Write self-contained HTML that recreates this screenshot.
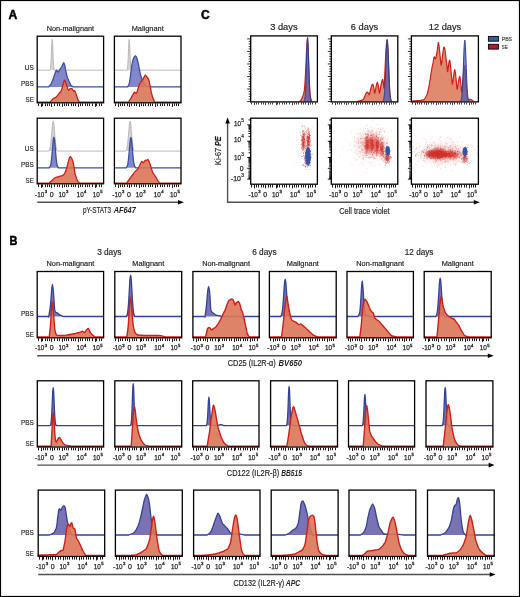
<!DOCTYPE html>
<html><head><meta charset="utf-8"><style>
html,body{margin:0;padding:0;background:#fff;}
body{width:520px;height:597px;overflow:hidden;}
svg{display:block;font-family:"Liberation Sans",sans-serif;will-change:transform;}
</style></head><body>
<svg width="520" height="597" viewBox="0 0 520 597">
<defs><filter id="bl06" x="-50%" y="-50%" width="200%" height="200%"><feGaussianBlur stdDeviation="0.6"/></filter><filter id="bl08" x="-50%" y="-50%" width="200%" height="200%"><feGaussianBlur stdDeviation="0.8"/></filter><filter id="bl10" x="-50%" y="-50%" width="200%" height="200%"><feGaussianBlur stdDeviation="1.0"/></filter><filter id="bl20" x="-50%" y="-50%" width="200%" height="200%"><feGaussianBlur stdDeviation="2.0"/></filter><filter id="bl30" x="-50%" y="-50%" width="200%" height="200%"><feGaussianBlur stdDeviation="3.0"/></filter></defs>
<rect x="0" y="0" width="520" height="597" fill="#fff"/>
<text x="8.6" y="18.5" font-size="12.6" text-anchor="start" font-weight="bold" font-style="normal" fill="#000" textLength="8.8" lengthAdjust="spacingAndGlyphs" stroke="#000" stroke-width="0.5">A</text>
<text x="70.4" y="30.5" font-size="7.5" text-anchor="middle" font-weight="normal" font-style="normal" fill="#231f20" textLength="47.5" lengthAdjust="spacingAndGlyphs" stroke="#231f20" stroke-width="0.18">Non-malignant</text>
<text x="147.7" y="30.5" font-size="7.5" text-anchor="middle" font-weight="normal" font-style="normal" fill="#231f20" textLength="32" lengthAdjust="spacingAndGlyphs" stroke="#231f20" stroke-width="0.18">Malignant</text>
<g>
<path d="M49.95,70.2 C49.95,70.14 49.9,70.05 49.95,69.86 C50,69.67 50.16,69.53 50.27,69.07 C50.38,68.61 50.49,68.09 50.59,67.1 C50.7,66.11 50.81,64.84 50.91,63.11 C51.02,61.38 51.13,59.1 51.24,56.72 C51.34,54.35 51.45,51.31 51.56,48.87 C51.66,46.43 51.77,43.68 51.88,42.1 C51.99,40.52 52.09,39.4 52.2,39.4 C52.31,39.4 52.41,40.52 52.52,42.1 C52.63,43.68 52.74,46.43 52.84,48.87 C52.95,51.31 53.06,54.35 53.16,56.72 C53.27,59.1 53.38,61.38 53.49,63.11 C53.59,64.84 53.7,66.11 53.81,67.1 C53.91,68.09 54.02,68.61 54.13,69.07 C54.24,69.53 54.4,69.67 54.45,69.86 C54.5,70.05 54.45,70.14 54.45,70.2 Z" fill="#d4d4d4" fill-opacity="1" stroke="none"/>
<path d="M37.2,70.2 L49.95,70.2 L49.95,70.2 C49.95,70.14 49.9,70.05 49.95,69.86 C50,69.67 50.16,69.53 50.27,69.07 C50.38,68.61 50.49,68.09 50.59,67.1 C50.7,66.11 50.81,64.84 50.91,63.11 C51.02,61.38 51.13,59.1 51.24,56.72 C51.34,54.35 51.45,51.31 51.56,48.87 C51.66,46.43 51.77,43.68 51.88,42.1 C51.99,40.52 52.09,39.4 52.2,39.4 C52.31,39.4 52.41,40.52 52.52,42.1 C52.63,43.68 52.74,46.43 52.84,48.87 C52.95,51.31 53.06,54.35 53.16,56.72 C53.27,59.1 53.38,61.38 53.49,63.11 C53.59,64.84 53.7,66.11 53.81,67.1 C53.91,68.09 54.02,68.61 54.13,69.07 C54.24,69.53 54.4,69.67 54.45,69.86 C54.5,70.05 54.45,70.14 54.45,70.2 L103.6,70.2" fill="none" stroke="#b3b3b3" stroke-width="0.9" stroke-linejoin="round"/>
<path d="M48.8,86.9 C48.8,86.85 48.43,87.08 48.8,86.6 C49.17,86.12 50.33,85.1 51,84 C51.67,82.9 52.22,81.5 52.8,80 C53.38,78.5 53.93,76.62 54.5,75 C55.07,73.38 55.73,70.93 56.2,70.3 C56.67,69.67 56.97,70.92 57.3,71.2 C57.63,71.48 57.83,72.2 58.2,72 C58.57,71.8 59.05,70.67 59.5,70 C59.95,69.33 60.45,68.67 60.9,68 C61.35,67.33 61.75,66.9 62.2,66 C62.65,65.1 63.17,62.68 63.6,62.6 C64.03,62.52 64.43,64.1 64.8,65.5 C65.17,66.9 65.47,69.33 65.8,71 C66.13,72.67 66.47,74.25 66.8,75.5 C67.13,76.75 67.38,77.42 67.8,78.5 C68.22,79.58 68.77,80.87 69.3,82 C69.83,83.13 70.38,84.53 71,85.3 C71.62,86.07 72.67,86.33 73,86.6 C73.33,86.87 73,86.85 73,86.9 Z" fill="#6f76c0" fill-opacity="0.88" stroke="none"/>
<path d="M37.2,86.9 L48.8,86.9 L48.8,86.9 C48.8,86.85 48.43,87.08 48.8,86.6 C49.17,86.12 50.33,85.1 51,84 C51.67,82.9 52.22,81.5 52.8,80 C53.38,78.5 53.93,76.62 54.5,75 C55.07,73.38 55.73,70.93 56.2,70.3 C56.67,69.67 56.97,70.92 57.3,71.2 C57.63,71.48 57.83,72.2 58.2,72 C58.57,71.8 59.05,70.67 59.5,70 C59.95,69.33 60.45,68.67 60.9,68 C61.35,67.33 61.75,66.9 62.2,66 C62.65,65.1 63.17,62.68 63.6,62.6 C64.03,62.52 64.43,64.1 64.8,65.5 C65.17,66.9 65.47,69.33 65.8,71 C66.13,72.67 66.47,74.25 66.8,75.5 C67.13,76.75 67.38,77.42 67.8,78.5 C68.22,79.58 68.77,80.87 69.3,82 C69.83,83.13 70.38,84.53 71,85.3 C71.62,86.07 72.67,86.33 73,86.6 C73.33,86.87 73,86.85 73,86.9 L103.6,86.9" fill="none" stroke="#3a4fa6" stroke-width="1.3" stroke-linejoin="round"/>
<path d="M50.1,102.2 C50.42,101.83 51.43,100.65 52,100 C52.57,99.35 52.92,98.7 53.5,98.3 C54.08,97.9 54.83,98.07 55.5,97.6 C56.17,97.13 56.88,96.23 57.5,95.5 C58.12,94.77 58.63,93.87 59.2,93.2 C59.77,92.53 60.37,92.53 60.9,91.5 C61.43,90.47 61.93,88.58 62.4,87 C62.87,85.42 63.32,83.15 63.7,82 C64.08,80.85 64.35,79.97 64.7,80.1 C65.05,80.23 65.38,81.73 65.8,82.8 C66.22,83.87 66.78,85.27 67.2,86.5 C67.62,87.73 67.92,89.7 68.3,90.2 C68.68,90.7 69.12,89.8 69.5,89.5 C69.88,89.2 70.23,88.55 70.6,88.4 C70.97,88.25 71.35,88.37 71.7,88.6 C72.05,88.83 72.37,89.37 72.7,89.8 C73.03,90.23 73.37,91.03 73.7,91.2 C74.03,91.37 74.37,90.52 74.7,90.8 C75.03,91.08 75.32,91.87 75.7,92.9 C76.08,93.93 76.53,95.68 77,97 C77.47,98.32 78.02,99.93 78.5,100.8 C78.98,101.67 79.67,101.97 79.9,102.2 Z" fill="#da7556" fill-opacity="0.9" stroke="none"/>
<path d="M37.2,102.2 L50.1,102.2 L50.1,102.2 C50.42,101.83 51.43,100.65 52,100 C52.57,99.35 52.92,98.7 53.5,98.3 C54.08,97.9 54.83,98.07 55.5,97.6 C56.17,97.13 56.88,96.23 57.5,95.5 C58.12,94.77 58.63,93.87 59.2,93.2 C59.77,92.53 60.37,92.53 60.9,91.5 C61.43,90.47 61.93,88.58 62.4,87 C62.87,85.42 63.32,83.15 63.7,82 C64.08,80.85 64.35,79.97 64.7,80.1 C65.05,80.23 65.38,81.73 65.8,82.8 C66.22,83.87 66.78,85.27 67.2,86.5 C67.62,87.73 67.92,89.7 68.3,90.2 C68.68,90.7 69.12,89.8 69.5,89.5 C69.88,89.2 70.23,88.55 70.6,88.4 C70.97,88.25 71.35,88.37 71.7,88.6 C72.05,88.83 72.37,89.37 72.7,89.8 C73.03,90.23 73.37,91.03 73.7,91.2 C74.03,91.37 74.37,90.52 74.7,90.8 C75.03,91.08 75.32,91.87 75.7,92.9 C76.08,93.93 76.53,95.68 77,97 C77.47,98.32 78.02,99.93 78.5,100.8 C78.98,101.67 79.67,101.97 79.9,102.2 L103.6,102.2" fill="none" stroke="#cf1f18" stroke-width="1.3" stroke-linejoin="round"/>
</g>
<rect x="37.2" y="36.2" width="66.4" height="66.6" fill="none" stroke="#000" stroke-width="1.3"/>
<path d="M38.5,103.4 v2.7 M42.5,103.4 v2.7 M45.5,103.4 v2.7 M47.5,103.4 v2.7 M49.5,103.4 v2.7 M54.5,103.4 v2.7 M57.5,103.4 v2.7 M59.5,103.4 v2.7 M64.5,103.4 v2.7 M66.5,103.4 v2.7 M68.5,103.4 v2.7 M71.5,103.4 v2.7 M73.5,103.4 v2.7 M75.5,103.4 v2.7 M80.5,103.4 v2.7 M82.5,103.4 v2.7 M85.5,103.4 v2.7 M87.5,103.4 v2.7 M89.5,103.4 v2.7 M92.5,103.4 v2.7 M96.5,103.4 v2.7 M99.5,103.4 v2.7 M101.5,103.4 v2.7 M41.5,103.4 v3.5 M51.5,103.4 v3.5 M62.5,103.4 v3.5 M78.5,103.4 v3.5 M95.5,103.4 v3.5 " stroke="#000" stroke-width="0.9" fill="none"/>
<g>
<path d="M126.95,70.2 C126.95,70.14 126.9,70.05 126.95,69.86 C127,69.67 127.16,69.53 127.27,69.07 C127.38,68.61 127.49,68.09 127.59,67.1 C127.7,66.11 127.81,64.84 127.91,63.11 C128.02,61.38 128.13,59.1 128.24,56.72 C128.34,54.35 128.45,51.31 128.56,48.87 C128.66,46.43 128.77,43.68 128.88,42.1 C128.99,40.52 129.09,39.4 129.2,39.4 C129.31,39.4 129.41,40.52 129.52,42.1 C129.63,43.68 129.74,46.43 129.84,48.87 C129.95,51.31 130.06,54.35 130.16,56.72 C130.27,59.1 130.38,61.38 130.49,63.11 C130.59,64.84 130.7,66.11 130.81,67.1 C130.91,68.09 131.02,68.61 131.13,69.07 C131.24,69.53 131.4,69.67 131.45,69.86 C131.5,70.05 131.45,70.14 131.45,70.2 Z" fill="#d4d4d4" fill-opacity="1" stroke="none"/>
<path d="M114.4,70.2 L126.95,70.2 L126.95,70.2 C126.95,70.14 126.9,70.05 126.95,69.86 C127,69.67 127.16,69.53 127.27,69.07 C127.38,68.61 127.49,68.09 127.59,67.1 C127.7,66.11 127.81,64.84 127.91,63.11 C128.02,61.38 128.13,59.1 128.24,56.72 C128.34,54.35 128.45,51.31 128.56,48.87 C128.66,46.43 128.77,43.68 128.88,42.1 C128.99,40.52 129.09,39.4 129.2,39.4 C129.31,39.4 129.41,40.52 129.52,42.1 C129.63,43.68 129.74,46.43 129.84,48.87 C129.95,51.31 130.06,54.35 130.16,56.72 C130.27,59.1 130.38,61.38 130.49,63.11 C130.59,64.84 130.7,66.11 130.81,67.1 C130.91,68.09 131.02,68.61 131.13,69.07 C131.24,69.53 131.4,69.67 131.45,69.86 C131.5,70.05 131.45,70.14 131.45,70.2 L181,70.2" fill="none" stroke="#b3b3b3" stroke-width="0.9" stroke-linejoin="round"/>
<path d="M127.6,86.9 C127.6,86.85 127.37,87 127.6,86.6 C127.83,86.2 128.57,85.93 129,84.5 C129.43,83.07 129.82,80.58 130.2,78 C130.58,75.42 130.92,71.68 131.3,69 C131.68,66.32 132.05,63.83 132.5,61.9 C132.95,59.97 133.48,58.4 134,57.4 C134.52,56.4 135.1,55.72 135.6,55.9 C136.1,56.08 136.53,57.12 137,58.5 C137.47,59.88 137.97,62.2 138.4,64.2 C138.83,66.2 139.2,68.57 139.6,70.5 C140,72.43 140.3,74.2 140.8,75.8 C141.3,77.4 141.97,78.7 142.6,80.1 C143.23,81.5 143.87,83.17 144.6,84.2 C145.33,85.23 146.35,85.9 147,86.3 C147.65,86.7 148.25,86.5 148.5,86.6 C148.75,86.7 148.5,86.85 148.5,86.9 Z" fill="#6f76c0" fill-opacity="0.88" stroke="none"/>
<path d="M114.4,86.9 L127.6,86.9 L127.6,86.9 C127.6,86.85 127.37,87 127.6,86.6 C127.83,86.2 128.57,85.93 129,84.5 C129.43,83.07 129.82,80.58 130.2,78 C130.58,75.42 130.92,71.68 131.3,69 C131.68,66.32 132.05,63.83 132.5,61.9 C132.95,59.97 133.48,58.4 134,57.4 C134.52,56.4 135.1,55.72 135.6,55.9 C136.1,56.08 136.53,57.12 137,58.5 C137.47,59.88 137.97,62.2 138.4,64.2 C138.83,66.2 139.2,68.57 139.6,70.5 C140,72.43 140.3,74.2 140.8,75.8 C141.3,77.4 141.97,78.7 142.6,80.1 C143.23,81.5 143.87,83.17 144.6,84.2 C145.33,85.23 146.35,85.9 147,86.3 C147.65,86.7 148.25,86.5 148.5,86.6 C148.75,86.7 148.5,86.85 148.5,86.9 L181,86.9" fill="none" stroke="#3a4fa6" stroke-width="1.3" stroke-linejoin="round"/>
<path d="M128.5,102.2 C128.92,101.5 130.22,99.33 131,98 C131.78,96.67 132.62,95.17 133.2,94.2 C133.78,93.23 134.12,92.4 134.5,92.2 C134.88,92 135.15,92.88 135.5,93 C135.85,93.12 136.15,93.73 136.6,92.9 C137.05,92.07 137.65,89.57 138.2,88 C138.75,86.43 139.35,84.67 139.9,83.5 C140.45,82.33 141,81.68 141.5,81 C142,80.32 142.47,80.07 142.9,79.4 C143.33,78.73 143.7,77.72 144.1,77 C144.5,76.28 144.9,75.18 145.3,75.1 C145.7,75.02 146.1,76.05 146.5,76.5 C146.9,76.95 147.28,77.08 147.7,77.8 C148.12,78.52 148.58,79.35 149,80.8 C149.42,82.25 149.8,84.48 150.2,86.5 C150.6,88.52 150.93,90.95 151.4,92.9 C151.87,94.85 152.42,96.65 153,98.2 C153.58,99.75 154.58,101.53 154.9,102.2 Z" fill="#da7556" fill-opacity="0.9" stroke="none"/>
<path d="M114.4,102.2 L128.5,102.2 L128.5,102.2 C128.92,101.5 130.22,99.33 131,98 C131.78,96.67 132.62,95.17 133.2,94.2 C133.78,93.23 134.12,92.4 134.5,92.2 C134.88,92 135.15,92.88 135.5,93 C135.85,93.12 136.15,93.73 136.6,92.9 C137.05,92.07 137.65,89.57 138.2,88 C138.75,86.43 139.35,84.67 139.9,83.5 C140.45,82.33 141,81.68 141.5,81 C142,80.32 142.47,80.07 142.9,79.4 C143.33,78.73 143.7,77.72 144.1,77 C144.5,76.28 144.9,75.18 145.3,75.1 C145.7,75.02 146.1,76.05 146.5,76.5 C146.9,76.95 147.28,77.08 147.7,77.8 C148.12,78.52 148.58,79.35 149,80.8 C149.42,82.25 149.8,84.48 150.2,86.5 C150.6,88.52 150.93,90.95 151.4,92.9 C151.87,94.85 152.42,96.65 153,98.2 C153.58,99.75 154.58,101.53 154.9,102.2 L181,102.2" fill="none" stroke="#cf1f18" stroke-width="1.3" stroke-linejoin="round"/>
</g>
<rect x="114.4" y="36.2" width="66.6" height="66.6" fill="none" stroke="#000" stroke-width="1.3"/>
<path d="M115.5,103.4 v2.7 M120.5,103.4 v2.7 M122.5,103.4 v2.7 M124.5,103.4 v2.7 M127.5,103.4 v2.7 M131.5,103.4 v2.7 M134.5,103.4 v2.7 M136.5,103.4 v2.7 M141.5,103.4 v2.7 M143.5,103.4 v2.7 M145.5,103.4 v2.7 M148.5,103.4 v2.7 M150.5,103.4 v2.7 M152.5,103.4 v2.7 M157.5,103.4 v2.7 M160.5,103.4 v2.7 M162.5,103.4 v2.7 M164.5,103.4 v2.7 M167.5,103.4 v2.7 M169.5,103.4 v2.7 M174.5,103.4 v2.7 M176.5,103.4 v2.7 M178.5,103.4 v2.7 M118.5,103.4 v3.5 M129.5,103.4 v3.5 M139.5,103.4 v3.5 M155.5,103.4 v3.5 M172.5,103.4 v3.5 " stroke="#000" stroke-width="0.9" fill="none"/>
<g>
<path d="M48.85,151.1 C48.85,151.04 48.75,150.95 48.85,150.76 C48.95,150.58 49.26,150.44 49.47,149.99 C49.68,149.54 49.89,149.03 50.09,148.05 C50.3,147.07 50.51,145.83 50.71,144.13 C50.92,142.43 51.13,140.18 51.34,137.84 C51.54,135.51 51.75,132.51 51.96,130.12 C52.16,127.72 52.37,125.01 52.58,123.46 C52.79,121.91 52.99,120.8 53.2,120.8 C53.41,120.8 53.61,121.91 53.82,123.46 C54.03,125.01 54.24,127.72 54.44,130.12 C54.65,132.51 54.86,135.51 55.06,137.84 C55.27,140.18 55.48,142.43 55.69,144.13 C55.89,145.83 56.1,147.07 56.31,148.05 C56.51,149.03 56.72,149.54 56.93,149.99 C57.14,150.44 57.45,150.58 57.55,150.76 C57.65,150.95 57.55,151.04 57.55,151.1 Z" fill="#d4d4d4" fill-opacity="1" stroke="none"/>
<path d="M37.2,151.1 L48.85,151.1 L48.85,151.1 C48.85,151.04 48.75,150.95 48.85,150.76 C48.95,150.58 49.26,150.44 49.47,149.99 C49.68,149.54 49.89,149.03 50.09,148.05 C50.3,147.07 50.51,145.83 50.71,144.13 C50.92,142.43 51.13,140.18 51.34,137.84 C51.54,135.51 51.75,132.51 51.96,130.12 C52.16,127.72 52.37,125.01 52.58,123.46 C52.79,121.91 52.99,120.8 53.2,120.8 C53.41,120.8 53.61,121.91 53.82,123.46 C54.03,125.01 54.24,127.72 54.44,130.12 C54.65,132.51 54.86,135.51 55.06,137.84 C55.27,140.18 55.48,142.43 55.69,144.13 C55.89,145.83 56.1,147.07 56.31,148.05 C56.51,149.03 56.72,149.54 56.93,149.99 C57.14,150.44 57.45,150.58 57.55,150.76 C57.65,150.95 57.55,151.04 57.55,151.1 L103.6,151.1" fill="none" stroke="#b3b3b3" stroke-width="0.9" stroke-linejoin="round"/>
<path d="M49.55,167.8 C49.55,167.71 49.45,167.48 49.55,167.26 C49.65,167.04 49.96,166.94 50.17,166.49 C50.38,166.03 50.59,165.52 50.79,164.54 C51,163.56 51.21,162.31 51.41,160.61 C51.62,158.9 51.83,156.64 52.04,154.3 C52.24,151.95 52.45,148.95 52.66,146.55 C52.86,144.14 53.07,141.43 53.28,139.87 C53.49,138.31 53.69,137.2 53.9,137.2 C54.11,137.2 54.31,138.31 54.52,139.87 C54.73,141.43 54.94,144.14 55.14,146.55 C55.35,148.95 55.56,151.95 55.76,154.3 C55.97,156.64 56.18,158.9 56.39,160.61 C56.59,162.31 56.8,163.56 57.01,164.54 C57.21,165.52 57.42,166.03 57.63,166.49 C57.84,166.94 58.15,167.04 58.25,167.26 C58.35,167.48 58.25,167.71 58.25,167.8 Z" fill="#6f76c0" fill-opacity="0.88" stroke="none"/>
<path d="M37.2,167.8 L49.55,167.8 L49.55,167.8 C49.55,167.71 49.45,167.48 49.55,167.26 C49.65,167.04 49.96,166.94 50.17,166.49 C50.38,166.03 50.59,165.52 50.79,164.54 C51,163.56 51.21,162.31 51.41,160.61 C51.62,158.9 51.83,156.64 52.04,154.3 C52.24,151.95 52.45,148.95 52.66,146.55 C52.86,144.14 53.07,141.43 53.28,139.87 C53.49,138.31 53.69,137.2 53.9,137.2 C54.11,137.2 54.31,138.31 54.52,139.87 C54.73,141.43 54.94,144.14 55.14,146.55 C55.35,148.95 55.56,151.95 55.76,154.3 C55.97,156.64 56.18,158.9 56.39,160.61 C56.59,162.31 56.8,163.56 57.01,164.54 C57.21,165.52 57.42,166.03 57.63,166.49 C57.84,166.94 58.15,167.04 58.25,167.26 C58.35,167.48 58.25,167.71 58.25,167.8 L103.6,167.8" fill="none" stroke="#3a4fa6" stroke-width="1.3" stroke-linejoin="round"/>
<path d="M48.8,183.2 C49.17,182.92 50.22,182.2 51,181.5 C51.78,180.8 52.75,179.67 53.5,179 C54.25,178.33 54.83,177.85 55.5,177.5 C56.17,177.15 56.92,177.07 57.5,176.9 C58.08,176.73 58.55,176.62 59,176.5 C59.45,176.38 59.67,176.35 60.2,176.2 C60.73,176.05 61.52,175.93 62.2,175.6 C62.88,175.27 63.72,174.97 64.3,174.2 C64.88,173.43 65.25,172.23 65.7,171 C66.15,169.77 66.55,168.38 67,166.8 C67.45,165.22 68,162.97 68.4,161.5 C68.8,160.03 69.08,158.8 69.4,158 C69.72,157.2 70,156.78 70.3,156.7 C70.6,156.62 70.88,157.03 71.2,157.5 C71.52,157.97 71.9,158.82 72.2,159.5 C72.5,160.18 72.7,160.35 73,161.6 C73.3,162.85 73.67,165.02 74,167 C74.33,168.98 74.58,171.63 75,173.5 C75.42,175.37 76,176.87 76.5,178.2 C77,179.53 77.43,180.67 78,181.5 C78.57,182.33 79.58,182.92 79.9,183.2 Z" fill="#da7556" fill-opacity="0.9" stroke="none"/>
<path d="M37.2,183.2 L48.8,183.2 L48.8,183.2 C49.17,182.92 50.22,182.2 51,181.5 C51.78,180.8 52.75,179.67 53.5,179 C54.25,178.33 54.83,177.85 55.5,177.5 C56.17,177.15 56.92,177.07 57.5,176.9 C58.08,176.73 58.55,176.62 59,176.5 C59.45,176.38 59.67,176.35 60.2,176.2 C60.73,176.05 61.52,175.93 62.2,175.6 C62.88,175.27 63.72,174.97 64.3,174.2 C64.88,173.43 65.25,172.23 65.7,171 C66.15,169.77 66.55,168.38 67,166.8 C67.45,165.22 68,162.97 68.4,161.5 C68.8,160.03 69.08,158.8 69.4,158 C69.72,157.2 70,156.78 70.3,156.7 C70.6,156.62 70.88,157.03 71.2,157.5 C71.52,157.97 71.9,158.82 72.2,159.5 C72.5,160.18 72.7,160.35 73,161.6 C73.3,162.85 73.67,165.02 74,167 C74.33,168.98 74.58,171.63 75,173.5 C75.42,175.37 76,176.87 76.5,178.2 C77,179.53 77.43,180.67 78,181.5 C78.57,182.33 79.58,182.92 79.9,183.2 L103.6,183.2" fill="none" stroke="#cf1f18" stroke-width="1.3" stroke-linejoin="round"/>
</g>
<rect x="37.2" y="118.2" width="66.4" height="65.6" fill="none" stroke="#000" stroke-width="1.3"/>
<path d="M38.5,184.4 v2.7 M42.5,184.4 v2.7 M45.5,184.4 v2.7 M47.5,184.4 v2.7 M49.5,184.4 v2.7 M54.5,184.4 v2.7 M57.5,184.4 v2.7 M59.5,184.4 v2.7 M64.5,184.4 v2.7 M66.5,184.4 v2.7 M68.5,184.4 v2.7 M71.5,184.4 v2.7 M73.5,184.4 v2.7 M75.5,184.4 v2.7 M80.5,184.4 v2.7 M82.5,184.4 v2.7 M85.5,184.4 v2.7 M87.5,184.4 v2.7 M89.5,184.4 v2.7 M92.5,184.4 v2.7 M96.5,184.4 v2.7 M99.5,184.4 v2.7 M101.5,184.4 v2.7 M41.5,184.4 v3.5 M51.5,184.4 v3.5 M62.5,184.4 v3.5 M78.5,184.4 v3.5 M95.5,184.4 v3.5 " stroke="#000" stroke-width="0.9" fill="none"/>
<text x="35.1" y="197" font-size="7.3" text-anchor="start" font-weight="normal" font-style="normal" fill="#231f20" textLength="9.2" lengthAdjust="spacingAndGlyphs" stroke="#231f20" stroke-width="0.25">-10</text>
<text x="44.7" y="193.2" font-size="4.4" text-anchor="start" font-weight="normal" font-style="normal" fill="#231f20" textLength="2.4" lengthAdjust="spacingAndGlyphs" stroke="#231f20" stroke-width="0.3">3</text>
<text x="49.8" y="197" font-size="7.3" text-anchor="start" font-weight="normal" font-style="normal" fill="#231f20" textLength="3.9" lengthAdjust="spacingAndGlyphs" stroke="#231f20" stroke-width="0.25">0</text>
<text x="58.5" y="197" font-size="7.3" text-anchor="start" font-weight="normal" font-style="normal" fill="#231f20" textLength="7.1" lengthAdjust="spacingAndGlyphs" stroke="#231f20" stroke-width="0.25">10</text>
<text x="66" y="193.2" font-size="4.4" text-anchor="start" font-weight="normal" font-style="normal" fill="#231f20" textLength="2.4" lengthAdjust="spacingAndGlyphs" stroke="#231f20" stroke-width="0.3">3</text>
<text x="76.6" y="197" font-size="7.3" text-anchor="start" font-weight="normal" font-style="normal" fill="#231f20" textLength="7.1" lengthAdjust="spacingAndGlyphs" stroke="#231f20" stroke-width="0.25">10</text>
<text x="84.1" y="193.2" font-size="4.4" text-anchor="start" font-weight="normal" font-style="normal" fill="#231f20" textLength="2.4" lengthAdjust="spacingAndGlyphs" stroke="#231f20" stroke-width="0.3">4</text>
<text x="92.8" y="197" font-size="7.3" text-anchor="start" font-weight="normal" font-style="normal" fill="#231f20" textLength="7.1" lengthAdjust="spacingAndGlyphs" stroke="#231f20" stroke-width="0.25">10</text>
<text x="100.3" y="193.2" font-size="4.4" text-anchor="start" font-weight="normal" font-style="normal" fill="#231f20" textLength="2.4" lengthAdjust="spacingAndGlyphs" stroke="#231f20" stroke-width="0.3">5</text>
<g>
<path d="M125.75,151.1 C125.75,151.04 125.65,150.95 125.75,150.77 C125.85,150.58 126.16,150.45 126.37,150 C126.58,149.55 126.79,149.04 126.99,148.07 C127.2,147.1 127.41,145.87 127.61,144.18 C127.82,142.48 128.03,140.25 128.24,137.93 C128.44,135.61 128.65,132.64 128.86,130.25 C129.06,127.87 129.27,125.18 129.48,123.64 C129.69,122.1 129.89,121 130.1,121 C130.31,121 130.51,122.1 130.72,123.64 C130.93,125.18 131.14,127.87 131.34,130.25 C131.55,132.64 131.76,135.61 131.96,137.93 C132.17,140.25 132.38,142.48 132.59,144.18 C132.79,145.87 133,147.1 133.21,148.07 C133.41,149.04 133.62,149.55 133.83,150 C134.04,150.45 134.35,150.58 134.45,150.77 C134.55,150.95 134.45,151.04 134.45,151.1 Z" fill="#d4d4d4" fill-opacity="1" stroke="none"/>
<path d="M114.4,151.1 L125.75,151.1 L125.75,151.1 C125.75,151.04 125.65,150.95 125.75,150.77 C125.85,150.58 126.16,150.45 126.37,150 C126.58,149.55 126.79,149.04 126.99,148.07 C127.2,147.1 127.41,145.87 127.61,144.18 C127.82,142.48 128.03,140.25 128.24,137.93 C128.44,135.61 128.65,132.64 128.86,130.25 C129.06,127.87 129.27,125.18 129.48,123.64 C129.69,122.1 129.89,121 130.1,121 C130.31,121 130.51,122.1 130.72,123.64 C130.93,125.18 131.14,127.87 131.34,130.25 C131.55,132.64 131.76,135.61 131.96,137.93 C132.17,140.25 132.38,142.48 132.59,144.18 C132.79,145.87 133,147.1 133.21,148.07 C133.41,149.04 133.62,149.55 133.83,150 C134.04,150.45 134.35,150.58 134.45,150.77 C134.55,150.95 134.45,151.04 134.45,151.1 L181,151.1" fill="none" stroke="#b3b3b3" stroke-width="0.9" stroke-linejoin="round"/>
<path d="M126.4,167.8 C126.4,167.71 126.29,167.48 126.4,167.27 C126.51,167.05 126.83,166.95 127.04,166.5 C127.26,166.05 127.47,165.54 127.69,164.57 C127.9,163.6 128.11,162.37 128.33,160.68 C128.54,158.98 128.76,156.75 128.97,154.43 C129.19,152.11 129.4,149.14 129.61,146.75 C129.83,144.37 130.04,141.68 130.26,140.14 C130.47,138.6 130.69,137.5 130.9,137.5 C131.11,137.5 131.33,138.6 131.54,140.14 C131.76,141.68 131.97,144.37 132.19,146.75 C132.4,149.14 132.61,152.11 132.83,154.43 C133.04,156.75 133.26,158.98 133.47,160.68 C133.69,162.37 133.9,163.6 134.11,164.57 C134.33,165.54 134.54,166.05 134.76,166.5 C134.97,166.95 135.29,167.05 135.4,167.27 C135.51,167.48 135.4,167.71 135.4,167.8 Z" fill="#6f76c0" fill-opacity="0.88" stroke="none"/>
<path d="M114.4,167.8 L126.4,167.8 L126.4,167.8 C126.4,167.71 126.29,167.48 126.4,167.27 C126.51,167.05 126.83,166.95 127.04,166.5 C127.26,166.05 127.47,165.54 127.69,164.57 C127.9,163.6 128.11,162.37 128.33,160.68 C128.54,158.98 128.76,156.75 128.97,154.43 C129.19,152.11 129.4,149.14 129.61,146.75 C129.83,144.37 130.04,141.68 130.26,140.14 C130.47,138.6 130.69,137.5 130.9,137.5 C131.11,137.5 131.33,138.6 131.54,140.14 C131.76,141.68 131.97,144.37 132.19,146.75 C132.4,149.14 132.61,152.11 132.83,154.43 C133.04,156.75 133.26,158.98 133.47,160.68 C133.69,162.37 133.9,163.6 134.11,164.57 C134.33,165.54 134.54,166.05 134.76,166.5 C134.97,166.95 135.29,167.05 135.4,167.27 C135.51,167.48 135.4,167.71 135.4,167.8 L181,167.8" fill="none" stroke="#3a4fa6" stroke-width="1.3" stroke-linejoin="round"/>
<path d="M126.5,183.2 C126.83,182.75 127.83,181.43 128.5,180.5 C129.17,179.57 129.83,178.52 130.5,177.6 C131.17,176.68 131.83,175.9 132.5,175 C133.17,174.1 133.88,172.95 134.5,172.2 C135.12,171.45 135.63,171.07 136.2,170.5 C136.77,169.93 137.38,169.55 137.9,168.8 C138.42,168.05 138.85,166.9 139.3,166 C139.75,165.1 140.28,164.07 140.6,163.4 C140.92,162.73 140.98,162.33 141.2,162 C141.42,161.67 141.67,161.32 141.9,161.4 C142.13,161.48 142.37,162.27 142.6,162.5 C142.83,162.73 143.02,162.97 143.3,162.8 C143.58,162.63 143.97,161.92 144.3,161.5 C144.63,161.08 144.93,160.47 145.3,160.3 C145.67,160.13 146.1,160.65 146.5,160.5 C146.9,160.35 147.37,159.4 147.7,159.4 C148.03,159.4 148.23,160.05 148.5,160.5 C148.77,160.95 149,161.35 149.3,162.1 C149.6,162.85 149.95,163.88 150.3,165 C150.65,166.12 151.05,167.72 151.4,168.8 C151.75,169.88 152.07,170.72 152.4,171.5 C152.73,172.28 153.02,172.83 153.4,173.5 C153.78,174.17 154.25,174.82 154.7,175.5 C155.15,176.18 155.58,176.77 156.1,177.6 C156.62,178.43 157.22,179.57 157.8,180.5 C158.38,181.43 159.3,182.75 159.6,183.2 Z" fill="#da7556" fill-opacity="0.9" stroke="none"/>
<path d="M114.4,183.2 L126.5,183.2 L126.5,183.2 C126.83,182.75 127.83,181.43 128.5,180.5 C129.17,179.57 129.83,178.52 130.5,177.6 C131.17,176.68 131.83,175.9 132.5,175 C133.17,174.1 133.88,172.95 134.5,172.2 C135.12,171.45 135.63,171.07 136.2,170.5 C136.77,169.93 137.38,169.55 137.9,168.8 C138.42,168.05 138.85,166.9 139.3,166 C139.75,165.1 140.28,164.07 140.6,163.4 C140.92,162.73 140.98,162.33 141.2,162 C141.42,161.67 141.67,161.32 141.9,161.4 C142.13,161.48 142.37,162.27 142.6,162.5 C142.83,162.73 143.02,162.97 143.3,162.8 C143.58,162.63 143.97,161.92 144.3,161.5 C144.63,161.08 144.93,160.47 145.3,160.3 C145.67,160.13 146.1,160.65 146.5,160.5 C146.9,160.35 147.37,159.4 147.7,159.4 C148.03,159.4 148.23,160.05 148.5,160.5 C148.77,160.95 149,161.35 149.3,162.1 C149.6,162.85 149.95,163.88 150.3,165 C150.65,166.12 151.05,167.72 151.4,168.8 C151.75,169.88 152.07,170.72 152.4,171.5 C152.73,172.28 153.02,172.83 153.4,173.5 C153.78,174.17 154.25,174.82 154.7,175.5 C155.15,176.18 155.58,176.77 156.1,177.6 C156.62,178.43 157.22,179.57 157.8,180.5 C158.38,181.43 159.3,182.75 159.6,183.2 L181,183.2" fill="none" stroke="#cf1f18" stroke-width="1.3" stroke-linejoin="round"/>
</g>
<rect x="114.4" y="118.2" width="66.6" height="65.6" fill="none" stroke="#000" stroke-width="1.3"/>
<path d="M115.5,184.4 v2.7 M120.5,184.4 v2.7 M122.5,184.4 v2.7 M124.5,184.4 v2.7 M127.5,184.4 v2.7 M131.5,184.4 v2.7 M134.5,184.4 v2.7 M136.5,184.4 v2.7 M141.5,184.4 v2.7 M143.5,184.4 v2.7 M145.5,184.4 v2.7 M148.5,184.4 v2.7 M150.5,184.4 v2.7 M152.5,184.4 v2.7 M157.5,184.4 v2.7 M160.5,184.4 v2.7 M162.5,184.4 v2.7 M164.5,184.4 v2.7 M167.5,184.4 v2.7 M169.5,184.4 v2.7 M174.5,184.4 v2.7 M176.5,184.4 v2.7 M178.5,184.4 v2.7 M118.5,184.4 v3.5 M129.5,184.4 v3.5 M139.5,184.4 v3.5 M155.5,184.4 v3.5 M172.5,184.4 v3.5 " stroke="#000" stroke-width="0.9" fill="none"/>
<text x="112.3" y="197" font-size="7.3" text-anchor="start" font-weight="normal" font-style="normal" fill="#231f20" textLength="9.2" lengthAdjust="spacingAndGlyphs" stroke="#231f20" stroke-width="0.25">-10</text>
<text x="121.9" y="193.2" font-size="4.4" text-anchor="start" font-weight="normal" font-style="normal" fill="#231f20" textLength="2.4" lengthAdjust="spacingAndGlyphs" stroke="#231f20" stroke-width="0.3">3</text>
<text x="127" y="197" font-size="7.3" text-anchor="start" font-weight="normal" font-style="normal" fill="#231f20" textLength="3.9" lengthAdjust="spacingAndGlyphs" stroke="#231f20" stroke-width="0.25">0</text>
<text x="135.7" y="197" font-size="7.3" text-anchor="start" font-weight="normal" font-style="normal" fill="#231f20" textLength="7.1" lengthAdjust="spacingAndGlyphs" stroke="#231f20" stroke-width="0.25">10</text>
<text x="143.2" y="193.2" font-size="4.4" text-anchor="start" font-weight="normal" font-style="normal" fill="#231f20" textLength="2.4" lengthAdjust="spacingAndGlyphs" stroke="#231f20" stroke-width="0.3">3</text>
<text x="153.8" y="197" font-size="7.3" text-anchor="start" font-weight="normal" font-style="normal" fill="#231f20" textLength="7.1" lengthAdjust="spacingAndGlyphs" stroke="#231f20" stroke-width="0.25">10</text>
<text x="161.3" y="193.2" font-size="4.4" text-anchor="start" font-weight="normal" font-style="normal" fill="#231f20" textLength="2.4" lengthAdjust="spacingAndGlyphs" stroke="#231f20" stroke-width="0.3">4</text>
<text x="170" y="197" font-size="7.3" text-anchor="start" font-weight="normal" font-style="normal" fill="#231f20" textLength="7.1" lengthAdjust="spacingAndGlyphs" stroke="#231f20" stroke-width="0.25">10</text>
<text x="177.5" y="193.2" font-size="4.4" text-anchor="start" font-weight="normal" font-style="normal" fill="#231f20" textLength="2.4" lengthAdjust="spacingAndGlyphs" stroke="#231f20" stroke-width="0.3">5</text>
<text x="33.8" y="69.6" font-size="7.7" text-anchor="end" font-weight="normal" font-style="normal" fill="#231f20" textLength="9" lengthAdjust="spacingAndGlyphs" stroke="#231f20" stroke-width="0.18">US</text>
<text x="33.8" y="86.4" font-size="7.7" text-anchor="end" font-weight="normal" font-style="normal" fill="#231f20" textLength="12.8" lengthAdjust="spacingAndGlyphs" stroke="#231f20" stroke-width="0.18">PBS</text>
<text x="33.8" y="102" font-size="7.7" text-anchor="end" font-weight="normal" font-style="normal" fill="#231f20" textLength="8.2" lengthAdjust="spacingAndGlyphs" stroke="#231f20" stroke-width="0.18">SE</text>
<text x="33.8" y="150.7" font-size="7.7" text-anchor="end" font-weight="normal" font-style="normal" fill="#231f20" textLength="9" lengthAdjust="spacingAndGlyphs" stroke="#231f20" stroke-width="0.18">US</text>
<text x="33.8" y="167.2" font-size="7.7" text-anchor="end" font-weight="normal" font-style="normal" fill="#231f20" textLength="12.8" lengthAdjust="spacingAndGlyphs" stroke="#231f20" stroke-width="0.18">PBS</text>
<text x="33.8" y="183.2" font-size="7.7" text-anchor="end" font-weight="normal" font-style="normal" fill="#231f20" textLength="8.2" lengthAdjust="spacingAndGlyphs" stroke="#231f20" stroke-width="0.18">SE</text>
<line x1="37.2" y1="202.3" x2="180" y2="202.3" stroke="#505050" stroke-width="1.4"/>
<path d="M184,202.3 L178,200 L178,204.6 Z" fill="#000"/>
<text x="82.9" y="213.1" font-size="8.6" text-anchor="start" font-weight="normal" font-style="normal" fill="#231f20" textLength="28.1" lengthAdjust="spacingAndGlyphs" stroke="#231f20" stroke-width="0.18">pY-STAT3</text>
<text x="113.7" y="213.1" font-size="8.6" text-anchor="start" font-weight="bold" font-style="italic" fill="#231f20" textLength="22.1" lengthAdjust="spacingAndGlyphs">AF647</text>
<text x="201" y="19.3" font-size="12.6" text-anchor="start" font-weight="bold" font-style="normal" fill="#000" textLength="8.7" lengthAdjust="spacingAndGlyphs" stroke="#000" stroke-width="0.5">C</text>
<text x="283.9" y="29.6" font-size="8.2" text-anchor="middle" font-weight="normal" font-style="normal" fill="#231f20" textLength="27.4" lengthAdjust="spacingAndGlyphs" stroke="#231f20" stroke-width="0.18">3 days</text>
<text x="364.5" y="29.6" font-size="8.2" text-anchor="middle" font-weight="normal" font-style="normal" fill="#231f20" textLength="27.4" lengthAdjust="spacingAndGlyphs" stroke="#231f20" stroke-width="0.18">6 days</text>
<text x="445" y="29.6" font-size="8.2" text-anchor="middle" font-weight="normal" font-style="normal" fill="#231f20" textLength="32.4" lengthAdjust="spacingAndGlyphs" stroke="#231f20" stroke-width="0.18">12 days</text>
<rect x="488.4" y="36.4" width="10" height="4.8" fill="#3b5ba5" stroke="#000" stroke-width="0.9"/>
<rect x="488.4" y="44.3" width="10" height="4.8" fill="#c8102e" stroke="#000" stroke-width="0.9"/>
<text x="501.8" y="40.5" font-size="5.9" text-anchor="start" font-weight="normal" font-style="normal" fill="#444" textLength="10.2" lengthAdjust="spacingAndGlyphs" stroke="#444" stroke-width="0.18">PBS</text>
<text x="501.8" y="48.8" font-size="5.9" text-anchor="start" font-weight="normal" font-style="normal" fill="#444" textLength="6" lengthAdjust="spacingAndGlyphs" stroke="#444" stroke-width="0.18">SE</text>
<path d="M299.8,101.3 C300.08,101.02 300.93,100.62 301.5,99.6 C302.07,98.58 302.7,96.97 303.2,95.2 C303.7,93.43 304.12,92.53 304.5,89 C304.88,85.47 305.17,80.17 305.5,74 C305.83,67.83 306.18,57.97 306.5,52 C306.82,46.03 307.1,38.2 307.4,38.2 C307.7,38.2 308,45.37 308.3,52 C308.6,58.63 308.88,70.83 309.2,78 C309.52,85.17 309.77,91.12 310.2,95 C310.63,98.88 311.53,100.25 311.8,101.3 Z" fill="#da7556" fill-opacity="0.85" stroke="none"/>
<path d="M299.8,101.3 C300.08,101.02 300.93,100.62 301.5,99.6 C302.07,98.58 302.7,96.97 303.2,95.2 C303.7,93.43 304.12,92.53 304.5,89 C304.88,85.47 305.17,80.17 305.5,74 C305.83,67.83 306.18,57.97 306.5,52 C306.82,46.03 307.1,38.2 307.4,38.2 C307.7,38.2 308,45.37 308.3,52 C308.6,58.63 308.88,70.83 309.2,78 C309.52,85.17 309.77,91.12 310.2,95 C310.63,98.88 311.53,100.25 311.8,101.3" fill="none" stroke="#cf1f18" stroke-width="1.2" stroke-linejoin="round"/>
<path d="M304.3,101.3 C304.3,101.18 304.23,100.93 304.3,100.59 C304.37,100.25 304.58,99.99 304.71,99.26 C304.85,98.53 304.99,97.71 305.12,96.22 C305.26,94.72 305.4,92.89 305.54,90.28 C305.68,87.67 305.81,84.37 305.95,80.55 C306.09,76.73 306.23,71.94 306.36,67.36 C306.5,62.78 306.64,57.34 306.78,53.07 C306.91,48.8 307.05,44.35 307.19,41.74 C307.32,39.13 307.46,37.4 307.6,37.4 C307.74,37.4 307.88,39.13 308.01,41.74 C308.15,44.35 308.29,48.8 308.43,53.07 C308.56,57.34 308.7,62.78 308.84,67.36 C308.98,71.94 309.11,76.73 309.25,80.55 C309.39,84.37 309.53,87.67 309.66,90.28 C309.8,92.89 309.94,94.72 310.08,96.22 C310.21,97.71 310.35,98.53 310.49,99.26 C310.62,99.99 310.83,100.25 310.9,100.59 C310.97,100.93 310.9,101.18 310.9,101.3 Z" fill="#4a5aad" fill-opacity="0.72" stroke="none"/>
<path d="M304.3,101.3 C304.3,101.18 304.23,100.93 304.3,100.59 C304.37,100.25 304.58,99.99 304.71,99.26 C304.85,98.53 304.99,97.71 305.12,96.22 C305.26,94.72 305.4,92.89 305.54,90.28 C305.68,87.67 305.81,84.37 305.95,80.55 C306.09,76.73 306.23,71.94 306.36,67.36 C306.5,62.78 306.64,57.34 306.78,53.07 C306.91,48.8 307.05,44.35 307.19,41.74 C307.32,39.13 307.46,37.4 307.6,37.4 C307.74,37.4 307.88,39.13 308.01,41.74 C308.15,44.35 308.29,48.8 308.43,53.07 C308.56,57.34 308.7,62.78 308.84,67.36 C308.98,71.94 309.11,76.73 309.25,80.55 C309.39,84.37 309.53,87.67 309.66,90.28 C309.8,92.89 309.94,94.72 310.08,96.22 C310.21,97.71 310.35,98.53 310.49,99.26 C310.62,99.99 310.83,100.25 310.9,100.59 C310.97,100.93 310.9,101.18 310.9,101.3" fill="none" stroke="#2d3f9e" stroke-width="1" stroke-linejoin="round"/>
<rect x="250.7" y="35.9" width="66.7" height="66" fill="none" stroke="#000" stroke-width="1.3"/>
<path d="M247.2,38.9 h3.5 M248.7,41.41 h2 M248.7,43.92 h2 M248.7,46.42 h2 M248.7,48.93 h2 M247.2,51.44 h3.5 M248.7,53.95 h2 M248.7,56.46 h2 M248.7,58.96 h2 M248.7,61.47 h2 M247.2,63.98 h3.5 M248.7,66.49 h2 M248.7,69 h2 M248.7,71.5 h2 M248.7,74.01 h2 M247.2,76.52 h3.5 M248.7,79.03 h2 M248.7,81.54 h2 M248.7,84.04 h2 M248.7,86.55 h2 M247.2,89.06 h3.5 M248.7,91.57 h2 M248.7,94.08 h2 M248.7,96.58 h2 M248.7,99.09 h2 M247.2,101.6 h3.5 " stroke="#000" stroke-width="0.8" fill="none"/>
<path d="M251.5,102.5 v2 M256.5,102.5 v2 M258.5,102.5 v2 M261.5,102.5 v2 M263.5,102.5 v2 M268.5,102.5 v2 M270.5,102.5 v2 M272.5,102.5 v2 M277.5,102.5 v2 M279.5,102.5 v2 M282.5,102.5 v2 M284.5,102.5 v2 M286.5,102.5 v2 M289.5,102.5 v2 M294.5,102.5 v2 M296.5,102.5 v2 M298.5,102.5 v2 M301.5,102.5 v2 M303.5,102.5 v2 M305.5,102.5 v2 M310.5,102.5 v2 M312.5,102.5 v2 M315.5,102.5 v2 M254.5,102.5 v2.6 M265.5,102.5 v2.6 M276.5,102.5 v2.6 M292.5,102.5 v2.6 M308.5,102.5 v2.6 " stroke="#000" stroke-width="0.75" fill="none"/>
<path d="M356.9,101.3 C357.42,101.22 358.98,101.05 360,100.8 C361.02,100.55 362.25,100.43 363,99.8 C363.75,99.17 364.05,97.98 364.5,97 C364.95,96.02 365.28,94.72 365.7,93.9 C366.12,93.08 366.58,92.25 367,92.1 C367.42,91.95 367.82,92.58 368.2,93 C368.58,93.42 368.92,95.1 369.3,94.6 C369.68,94.1 370.12,91.43 370.5,90 C370.88,88.57 371.22,86.98 371.6,86 C371.98,85.02 372.43,83.77 372.8,84.1 C373.17,84.43 373.47,86.48 373.8,88 C374.13,89.52 374.43,93.37 374.8,93.2 C375.17,93.03 375.57,88.83 376,87 C376.43,85.17 376.98,82.2 377.4,82.2 C377.82,82.2 378.15,85.17 378.5,87 C378.85,88.83 379.12,93.37 379.5,93.2 C379.88,93.03 380.3,88.28 380.8,86 C381.3,83.72 382.07,79.92 382.5,79.5 C382.93,79.08 383.13,82.17 383.4,83.5 C383.67,84.83 383.83,89.75 384.1,87.5 C384.37,85.25 384.68,76.25 385,70 C385.32,63.75 385.67,55.03 386,50 C386.33,44.97 386.67,39.8 387,39.8 C387.33,39.8 387.67,44.13 388,50 C388.33,55.87 388.67,67.5 389,75 C389.33,82.5 389.6,90.62 390,95 C390.4,99.38 391.17,100.25 391.4,101.3 Z" fill="#da7556" fill-opacity="0.85" stroke="none"/>
<path d="M356.9,101.3 C357.42,101.22 358.98,101.05 360,100.8 C361.02,100.55 362.25,100.43 363,99.8 C363.75,99.17 364.05,97.98 364.5,97 C364.95,96.02 365.28,94.72 365.7,93.9 C366.12,93.08 366.58,92.25 367,92.1 C367.42,91.95 367.82,92.58 368.2,93 C368.58,93.42 368.92,95.1 369.3,94.6 C369.68,94.1 370.12,91.43 370.5,90 C370.88,88.57 371.22,86.98 371.6,86 C371.98,85.02 372.43,83.77 372.8,84.1 C373.17,84.43 373.47,86.48 373.8,88 C374.13,89.52 374.43,93.37 374.8,93.2 C375.17,93.03 375.57,88.83 376,87 C376.43,85.17 376.98,82.2 377.4,82.2 C377.82,82.2 378.15,85.17 378.5,87 C378.85,88.83 379.12,93.37 379.5,93.2 C379.88,93.03 380.3,88.28 380.8,86 C381.3,83.72 382.07,79.92 382.5,79.5 C382.93,79.08 383.13,82.17 383.4,83.5 C383.67,84.83 383.83,89.75 384.1,87.5 C384.37,85.25 384.68,76.25 385,70 C385.32,63.75 385.67,55.03 386,50 C386.33,44.97 386.67,39.8 387,39.8 C387.33,39.8 387.67,44.13 388,50 C388.33,55.87 388.67,67.5 389,75 C389.33,82.5 389.6,90.62 390,95 C390.4,99.38 391.17,100.25 391.4,101.3" fill="none" stroke="#cf1f18" stroke-width="1.2" stroke-linejoin="round"/>
<path d="M383.15,101.3 C383.15,101.19 383.07,100.94 383.15,100.61 C383.23,100.28 383.49,100.03 383.66,99.33 C383.82,98.62 383.99,97.83 384.16,96.38 C384.33,94.93 384.5,93.16 384.67,90.63 C384.84,88.1 385.01,84.9 385.18,81.2 C385.34,77.5 385.51,72.86 385.68,68.43 C385.85,63.99 386.02,58.71 386.19,54.58 C386.36,50.44 386.52,46.13 386.69,43.6 C386.86,41.07 387.03,39.4 387.2,39.4 C387.37,39.4 387.54,41.07 387.71,43.6 C387.88,46.13 388.04,50.44 388.21,54.58 C388.38,58.71 388.55,63.99 388.72,68.43 C388.89,72.86 389.06,77.5 389.22,81.2 C389.39,84.9 389.56,88.1 389.73,90.63 C389.9,93.16 390.07,94.93 390.24,96.38 C390.41,97.83 390.57,98.62 390.74,99.33 C390.91,100.03 391.17,100.28 391.25,100.61 C391.33,100.94 391.25,101.19 391.25,101.3 Z" fill="#4a5aad" fill-opacity="0.72" stroke="none"/>
<path d="M383.15,101.3 C383.15,101.19 383.07,100.94 383.15,100.61 C383.23,100.28 383.49,100.03 383.66,99.33 C383.82,98.62 383.99,97.83 384.16,96.38 C384.33,94.93 384.5,93.16 384.67,90.63 C384.84,88.1 385.01,84.9 385.18,81.2 C385.34,77.5 385.51,72.86 385.68,68.43 C385.85,63.99 386.02,58.71 386.19,54.58 C386.36,50.44 386.52,46.13 386.69,43.6 C386.86,41.07 387.03,39.4 387.2,39.4 C387.37,39.4 387.54,41.07 387.71,43.6 C387.88,46.13 388.04,50.44 388.21,54.58 C388.38,58.71 388.55,63.99 388.72,68.43 C388.89,72.86 389.06,77.5 389.22,81.2 C389.39,84.9 389.56,88.1 389.73,90.63 C389.9,93.16 390.07,94.93 390.24,96.38 C390.41,97.83 390.57,98.62 390.74,99.33 C390.91,100.03 391.17,100.28 391.25,100.61 C391.33,100.94 391.25,101.19 391.25,101.3" fill="none" stroke="#2d3f9e" stroke-width="1" stroke-linejoin="round"/>
<rect x="331.3" y="35.9" width="66.5" height="66" fill="none" stroke="#000" stroke-width="1.3"/>
<path d="M327.8,38.9 h3.5 M329.3,41.41 h2 M329.3,43.92 h2 M329.3,46.42 h2 M329.3,48.93 h2 M327.8,51.44 h3.5 M329.3,53.95 h2 M329.3,56.46 h2 M329.3,58.96 h2 M329.3,61.47 h2 M327.8,63.98 h3.5 M329.3,66.49 h2 M329.3,69 h2 M329.3,71.5 h2 M329.3,74.01 h2 M327.8,76.52 h3.5 M329.3,79.03 h2 M329.3,81.54 h2 M329.3,84.04 h2 M329.3,86.55 h2 M327.8,89.06 h3.5 M329.3,91.57 h2 M329.3,94.08 h2 M329.3,96.58 h2 M329.3,99.09 h2 M327.8,101.6 h3.5 " stroke="#000" stroke-width="0.8" fill="none"/>
<path d="M332.5,102.5 v2 M337.5,102.5 v2 M339.5,102.5 v2 M341.5,102.5 v2 M344.5,102.5 v2 M348.5,102.5 v2 M351.5,102.5 v2 M353.5,102.5 v2 M358.5,102.5 v2 M360.5,102.5 v2 M362.5,102.5 v2 M365.5,102.5 v2 M367.5,102.5 v2 M369.5,102.5 v2 M374.5,102.5 v2 M376.5,102.5 v2 M379.5,102.5 v2 M381.5,102.5 v2 M384.5,102.5 v2 M386.5,102.5 v2 M391.5,102.5 v2 M393.5,102.5 v2 M395.5,102.5 v2 M335.5,102.5 v2.6 M346.5,102.5 v2.6 M356.5,102.5 v2.6 M372.5,102.5 v2.6 M389.5,102.5 v2.6 " stroke="#000" stroke-width="0.75" fill="none"/>
<path d="M412.7,101.3 C412.7,101.23 411.82,101.02 412.7,100.9 C413.58,100.78 416.2,100.77 418,100.6 C419.8,100.43 422.25,100.42 423.5,99.9 C424.75,99.38 424.83,98.62 425.5,97.5 C426.17,96.38 426.88,95.28 427.5,93.2 C428.12,91.12 428.63,88.13 429.2,85 C429.77,81.87 430.43,77.23 430.9,74.4 C431.37,71.57 431.67,69.8 432,68 C432.33,66.2 432.53,65.45 432.9,63.6 C433.27,61.75 433.75,57.68 434.2,56.9 C434.65,56.12 435.15,59.58 435.6,58.9 C436.05,58.22 436.53,54.95 436.9,52.8 C437.27,50.65 437.53,47.68 437.8,46 C438.07,44.32 438.22,42.03 438.5,42.7 C438.78,43.37 439.17,47.12 439.5,50 C439.83,52.88 440.22,57.5 440.5,60 C440.78,62.5 440.9,65.33 441.2,65 C441.5,64.67 441.95,60.5 442.3,58 C442.65,55.5 442.97,51.8 443.3,50 C443.63,48.2 443.97,46.87 444.3,47.2 C444.63,47.53 444.97,49.72 445.3,52 C445.63,54.28 446.02,58.57 446.3,60.9 C446.58,63.23 446.77,64.2 447,66 C447.23,67.8 447.42,72.03 447.7,71.7 C447.98,71.37 448.37,65.92 448.7,64 C449.03,62.08 449.4,59.87 449.7,60.2 C450,60.53 450.2,63.37 450.5,66 C450.8,68.63 451.18,72.92 451.5,76 C451.82,79.08 452.05,84.5 452.4,84.5 C452.75,84.5 453.2,78.47 453.6,76 C454,73.53 454.4,69.37 454.8,69.7 C455.2,70.03 455.62,74.75 456,78 C456.38,81.25 456.7,88.53 457.1,89.2 C457.5,89.87 457.95,84.13 458.4,82 C458.85,79.87 459.4,76.07 459.8,76.4 C460.2,76.73 460.47,81.42 460.8,84 C461.13,86.58 461.43,92.57 461.8,91.9 C462.17,91.23 462.55,84.38 463,80 C463.45,75.62 464.03,65.6 464.5,65.6 C464.97,65.6 465.35,74.72 465.8,80 C466.25,85.28 466.75,94.05 467.2,97.3 C467.65,100.55 467.93,99.17 468.5,99.5 C469.07,99.83 470.02,99.18 470.6,99.3 C471.18,99.42 471.52,99.87 472,100.2 C472.48,100.53 473.25,101.12 473.5,101.3 Z" fill="#da7556" fill-opacity="0.85" stroke="none"/>
<path d="M412.7,101.3 C412.7,101.23 411.82,101.02 412.7,100.9 C413.58,100.78 416.2,100.77 418,100.6 C419.8,100.43 422.25,100.42 423.5,99.9 C424.75,99.38 424.83,98.62 425.5,97.5 C426.17,96.38 426.88,95.28 427.5,93.2 C428.12,91.12 428.63,88.13 429.2,85 C429.77,81.87 430.43,77.23 430.9,74.4 C431.37,71.57 431.67,69.8 432,68 C432.33,66.2 432.53,65.45 432.9,63.6 C433.27,61.75 433.75,57.68 434.2,56.9 C434.65,56.12 435.15,59.58 435.6,58.9 C436.05,58.22 436.53,54.95 436.9,52.8 C437.27,50.65 437.53,47.68 437.8,46 C438.07,44.32 438.22,42.03 438.5,42.7 C438.78,43.37 439.17,47.12 439.5,50 C439.83,52.88 440.22,57.5 440.5,60 C440.78,62.5 440.9,65.33 441.2,65 C441.5,64.67 441.95,60.5 442.3,58 C442.65,55.5 442.97,51.8 443.3,50 C443.63,48.2 443.97,46.87 444.3,47.2 C444.63,47.53 444.97,49.72 445.3,52 C445.63,54.28 446.02,58.57 446.3,60.9 C446.58,63.23 446.77,64.2 447,66 C447.23,67.8 447.42,72.03 447.7,71.7 C447.98,71.37 448.37,65.92 448.7,64 C449.03,62.08 449.4,59.87 449.7,60.2 C450,60.53 450.2,63.37 450.5,66 C450.8,68.63 451.18,72.92 451.5,76 C451.82,79.08 452.05,84.5 452.4,84.5 C452.75,84.5 453.2,78.47 453.6,76 C454,73.53 454.4,69.37 454.8,69.7 C455.2,70.03 455.62,74.75 456,78 C456.38,81.25 456.7,88.53 457.1,89.2 C457.5,89.87 457.95,84.13 458.4,82 C458.85,79.87 459.4,76.07 459.8,76.4 C460.2,76.73 460.47,81.42 460.8,84 C461.13,86.58 461.43,92.57 461.8,91.9 C462.17,91.23 462.55,84.38 463,80 C463.45,75.62 464.03,65.6 464.5,65.6 C464.97,65.6 465.35,74.72 465.8,80 C466.25,85.28 466.75,94.05 467.2,97.3 C467.65,100.55 467.93,99.17 468.5,99.5 C469.07,99.83 470.02,99.18 470.6,99.3 C471.18,99.42 471.52,99.87 472,100.2 C472.48,100.53 473.25,101.12 473.5,101.3" fill="none" stroke="#cf1f18" stroke-width="1.2" stroke-linejoin="round"/>
<path d="M460.75,101.3 C460.75,101.19 460.67,100.95 460.75,100.62 C460.83,100.29 461.09,100.05 461.26,99.35 C461.43,98.65 461.59,97.86 461.76,96.43 C461.93,95 462.1,93.25 462.27,90.75 C462.44,88.25 462.61,85.09 462.78,81.43 C462.94,77.77 463.11,73.18 463.28,68.8 C463.45,64.41 463.62,59.19 463.79,55.1 C463.96,51.01 464.12,46.76 464.29,44.26 C464.46,41.75 464.63,40.1 464.8,40.1 C464.97,40.1 465.14,41.75 465.31,44.26 C465.48,46.76 465.64,51.01 465.81,55.1 C465.98,59.19 466.15,64.41 466.32,68.8 C466.49,73.18 466.66,77.77 466.82,81.43 C466.99,85.09 467.16,88.25 467.33,90.75 C467.5,93.25 467.67,95 467.84,96.43 C468.01,97.86 468.18,98.65 468.34,99.35 C468.51,100.05 468.77,100.29 468.85,100.62 C468.93,100.95 468.85,101.19 468.85,101.3 Z" fill="#4a5aad" fill-opacity="0.72" stroke="none"/>
<path d="M460.75,101.3 C460.75,101.19 460.67,100.95 460.75,100.62 C460.83,100.29 461.09,100.05 461.26,99.35 C461.43,98.65 461.59,97.86 461.76,96.43 C461.93,95 462.1,93.25 462.27,90.75 C462.44,88.25 462.61,85.09 462.78,81.43 C462.94,77.77 463.11,73.18 463.28,68.8 C463.45,64.41 463.62,59.19 463.79,55.1 C463.96,51.01 464.12,46.76 464.29,44.26 C464.46,41.75 464.63,40.1 464.8,40.1 C464.97,40.1 465.14,41.75 465.31,44.26 C465.48,46.76 465.64,51.01 465.81,55.1 C465.98,59.19 466.15,64.41 466.32,68.8 C466.49,73.18 466.66,77.77 466.82,81.43 C466.99,85.09 467.16,88.25 467.33,90.75 C467.5,93.25 467.67,95 467.84,96.43 C468.01,97.86 468.18,98.65 468.34,99.35 C468.51,100.05 468.77,100.29 468.85,100.62 C468.93,100.95 468.85,101.19 468.85,101.3" fill="none" stroke="#2d3f9e" stroke-width="1" stroke-linejoin="round"/>
<rect x="411.4" y="35.9" width="67" height="66" fill="none" stroke="#000" stroke-width="1.3"/>
<path d="M407.9,38.9 h3.5 M409.4,41.41 h2 M409.4,43.92 h2 M409.4,46.42 h2 M409.4,48.93 h2 M407.9,51.44 h3.5 M409.4,53.95 h2 M409.4,56.46 h2 M409.4,58.96 h2 M409.4,61.47 h2 M407.9,63.98 h3.5 M409.4,66.49 h2 M409.4,69 h2 M409.4,71.5 h2 M409.4,74.01 h2 M407.9,76.52 h3.5 M409.4,79.03 h2 M409.4,81.54 h2 M409.4,84.04 h2 M409.4,86.55 h2 M407.9,89.06 h3.5 M409.4,91.57 h2 M409.4,94.08 h2 M409.4,96.58 h2 M409.4,99.09 h2 M407.9,101.6 h3.5 " stroke="#000" stroke-width="0.8" fill="none"/>
<path d="M412.5,102.5 v2 M417.5,102.5 v2 M419.5,102.5 v2 M421.5,102.5 v2 M424.5,102.5 v2 M428.5,102.5 v2 M431.5,102.5 v2 M433.5,102.5 v2 M438.5,102.5 v2 M440.5,102.5 v2 M442.5,102.5 v2 M445.5,102.5 v2 M447.5,102.5 v2 M450.5,102.5 v2 M454.5,102.5 v2 M457.5,102.5 v2 M459.5,102.5 v2 M461.5,102.5 v2 M464.5,102.5 v2 M466.5,102.5 v2 M471.5,102.5 v2 M473.5,102.5 v2 M475.5,102.5 v2 M415.5,102.5 v2.6 M426.5,102.5 v2.6 M436.5,102.5 v2.6 M452.5,102.5 v2.6 M469.5,102.5 v2.6 " stroke="#000" stroke-width="0.75" fill="none"/>
<rect x="250.7" y="118.2" width="66.7" height="66" fill="none" stroke="#000" stroke-width="1.3"/>
<path d="M247.2,179.16 h3.5 M247.2,168.3 h3.5 M247.2,157.44 h3.5 M247.2,141.32 h3.5 M247.2,124.86 h3.5 M248.5,169.84 h2.2 M248.5,166.76 h2.2 M248.5,157.44 h2.2 M248.5,141.32 h2.2 M248.5,171.32 h2.2 M248.5,165.28 h2.2 M248.5,152.74 h2.2 M248.5,136.37 h2.2 M248.5,172.68 h2.2 M248.5,163.92 h2.2 M248.5,149.9 h2.2 M248.5,133.47 h2.2 M248.5,173.92 h2.2 M248.5,162.68 h2.2 M248.5,147.86 h2.2 M248.5,131.42 h2.2 M248.5,175.03 h2.2 M248.5,161.57 h2.2 M248.5,146.27 h2.2 M248.5,129.82 h2.2 M248.5,176.03 h2.2 M248.5,160.57 h2.2 M248.5,144.97 h2.2 M248.5,128.52 h2.2 M248.5,176.93 h2.2 M248.5,159.67 h2.2 M248.5,143.87 h2.2 M248.5,127.41 h2.2 M248.5,177.74 h2.2 M248.5,158.86 h2.2 M248.5,142.92 h2.2 M248.5,126.46 h2.2 M248.5,178.48 h2.2 M248.5,158.12 h2.2 M248.5,142.08 h2.2 M248.5,125.62 h2.2 M248.5,119.91 h2.2 " stroke="#000" stroke-width="0.9" fill="none"/>
<path d="M251.5,184.8 v2.7 M256.5,184.8 v2.7 M258.5,184.8 v2.7 M261.5,184.8 v2.7 M263.5,184.8 v2.7 M268.5,184.8 v2.7 M270.5,184.8 v2.7 M272.5,184.8 v2.7 M277.5,184.8 v2.7 M279.5,184.8 v2.7 M282.5,184.8 v2.7 M284.5,184.8 v2.7 M286.5,184.8 v2.7 M289.5,184.8 v2.7 M294.5,184.8 v2.7 M296.5,184.8 v2.7 M298.5,184.8 v2.7 M301.5,184.8 v2.7 M303.5,184.8 v2.7 M305.5,184.8 v2.7 M310.5,184.8 v2.7 M312.5,184.8 v2.7 M315.5,184.8 v2.7 M254.5,184.8 v3.5 M265.5,184.8 v3.5 M276.5,184.8 v3.5 M292.5,184.8 v3.5 M308.5,184.8 v3.5 " stroke="#000" stroke-width="0.9" fill="none"/>
<text x="248.6" y="196.8" font-size="7.3" text-anchor="start" font-weight="normal" font-style="normal" fill="#231f20" textLength="9.2" lengthAdjust="spacingAndGlyphs" stroke="#231f20" stroke-width="0.25">-10</text>
<text x="258.2" y="193" font-size="4.4" text-anchor="start" font-weight="normal" font-style="normal" fill="#231f20" textLength="2.4" lengthAdjust="spacingAndGlyphs" stroke="#231f20" stroke-width="0.3">3</text>
<text x="263.3" y="196.8" font-size="7.3" text-anchor="start" font-weight="normal" font-style="normal" fill="#231f20" textLength="3.9" lengthAdjust="spacingAndGlyphs" stroke="#231f20" stroke-width="0.25">0</text>
<text x="272" y="196.8" font-size="7.3" text-anchor="start" font-weight="normal" font-style="normal" fill="#231f20" textLength="7.1" lengthAdjust="spacingAndGlyphs" stroke="#231f20" stroke-width="0.25">10</text>
<text x="279.5" y="193" font-size="4.4" text-anchor="start" font-weight="normal" font-style="normal" fill="#231f20" textLength="2.4" lengthAdjust="spacingAndGlyphs" stroke="#231f20" stroke-width="0.3">3</text>
<text x="290.1" y="196.8" font-size="7.3" text-anchor="start" font-weight="normal" font-style="normal" fill="#231f20" textLength="7.1" lengthAdjust="spacingAndGlyphs" stroke="#231f20" stroke-width="0.25">10</text>
<text x="297.6" y="193" font-size="4.4" text-anchor="start" font-weight="normal" font-style="normal" fill="#231f20" textLength="2.4" lengthAdjust="spacingAndGlyphs" stroke="#231f20" stroke-width="0.3">4</text>
<text x="306.3" y="196.8" font-size="7.3" text-anchor="start" font-weight="normal" font-style="normal" fill="#231f20" textLength="7.1" lengthAdjust="spacingAndGlyphs" stroke="#231f20" stroke-width="0.25">10</text>
<text x="313.8" y="193" font-size="4.4" text-anchor="start" font-weight="normal" font-style="normal" fill="#231f20" textLength="2.4" lengthAdjust="spacingAndGlyphs" stroke="#231f20" stroke-width="0.3">5</text>
<rect x="331.3" y="118.2" width="66.5" height="66" fill="none" stroke="#000" stroke-width="1.3"/>
<path d="M327.8,179.16 h3.5 M327.8,168.3 h3.5 M327.8,157.44 h3.5 M327.8,141.32 h3.5 M327.8,124.86 h3.5 M329.1,169.84 h2.2 M329.1,166.76 h2.2 M329.1,157.44 h2.2 M329.1,141.32 h2.2 M329.1,171.32 h2.2 M329.1,165.28 h2.2 M329.1,152.74 h2.2 M329.1,136.37 h2.2 M329.1,172.68 h2.2 M329.1,163.92 h2.2 M329.1,149.9 h2.2 M329.1,133.47 h2.2 M329.1,173.92 h2.2 M329.1,162.68 h2.2 M329.1,147.86 h2.2 M329.1,131.42 h2.2 M329.1,175.03 h2.2 M329.1,161.57 h2.2 M329.1,146.27 h2.2 M329.1,129.82 h2.2 M329.1,176.03 h2.2 M329.1,160.57 h2.2 M329.1,144.97 h2.2 M329.1,128.52 h2.2 M329.1,176.93 h2.2 M329.1,159.67 h2.2 M329.1,143.87 h2.2 M329.1,127.41 h2.2 M329.1,177.74 h2.2 M329.1,158.86 h2.2 M329.1,142.92 h2.2 M329.1,126.46 h2.2 M329.1,178.48 h2.2 M329.1,158.12 h2.2 M329.1,142.08 h2.2 M329.1,125.62 h2.2 M329.1,119.91 h2.2 " stroke="#000" stroke-width="0.9" fill="none"/>
<path d="M332.5,184.8 v2.7 M337.5,184.8 v2.7 M339.5,184.8 v2.7 M341.5,184.8 v2.7 M344.5,184.8 v2.7 M348.5,184.8 v2.7 M351.5,184.8 v2.7 M353.5,184.8 v2.7 M358.5,184.8 v2.7 M360.5,184.8 v2.7 M362.5,184.8 v2.7 M365.5,184.8 v2.7 M367.5,184.8 v2.7 M369.5,184.8 v2.7 M374.5,184.8 v2.7 M376.5,184.8 v2.7 M379.5,184.8 v2.7 M381.5,184.8 v2.7 M384.5,184.8 v2.7 M386.5,184.8 v2.7 M391.5,184.8 v2.7 M393.5,184.8 v2.7 M395.5,184.8 v2.7 M335.5,184.8 v3.5 M346.5,184.8 v3.5 M356.5,184.8 v3.5 M372.5,184.8 v3.5 M389.5,184.8 v3.5 " stroke="#000" stroke-width="0.9" fill="none"/>
<text x="329.2" y="196.8" font-size="7.3" text-anchor="start" font-weight="normal" font-style="normal" fill="#231f20" textLength="9.2" lengthAdjust="spacingAndGlyphs" stroke="#231f20" stroke-width="0.25">-10</text>
<text x="338.8" y="193" font-size="4.4" text-anchor="start" font-weight="normal" font-style="normal" fill="#231f20" textLength="2.4" lengthAdjust="spacingAndGlyphs" stroke="#231f20" stroke-width="0.3">3</text>
<text x="343.9" y="196.8" font-size="7.3" text-anchor="start" font-weight="normal" font-style="normal" fill="#231f20" textLength="3.9" lengthAdjust="spacingAndGlyphs" stroke="#231f20" stroke-width="0.25">0</text>
<text x="352.6" y="196.8" font-size="7.3" text-anchor="start" font-weight="normal" font-style="normal" fill="#231f20" textLength="7.1" lengthAdjust="spacingAndGlyphs" stroke="#231f20" stroke-width="0.25">10</text>
<text x="360.1" y="193" font-size="4.4" text-anchor="start" font-weight="normal" font-style="normal" fill="#231f20" textLength="2.4" lengthAdjust="spacingAndGlyphs" stroke="#231f20" stroke-width="0.3">3</text>
<text x="370.7" y="196.8" font-size="7.3" text-anchor="start" font-weight="normal" font-style="normal" fill="#231f20" textLength="7.1" lengthAdjust="spacingAndGlyphs" stroke="#231f20" stroke-width="0.25">10</text>
<text x="378.2" y="193" font-size="4.4" text-anchor="start" font-weight="normal" font-style="normal" fill="#231f20" textLength="2.4" lengthAdjust="spacingAndGlyphs" stroke="#231f20" stroke-width="0.3">4</text>
<text x="386.9" y="196.8" font-size="7.3" text-anchor="start" font-weight="normal" font-style="normal" fill="#231f20" textLength="7.1" lengthAdjust="spacingAndGlyphs" stroke="#231f20" stroke-width="0.25">10</text>
<text x="394.4" y="193" font-size="4.4" text-anchor="start" font-weight="normal" font-style="normal" fill="#231f20" textLength="2.4" lengthAdjust="spacingAndGlyphs" stroke="#231f20" stroke-width="0.3">5</text>
<rect x="411.4" y="118.2" width="67" height="66" fill="none" stroke="#000" stroke-width="1.3"/>
<path d="M407.9,179.16 h3.5 M407.9,168.3 h3.5 M407.9,157.44 h3.5 M407.9,141.32 h3.5 M407.9,124.86 h3.5 M409.2,169.84 h2.2 M409.2,166.76 h2.2 M409.2,157.44 h2.2 M409.2,141.32 h2.2 M409.2,171.32 h2.2 M409.2,165.28 h2.2 M409.2,152.74 h2.2 M409.2,136.37 h2.2 M409.2,172.68 h2.2 M409.2,163.92 h2.2 M409.2,149.9 h2.2 M409.2,133.47 h2.2 M409.2,173.92 h2.2 M409.2,162.68 h2.2 M409.2,147.86 h2.2 M409.2,131.42 h2.2 M409.2,175.03 h2.2 M409.2,161.57 h2.2 M409.2,146.27 h2.2 M409.2,129.82 h2.2 M409.2,176.03 h2.2 M409.2,160.57 h2.2 M409.2,144.97 h2.2 M409.2,128.52 h2.2 M409.2,176.93 h2.2 M409.2,159.67 h2.2 M409.2,143.87 h2.2 M409.2,127.41 h2.2 M409.2,177.74 h2.2 M409.2,158.86 h2.2 M409.2,142.92 h2.2 M409.2,126.46 h2.2 M409.2,178.48 h2.2 M409.2,158.12 h2.2 M409.2,142.08 h2.2 M409.2,125.62 h2.2 M409.2,119.91 h2.2 " stroke="#000" stroke-width="0.9" fill="none"/>
<path d="M412.5,184.8 v2.7 M417.5,184.8 v2.7 M419.5,184.8 v2.7 M421.5,184.8 v2.7 M424.5,184.8 v2.7 M428.5,184.8 v2.7 M431.5,184.8 v2.7 M433.5,184.8 v2.7 M438.5,184.8 v2.7 M440.5,184.8 v2.7 M442.5,184.8 v2.7 M445.5,184.8 v2.7 M447.5,184.8 v2.7 M450.5,184.8 v2.7 M454.5,184.8 v2.7 M457.5,184.8 v2.7 M459.5,184.8 v2.7 M461.5,184.8 v2.7 M464.5,184.8 v2.7 M466.5,184.8 v2.7 M471.5,184.8 v2.7 M473.5,184.8 v2.7 M475.5,184.8 v2.7 M415.5,184.8 v3.5 M426.5,184.8 v3.5 M436.5,184.8 v3.5 M452.5,184.8 v3.5 M469.5,184.8 v3.5 " stroke="#000" stroke-width="0.9" fill="none"/>
<text x="409.3" y="196.8" font-size="7.3" text-anchor="start" font-weight="normal" font-style="normal" fill="#231f20" textLength="9.2" lengthAdjust="spacingAndGlyphs" stroke="#231f20" stroke-width="0.25">-10</text>
<text x="418.9" y="193" font-size="4.4" text-anchor="start" font-weight="normal" font-style="normal" fill="#231f20" textLength="2.4" lengthAdjust="spacingAndGlyphs" stroke="#231f20" stroke-width="0.3">3</text>
<text x="424" y="196.8" font-size="7.3" text-anchor="start" font-weight="normal" font-style="normal" fill="#231f20" textLength="3.9" lengthAdjust="spacingAndGlyphs" stroke="#231f20" stroke-width="0.25">0</text>
<text x="432.7" y="196.8" font-size="7.3" text-anchor="start" font-weight="normal" font-style="normal" fill="#231f20" textLength="7.1" lengthAdjust="spacingAndGlyphs" stroke="#231f20" stroke-width="0.25">10</text>
<text x="440.2" y="193" font-size="4.4" text-anchor="start" font-weight="normal" font-style="normal" fill="#231f20" textLength="2.4" lengthAdjust="spacingAndGlyphs" stroke="#231f20" stroke-width="0.3">3</text>
<text x="450.8" y="196.8" font-size="7.3" text-anchor="start" font-weight="normal" font-style="normal" fill="#231f20" textLength="7.1" lengthAdjust="spacingAndGlyphs" stroke="#231f20" stroke-width="0.25">10</text>
<text x="458.3" y="193" font-size="4.4" text-anchor="start" font-weight="normal" font-style="normal" fill="#231f20" textLength="2.4" lengthAdjust="spacingAndGlyphs" stroke="#231f20" stroke-width="0.3">4</text>
<text x="467" y="196.8" font-size="7.3" text-anchor="start" font-weight="normal" font-style="normal" fill="#231f20" textLength="7.1" lengthAdjust="spacingAndGlyphs" stroke="#231f20" stroke-width="0.25">10</text>
<text x="474.5" y="193" font-size="4.4" text-anchor="start" font-weight="normal" font-style="normal" fill="#231f20" textLength="2.4" lengthAdjust="spacingAndGlyphs" stroke="#231f20" stroke-width="0.3">5</text>
<text x="233.9" y="126" font-size="7.3" text-anchor="start" font-weight="normal" font-style="normal" fill="#231f20" textLength="7" lengthAdjust="spacingAndGlyphs" stroke="#231f20" stroke-width="0.25">10</text>
<text x="241.2" y="122.1" font-size="4.9" text-anchor="start" font-weight="normal" font-style="normal" fill="#231f20" textLength="2.7" lengthAdjust="spacingAndGlyphs" stroke="#231f20" stroke-width="0.2">5</text>
<text x="233.9" y="141.6" font-size="7.3" text-anchor="start" font-weight="normal" font-style="normal" fill="#231f20" textLength="7" lengthAdjust="spacingAndGlyphs" stroke="#231f20" stroke-width="0.25">10</text>
<text x="241.2" y="137.7" font-size="4.9" text-anchor="start" font-weight="normal" font-style="normal" fill="#231f20" textLength="2.7" lengthAdjust="spacingAndGlyphs" stroke="#231f20" stroke-width="0.2">4</text>
<text x="233.9" y="160.3" font-size="7.3" text-anchor="start" font-weight="normal" font-style="normal" fill="#231f20" textLength="7" lengthAdjust="spacingAndGlyphs" stroke="#231f20" stroke-width="0.25">10</text>
<text x="241.2" y="156.4" font-size="4.9" text-anchor="start" font-weight="normal" font-style="normal" fill="#231f20" textLength="2.7" lengthAdjust="spacingAndGlyphs" stroke="#231f20" stroke-width="0.2">3</text>
<text x="239.7" y="171.1" font-size="7.3" text-anchor="start" font-weight="normal" font-style="normal" fill="#231f20" textLength="3.8" lengthAdjust="spacingAndGlyphs" stroke="#231f20" stroke-width="0.25">0</text>
<text x="230.9" y="181.1" font-size="7.3" text-anchor="start" font-weight="normal" font-style="normal" fill="#231f20" textLength="10" lengthAdjust="spacingAndGlyphs" stroke="#231f20" stroke-width="0.25">-10</text>
<text x="241.2" y="177.2" font-size="4.9" text-anchor="start" font-weight="normal" font-style="normal" fill="#231f20" textLength="2.7" lengthAdjust="spacingAndGlyphs" stroke="#231f20" stroke-width="0.2">3</text>
<line x1="227.6" y1="202.3" x2="475" y2="202.3" stroke="#505050" stroke-width="1.4"/>
<path d="M479.8,202.3 L473.8,200 L473.8,204.6 Z" fill="#000"/>
<line x1="227.6" y1="203.0" x2="227.6" y2="122" stroke="#505050" stroke-width="1.4"/>
<path d="M227.6,117.6 L225.3,123.6 L229.9,123.6 Z" fill="#000"/>
<g transform="translate(221.1,164.9) rotate(-90)" stroke="#231f20" stroke-width="0.18"><text x="0" y="0" font-size="8.5" fill="#231f20" textLength="16.8" lengthAdjust="spacingAndGlyphs">Ki-67</text><text x="18.8" y="0" font-size="8.5" font-weight="bold" font-style="italic" fill="#231f20" textLength="9.7" lengthAdjust="spacingAndGlyphs">PE</text></g>
<text x="339.2" y="214" font-size="8.8" text-anchor="start" font-weight="normal" font-style="normal" fill="#231f20" textLength="50.4" lengthAdjust="spacingAndGlyphs" stroke="#231f20" stroke-width="0.18">Cell trace violet</text>
<path d="M310.2,140.7h0.01M304.59,145.4h0.01M305.89,151.45h0.01M306.86,147.53h0.01M303.75,133.13h0.01M305.81,144.46h0.01M305.8,143.18h0.01M301.24,139.57h0.01M308.45,137.82h0.01M307.36,156.98h0.01M304.17,139.88h0.01M305.35,136.23h0.01M307.11,148.1h0.01M305.12,144.04h0.01M305.17,142.39h0.01M302.02,149.25h0.01M307.24,146.91h0.01M306.12,145.9h0.01M306.51,150.71h0.01M301.83,145.27h0.01M310.09,138.06h0.01M306.2,140.1h0.01M304.79,138.83h0.01M311.08,144.68h0.01M305.68,134.38h0.01M302.03,128.34h0.01M304.75,143.71h0.01M299.85,132.31h0.01M308.53,127.38h0.01M304.72,145.99h0.01M303.87,137.31h0.01M308.59,146.97h0.01M301.51,138.75h0.01M307.19,134.02h0.01M300.43,133.05h0.01M304.08,138.88h0.01M302.67,140.81h0.01M309.6,136.41h0.01M310.39,140.75h0.01M304.94,130.71h0.01M307.99,143.12h0.01M305.33,128.65h0.01M307.28,141.45h0.01M303.84,148.58h0.01M301.36,151.74h0.01M301.11,156.72h0.01M306.8,130.55h0.01M311.64,149.07h0.01M306.5,152.65h0.01M304.44,150.84h0.01M310.77,135.57h0.01M306.42,146.29h0.01M306.06,157.88h0.01M306.46,131.02h0.01M305.46,146.81h0.01M305,151.9h0.01M302.07,137.43h0.01M307.1,147.66h0.01M305.55,134.43h0.01M308.9,136.5h0.01M304.84,136.46h0.01M300.84,144.54h0.01M305.54,142.27h0.01M310.22,150.63h0.01M304.8,135.48h0.01M303.49,141.95h0.01M302.7,150.69h0.01M303.07,147.49h0.01M305.02,132.4h0.01M302.73,148.32h0.01M309.69,139.17h0.01M305.07,146.08h0.01M306.08,145.41h0.01M309.54,152.75h0.01M309.71,143.93h0.01M305.25,128.17h0.01M306.66,132.04h0.01M307.71,148.85h0.01M305.3,140.93h0.01M301.18,152.1h0.01M307.5,145.19h0.01M308.13,137.01h0.01M306.88,151.66h0.01M303.4,136.54h0.01M305.29,126.58h0.01M304.26,159.51h0.01M305.02,127.71h0.01M309.17,148.09h0.01M309.78,150.51h0.01M307.54,144.18h0.01M307.23,129.53h0.01M307.56,151.12h0.01M305.77,131.47h0.01M305.6,132.25h0.01M304.05,140.11h0.01M305.65,149.31h0.01M311.68,145.4h0.01M308.06,149.49h0.01M304.91,139.45h0.01M304.57,141.62h0.01M303.55,133.9h0.01M306.77,140.47h0.01M306.82,147.75h0.01M302.05,140.6h0.01M307.06,146.8h0.01M304.32,138.41h0.01M309.51,138.26h0.01M306.21,143.31h0.01M310.27,141.44h0.01M304.61,147.74h0.01" stroke="#d3302a" stroke-width="0.84" stroke-linecap="round" stroke-opacity="0.3" fill="none"/>
<path d="M303.56,142.38h0.01M304.97,145.83h0.01M303.2,136.63h0.01M303.2,139.92h0.01M302.46,132.66h0.01M303.42,146.85h0.01M304.01,141.71h0.01M302.73,144.19h0.01M303.36,149.98h0.01M304.05,147.44h0.01M303.29,141.17h0.01M302.93,145.83h0.01M304.28,133.63h0.01M303.49,143.89h0.01M303.76,142.26h0.01M304.45,132.6h0.01M304.43,148.86h0.01M303.09,137.63h0.01M302.93,145.26h0.01M303.66,139.19h0.01M303.28,146.96h0.01M301.69,148.72h0.01M304.55,136.93h0.01M303.42,133.08h0.01M304.06,140.78h0.01M302.34,146.17h0.01M304.56,139.46h0.01M302.87,138.13h0.01M303.3,144.19h0.01M302.14,126.31h0.01M303.25,137.84h0.01M303.19,133.89h0.01M303.23,143.12h0.01M303.79,137.45h0.01M303.45,135.37h0.01M304.28,139.55h0.01M302.98,133.42h0.01M302.5,141.43h0.01M303.38,137.75h0.01M303.97,139.42h0.01M304.52,137.56h0.01M304.13,146.52h0.01M301.81,140.9h0.01M303.74,144.38h0.01M304.71,144.14h0.01M303.46,137.07h0.01M302.94,144.63h0.01M303.68,143.42h0.01M302.95,143.23h0.01M303.98,139.31h0.01M303.39,139.15h0.01M304.65,145.82h0.01M303.85,153.5h0.01M302.75,136.93h0.01M303.94,144.44h0.01M304.24,139.49h0.01M302.89,145.82h0.01M303.02,143.91h0.01M301.33,147.33h0.01M304.21,126.13h0.01M302.87,138.19h0.01M301.49,136.06h0.01M301.81,140.91h0.01M303.2,137.52h0.01M304.08,137.97h0.01M303.32,145.25h0.01M303.82,151.96h0.01M302.41,125.97h0.01M302.19,139.79h0.01M304.2,143.22h0.01M303.84,141.53h0.01M303.37,139.6h0.01M304.55,134.06h0.01M302.54,136.32h0.01M303.02,145.49h0.01M304.32,147.42h0.01M305.05,142.03h0.01M303.41,136.9h0.01M304.91,142.03h0.01M302.86,140.18h0.01M303.7,144.5h0.01M303.24,142.15h0.01M301.97,138.08h0.01M303.63,142.55h0.01M304.24,135.01h0.01M303.27,146.01h0.01M303.34,148h0.01M304.65,135.02h0.01M302.28,143.82h0.01M302.05,136.05h0.01M302.81,147.39h0.01M302.32,146.47h0.01M304.61,140.23h0.01M303.68,146.97h0.01M302.62,139.13h0.01M302.85,137.96h0.01M305.97,138.37h0.01M302.85,140.73h0.01M302.71,139.72h0.01M303.67,142.35h0.01M303.97,138.12h0.01M303.6,145.71h0.01M302.58,147.12h0.01M302.36,138.77h0.01M303.94,133.65h0.01M303.35,145.48h0.01M301.92,147.76h0.01M304.45,140.6h0.01M304.1,134.42h0.01M303.18,142.97h0.01M303.17,149.89h0.01M303.61,131.18h0.01M302.78,144.13h0.01M302.19,139.78h0.01M303.69,136.79h0.01M302.1,144.24h0.01M303.75,134.36h0.01M302.1,143.13h0.01M303.31,148.72h0.01M303.28,142.47h0.01M305,136.68h0.01M302.44,131.71h0.01M302.13,134.45h0.01M302.82,131.37h0.01M302.39,150.3h0.01M302.87,140.13h0.01M303.78,135.75h0.01M304.09,134.36h0.01M304.89,135.63h0.01M302.74,139.65h0.01M305.77,134.45h0.01M305.18,150.72h0.01M303.22,137.39h0.01M301.34,137.2h0.01M303.33,143.19h0.01M303.47,149.48h0.01M301.33,148.78h0.01M303.47,138.82h0.01M303.22,142.9h0.01M302.69,142.32h0.01M303.96,144.41h0.01M304.3,142.91h0.01M302.96,136.31h0.01M303.61,134.57h0.01M302.81,142.47h0.01M302.69,134.99h0.01M303.47,149h0.01M303.87,141.72h0.01M302.89,135.86h0.01M301.41,139.73h0.01M303.93,138.71h0.01M301.96,140.78h0.01M303.51,146.7h0.01M305,133.56h0.01M303.38,131.23h0.01M302.33,143.36h0.01M302.08,140.52h0.01M304.45,142.4h0.01M303.38,143.95h0.01M303.89,140.5h0.01M304.23,145.9h0.01M303.36,136.59h0.01M303.12,141.85h0.01M302.55,136.93h0.01M300.63,135.29h0.01M302.03,144.88h0.01M303.34,144.63h0.01M303.24,130.82h0.01M303.76,135.33h0.01M303.29,143.11h0.01" stroke="#d3302a" stroke-width="0.84" stroke-linecap="round" stroke-opacity="0.55" fill="none"/>
<path d="M309.36,133.26h0.01M307.8,129.42h0.01M308.23,144.75h0.01M307.13,136.4h0.01M310.66,146.28h0.01M308.83,145.27h0.01M309.21,136.87h0.01M308.99,137.6h0.01M309.24,144.78h0.01M308.95,141.32h0.01M308.1,141.97h0.01M309.07,131.44h0.01M308.47,145.44h0.01M309.57,135.69h0.01M307.74,128.02h0.01M307.91,137.11h0.01M309,142.82h0.01M309.55,152.03h0.01M308.53,138.45h0.01M307.76,133.19h0.01M308.29,152.18h0.01M307.95,141.38h0.01M310.11,139.06h0.01M309.21,134.58h0.01M309.54,134.98h0.01M308.67,148.63h0.01M307.9,139.01h0.01M309.46,137.54h0.01M309.89,137.7h0.01M308.92,149.12h0.01M308.38,137.26h0.01M309.37,143.95h0.01M308.07,141.96h0.01M309.09,141.82h0.01M307.76,135.68h0.01M307.53,144.12h0.01M308.91,149.35h0.01M308.7,140.21h0.01M310.11,135.44h0.01M308.15,133.4h0.01M308.42,141.55h0.01M307.37,139h0.01M306.72,139.93h0.01M306.8,140.57h0.01M308.82,132.38h0.01M307.34,144.8h0.01M309.41,141.79h0.01M309.68,140.09h0.01M308.14,141.78h0.01M309.89,145.59h0.01M308.6,140.79h0.01M309.41,135.82h0.01M308.2,146.91h0.01M309.26,138.12h0.01M307.55,136.51h0.01M308.96,131.91h0.01M307.99,140.54h0.01M308.28,134.74h0.01M308.97,137.64h0.01M308.56,142.97h0.01M308.33,140.68h0.01M309.06,146.09h0.01M309.12,142.18h0.01M307.15,138.28h0.01M308.9,138.69h0.01M309,137.71h0.01M307.72,144.06h0.01M308.75,140.62h0.01M307.21,138.24h0.01M309.7,145.15h0.01M308.19,141.03h0.01M308.33,137.94h0.01M309.48,132.18h0.01M308.27,142.91h0.01M308.94,141.81h0.01M307.46,140.78h0.01M307.89,138.11h0.01M307.15,135.92h0.01M308.21,139.25h0.01M309.33,141.77h0.01M308.6,139.8h0.01M309.2,139.7h0.01M307.48,137.93h0.01M307.61,142.36h0.01M307.98,141.78h0.01M308.92,136.36h0.01M308.72,144.68h0.01M308.39,144.85h0.01M308.96,144.97h0.01M308.26,139.78h0.01M308.38,139.43h0.01M309.57,134.12h0.01M307.87,144.65h0.01M308.56,128.75h0.01M309.85,138.35h0.01M308.49,138.63h0.01M309.04,145.21h0.01M307.85,140.5h0.01M310.16,135.2h0.01M306.38,132.65h0.01M307.38,136.49h0.01M307.45,141.09h0.01M309.86,140.8h0.01M308.72,139.41h0.01M308.16,136.74h0.01M307.25,139.34h0.01M308.73,145.99h0.01M308.5,134.45h0.01M307.78,140.69h0.01M307.06,149.4h0.01M307.41,143.55h0.01M308.59,137.99h0.01M308.68,144.14h0.01M308.47,136.36h0.01M308.26,140.54h0.01M306.81,149.05h0.01M308.44,150.92h0.01M307.47,131.1h0.01M308.44,144.35h0.01M308.82,151.22h0.01M307.79,137.5h0.01M307.48,141.92h0.01M309.29,148.79h0.01M308.72,137.79h0.01M307.83,142.99h0.01M305.7,140.17h0.01M308.36,129.91h0.01M308.97,142.4h0.01M309.41,139.49h0.01M307.79,145.6h0.01M307.82,152.01h0.01M308,144.26h0.01M309.15,138.48h0.01M307.34,142.98h0.01M308.3,141.61h0.01M307.57,146.13h0.01M308.64,132.59h0.01M307,134.09h0.01M308.74,129.25h0.01M307.95,143.84h0.01M308.2,140.4h0.01M308.87,136.98h0.01M309.43,136.51h0.01M306.87,137.35h0.01M309.3,135.4h0.01M308.9,138.73h0.01M308.13,137.78h0.01M309.66,148.14h0.01M308.57,142.28h0.01M309.56,136h0.01M307.87,137.29h0.01M307.62,147.09h0.01M309.5,142.99h0.01M310.35,142.12h0.01M308.97,144.46h0.01M309.2,149.22h0.01M307.97,133.8h0.01M307.21,136.4h0.01M308.2,130.93h0.01M309.75,143.22h0.01M306.73,138.42h0.01M307.95,136.8h0.01M306.68,136.31h0.01M308.5,144.3h0.01M309.19,139.72h0.01M307.28,137.58h0.01M308.03,147.4h0.01M309.59,134.75h0.01M308.32,133.55h0.01M307.28,154.77h0.01" stroke="#d3302a" stroke-width="0.84" stroke-linecap="round" stroke-opacity="0.55" fill="none"/>
<ellipse cx="303.4" cy="144" rx="1" ry="5" fill="#d3302a" fill-opacity="0.5" filter="url(#bl08)"/>
<ellipse cx="308.4" cy="143" rx="1" ry="5" fill="#d3302a" fill-opacity="0.5" filter="url(#bl08)"/>
<path d="M305.69,158.44h0.01M305.3,156.91h0.01M304.9,159.76h0.01M306.2,155.15h0.01M308.22,161.36h0.01M308.16,161.18h0.01M307.7,156.21h0.01M305.89,160.19h0.01M303.22,164.27h0.01M307.12,164.25h0.01M309.84,164.04h0.01M308.85,159.4h0.01M306.13,158.65h0.01M308.27,158.44h0.01M305.65,162.37h0.01M306.38,169.41h0.01M303.78,165.62h0.01M305.81,166.34h0.01M306.81,165.4h0.01M306.13,153.55h0.01M308.19,159.2h0.01M310.64,158.27h0.01M309.41,165h0.01M305.83,166.75h0.01M304.89,157.34h0.01M305.06,160.15h0.01M304.35,162.23h0.01M306.57,158.05h0.01M307.43,157.49h0.01M306.9,157.29h0.01M306.93,163.54h0.01M306.85,156.36h0.01M306.21,164.54h0.01M304.87,160.35h0.01M310.29,163.01h0.01M308.8,166.18h0.01M304.5,157.32h0.01M304.51,156.73h0.01M305.21,161.71h0.01M306.57,155.87h0.01M309.27,157.08h0.01M308.73,159.55h0.01M308.85,160.63h0.01M308.89,155.03h0.01M308.93,158.47h0.01M308.12,162.33h0.01M307.5,165.37h0.01M306.24,152.16h0.01M302.66,165.22h0.01M306.22,163.52h0.01M310.46,155.67h0.01M305.31,154.13h0.01M305.12,161.67h0.01M308.74,158.33h0.01M306.68,160.54h0.01M305.44,163.43h0.01M309.93,158.52h0.01M307.87,160.65h0.01M308.17,161.89h0.01M305.26,163.54h0.01M307.59,167.02h0.01M307.33,166.78h0.01M308.21,160.96h0.01M309.03,159.06h0.01M308.98,169.45h0.01M306.88,162.55h0.01M308.02,161.7h0.01M303.98,155.62h0.01M307.92,163.1h0.01M308.01,156.91h0.01" stroke="#d3302a" stroke-width="0.84" stroke-linecap="round" stroke-opacity="0.5" fill="none"/>
<ellipse cx="308" cy="156.4" rx="2.8" ry="9.4" fill="#3a55a6" fill-opacity="1" filter="url(#bl06)"/>
<path d="M307.18,162.46h0.01M305.61,155.95h0.01M307.07,161h0.01M308.11,151.73h0.01M305.31,163.04h0.01M306.4,161.33h0.01M307.86,158.63h0.01M305.74,152.57h0.01M305.76,155.63h0.01M306.51,157.13h0.01M305.48,157.66h0.01M309.1,155.9h0.01M306.22,155.35h0.01M309.38,157.32h0.01M309.66,163.1h0.01M305.85,146.76h0.01M308.07,149.82h0.01M307.14,148.98h0.01M305.96,153.1h0.01M307.4,148.05h0.01M307.57,159.05h0.01M309.27,156.86h0.01M309.84,155.18h0.01M306.03,153.13h0.01M307.27,157.15h0.01M308.95,157.26h0.01M310.11,157.99h0.01M303.62,152.9h0.01M310.29,159.52h0.01M307.7,149.35h0.01M310.75,162.4h0.01M307.24,141.63h0.01M306.51,153.55h0.01M308.08,150.63h0.01M310.1,160.19h0.01M308.06,149.27h0.01M303.77,165.14h0.01M309.23,148.99h0.01M305.11,166.14h0.01M306.24,158.55h0.01M305.91,156.55h0.01M304.7,158.49h0.01M305.75,166.92h0.01M306.23,160.69h0.01M306.9,145.68h0.01M307.9,162.13h0.01M307.4,157.51h0.01M305.34,148.64h0.01M307.67,160.05h0.01M309.75,150.59h0.01M309.71,157.27h0.01M308.24,157.52h0.01M309.11,153.29h0.01M309.61,159.51h0.01M310.45,151.5h0.01M311.05,157.32h0.01M307.42,153.77h0.01M307.51,155.52h0.01M310.65,165.63h0.01M310.81,156.94h0.01M310.77,151.18h0.01M303.78,155.84h0.01M307.6,152.71h0.01M302.14,156.53h0.01M309.31,157.18h0.01M308.1,156.81h0.01M308.09,156.8h0.01M307.75,153.79h0.01M310.35,158.56h0.01M307.47,161.48h0.01M309.86,153.42h0.01M309,156.12h0.01M308.64,156.69h0.01M308.83,162.42h0.01M308.2,161.58h0.01M306.03,152.9h0.01M309.29,156.75h0.01M309.28,149.23h0.01M307.74,151.77h0.01M309.32,156.47h0.01M309.62,159.42h0.01M305.69,160.98h0.01M307.74,154.91h0.01M307.2,149.91h0.01M306.37,158.31h0.01M308.58,155.57h0.01M306.48,158.44h0.01M307.22,157.17h0.01M308.44,159.84h0.01M308.63,159.54h0.01M308.58,160.45h0.01M312.02,154.2h0.01M307.09,161.18h0.01M308.45,153.99h0.01M305.83,156.81h0.01M308.87,165.33h0.01M310.08,158.11h0.01M310.18,150.8h0.01M306.86,163.55h0.01M307.5,161.2h0.01" stroke="#3a55a6" stroke-width="1" stroke-linecap="round" stroke-opacity="0.8" fill="none"/>
<path d="M309.12,162.29h0.01M301.58,144.85h0.01M302.77,149.36h0.01M298.14,157.15h0.01M294.4,162.3h0.01M312.24,127.45h0.01M297.05,162.65h0.01M296.15,146.95h0.01M296.45,140.4h0.01M314.9,144.54h0.01" stroke="#d3302a" stroke-width="0.8" stroke-linecap="round" stroke-opacity="0.25" fill="none"/>
<ellipse cx="371" cy="144.5" rx="13" ry="11" fill="#d3302a" fill-opacity="0.2" filter="url(#bl30)"/>
<ellipse cx="373" cy="146" rx="9" ry="8" fill="#d3302a" fill-opacity="0.25" filter="url(#bl20)"/>
<path d="M377.94,155.43h0.01M385.19,147.52h0.01M373.11,145.61h0.01M376.18,136.31h0.01M365.89,144.06h0.01M375.69,148.29h0.01M378.17,139.5h0.01M360.84,151.9h0.01M368.15,144.37h0.01M377.93,147.52h0.01M358.81,140.71h0.01M369.2,140.76h0.01M376.51,146.44h0.01M359.32,147.75h0.01M369.03,147.44h0.01M372.41,136.52h0.01M378.68,138.78h0.01M362.41,144.48h0.01M380.32,129.78h0.01M374.29,152.99h0.01M380.98,147.16h0.01M380.72,144.95h0.01M374.56,138.91h0.01M375.64,151.18h0.01M358.95,142.43h0.01M361.87,159.81h0.01M364.46,147.75h0.01M369.39,132.67h0.01M379,150.42h0.01M358.62,140.37h0.01M369.6,140.43h0.01M362.09,142.66h0.01M360.32,143.54h0.01M383.08,146.6h0.01M372.74,150.68h0.01M384.26,148.21h0.01M380.88,138.77h0.01M365.09,133.76h0.01M358.09,138.11h0.01M387.53,147.44h0.01M368.96,151.5h0.01M363.42,158.95h0.01M377.18,133.77h0.01M373.02,145.18h0.01M366.96,142.71h0.01M369.41,141.32h0.01M373.21,145.64h0.01M372.55,142.55h0.01M377.67,142.4h0.01M369.35,139.36h0.01M369.43,147.7h0.01M376.5,152.97h0.01M374.35,157.6h0.01M380.21,140.32h0.01M370.13,136.1h0.01M371.26,142.43h0.01M363.33,137.85h0.01M383.24,152.76h0.01M361.55,137.97h0.01M373.52,145.12h0.01M365.31,133.78h0.01M374.53,141.73h0.01M377.58,146.06h0.01M359.71,156.76h0.01M370.42,138.98h0.01M358.82,147.48h0.01M382.53,127.9h0.01M368.68,134.86h0.01M360.18,138h0.01M366.74,140.53h0.01M381.83,147.96h0.01M383.16,149.57h0.01M381.53,131.64h0.01M366.12,148.74h0.01M370.86,135.58h0.01M384.26,159.18h0.01M366.51,147h0.01M369.49,145.72h0.01M364.85,143.08h0.01M363.27,144.23h0.01M381.05,144.51h0.01M376.73,138.96h0.01M375.37,150.46h0.01M376.35,146.65h0.01M379.66,150.48h0.01M383.33,144h0.01M371.95,149.93h0.01M369.44,138.43h0.01M364.32,173h0.01M380.12,138.81h0.01M368.14,140.92h0.01M360.79,152.19h0.01M369.98,154.35h0.01M372.18,138.12h0.01M378.24,131.19h0.01M379.53,133.3h0.01M366.52,136.54h0.01M366,138.21h0.01M369.54,143.17h0.01M362.91,152.72h0.01M371.18,153.12h0.01M375.46,139.59h0.01M372.32,148.79h0.01M359.9,151.53h0.01M363.06,155.71h0.01M381.64,143.2h0.01M364.4,138.53h0.01M377.54,150.47h0.01M376.74,156.59h0.01M369.58,140.27h0.01M364.52,160.06h0.01M373.58,158.22h0.01M365.35,142.36h0.01M370.68,131.92h0.01M372.8,139.69h0.01M366.62,141.65h0.01M370.3,148.72h0.01M369.69,131.1h0.01M362.73,163.91h0.01M370.57,163.19h0.01M367.22,138.67h0.01M358.32,129.57h0.01M369.47,143.1h0.01M369.88,147.85h0.01M367.46,155.22h0.01M356.54,150.15h0.01M377.82,142.83h0.01M377.13,128.7h0.01M376.88,148.53h0.01M374.44,151.19h0.01M362.57,141.96h0.01M372.92,146.64h0.01M365.04,146.06h0.01M388.41,142.49h0.01M368.1,135.18h0.01M377.01,147.17h0.01M360.36,133.09h0.01M363.15,155.64h0.01M367.98,137.24h0.01M377.27,148.37h0.01M376.11,138.58h0.01M374.16,147.45h0.01M358.1,142.73h0.01M380.49,148.68h0.01M365.05,138.09h0.01M384.12,131.37h0.01M386,142.16h0.01M378.2,141.6h0.01M379.41,132.38h0.01M362.54,138.89h0.01M391.36,131.02h0.01M373.63,145.32h0.01M379.5,141.41h0.01M365.56,144.52h0.01M371.51,165.22h0.01M363.1,145.67h0.01M370.2,147.39h0.01M372.12,149.42h0.01M373.92,143.29h0.01M382.47,139.67h0.01M375.61,151.43h0.01M373.83,152.63h0.01M372.29,121.07h0.01M387.08,143.1h0.01M367.66,141.68h0.01M380.91,139.88h0.01M357.29,154.33h0.01M365.42,140.11h0.01M375.08,151.3h0.01M370.79,140.04h0.01M394.56,141.12h0.01M391.35,150.21h0.01M360.61,138.48h0.01M363.97,143.09h0.01M370.93,135.55h0.01M385.05,137.3h0.01M380.53,150.15h0.01M374.46,149.05h0.01M361.39,135.22h0.01M365.67,134.9h0.01M351.87,164.74h0.01M360.49,139.23h0.01M375.22,137.4h0.01M377.94,148.46h0.01M362.24,138.16h0.01M372.84,141.44h0.01M384.23,151.51h0.01M373.26,152.35h0.01M369.74,142.79h0.01M376.62,155.09h0.01M375.99,143.21h0.01M372.64,142.44h0.01M368.02,144.31h0.01M368.86,141.9h0.01M372.72,148.57h0.01M367.92,146.62h0.01M382.04,138.16h0.01M378.74,145.8h0.01M380.2,140.03h0.01M387.25,139.74h0.01M383.88,143.24h0.01M382.68,152.5h0.01M374.82,146.57h0.01M370.59,154.5h0.01M389.29,156.85h0.01M366.98,144.09h0.01M367.39,139.52h0.01M365.51,138.06h0.01M373.65,146.59h0.01M375.17,151.28h0.01M379.76,157.02h0.01M370.34,133.91h0.01M359.03,151.75h0.01M374.42,152.93h0.01M379.34,163.86h0.01M372.27,145.88h0.01M371.03,144.13h0.01M376.25,132.24h0.01M382.78,138.17h0.01M371.53,135.57h0.01M361.38,136.32h0.01M367.8,137.21h0.01M370.79,132.15h0.01M358.52,143.67h0.01M377.8,147.51h0.01M366.27,150.51h0.01M375.83,143.66h0.01M373.48,152.88h0.01M369.69,152.96h0.01M384.23,132.3h0.01M367.81,142.26h0.01M366.97,134.46h0.01M374.21,136.62h0.01M378.31,145.93h0.01M372,143.46h0.01M364.64,156.17h0.01M377.2,160.84h0.01M376.54,147.83h0.01M387.57,142.94h0.01M370.35,143.32h0.01M373.61,144.4h0.01M367.75,149.07h0.01M360.85,138.62h0.01M372.57,149.17h0.01M378.38,142.55h0.01M364.41,152.97h0.01M366.94,155.42h0.01M363.19,158.42h0.01M382.06,143.28h0.01M367.26,133.73h0.01M376.35,131.05h0.01M365.52,142.2h0.01M372.57,133.21h0.01M367.31,131.38h0.01M354.39,141.73h0.01M372.58,136.67h0.01M375.96,150.07h0.01M356.37,160.07h0.01M370.69,142.76h0.01M368.76,147.08h0.01M363.91,131.97h0.01M370.12,146.04h0.01M357.45,138.99h0.01M373.88,135.8h0.01M380.9,129.71h0.01M362.54,157.4h0.01M371.51,131.7h0.01M382.69,134.94h0.01M372.92,144.69h0.01M368.11,146.93h0.01M365.17,146.97h0.01M373.33,145.5h0.01M371.01,137.5h0.01M376.74,150.78h0.01M360.6,146.19h0.01M380.08,133.04h0.01M368.97,157.47h0.01M376.82,141.93h0.01M366.58,152.25h0.01M362.27,133.03h0.01M367.75,135.16h0.01M364.84,140.09h0.01M369.19,139.15h0.01M376.86,152.79h0.01M380.09,131.7h0.01M373.53,146.01h0.01M367.95,136.58h0.01M368.62,148.83h0.01M376.44,146.36h0.01M380.52,140.3h0.01M369.58,162.49h0.01M371.06,144.35h0.01M366.36,153.49h0.01M373.55,134.1h0.01M379.18,143.73h0.01M350.21,145.43h0.01M373.92,145.84h0.01M367.87,141.98h0.01M354.54,138.11h0.01M374.35,119.99h0.01M371.33,140.2h0.01M374.77,137.41h0.01M361.75,142.7h0.01M388.03,151.63h0.01M372.83,162.5h0.01M369.43,149.02h0.01M383.43,152.91h0.01M376.89,149.82h0.01M378.25,150.61h0.01M380.72,149.52h0.01M356.46,142.71h0.01M384.52,142.21h0.01M369.4,147.47h0.01M374.14,159.23h0.01M378.92,151.1h0.01M366.66,157.73h0.01M374.38,134.5h0.01M377.72,146.99h0.01M371.69,148.07h0.01M375.71,149.06h0.01M359.96,133.9h0.01M363.06,130.14h0.01M363.37,127.9h0.01M374.78,141.71h0.01M373.97,146.66h0.01M370.89,135.23h0.01M371.52,147.64h0.01M379.37,142.52h0.01M377.35,146.3h0.01M363.4,141.32h0.01M379.63,134.58h0.01M371.82,140.7h0.01M378.14,150.67h0.01M357.01,147.4h0.01M360.34,154.75h0.01M376.48,136.42h0.01M358.49,153.39h0.01M374.92,145.51h0.01M374.54,146.58h0.01M373.09,155.03h0.01M374.67,144.02h0.01M373.99,147.12h0.01M375.36,150.22h0.01M368.95,150.3h0.01M371.84,151.64h0.01M393.97,155.48h0.01M380.53,149.4h0.01M376.59,141.66h0.01M374.94,164.78h0.01M366.54,144.96h0.01M373.7,148.25h0.01M370.15,139.26h0.01M379.1,127.79h0.01M365.14,139.03h0.01M354.28,145.78h0.01M367.8,149.51h0.01M377.23,145.5h0.01M390.44,151.63h0.01M379.69,153.21h0.01M364.66,153.19h0.01M370.36,145.32h0.01M364.87,145.96h0.01M370.6,143.58h0.01M365.27,138.31h0.01M359.67,156.72h0.01M375.33,135.38h0.01M373.47,144.74h0.01M370.72,147.13h0.01M374.6,128.2h0.01M387.25,151.27h0.01M372.88,142.52h0.01M369.16,147.12h0.01M378.5,142.68h0.01M359.69,133.05h0.01M377.65,146.9h0.01M366.19,146.17h0.01M365.87,153.31h0.01M372.82,149.13h0.01M384.54,131.87h0.01M366.41,154.15h0.01M379.14,151.71h0.01M374.83,151.47h0.01M361.57,149.22h0.01M378.87,139.7h0.01M365.8,149.6h0.01M360.97,142.43h0.01M366.06,168.39h0.01M366.55,143.45h0.01M376.44,136.47h0.01M366.51,142.62h0.01M383.2,156.86h0.01M373.66,140.78h0.01M366.61,125.8h0.01M365.74,157.1h0.01M373.71,147.97h0.01M356.78,141.38h0.01M355.67,151.06h0.01M365.36,137.96h0.01M376.72,135.96h0.01M373.34,152.97h0.01M372.16,141.22h0.01M370.4,149.6h0.01M355.67,145.44h0.01M369.56,152.02h0.01M358.69,146.22h0.01M378.26,128.95h0.01M371.93,150.8h0.01M371.33,141.55h0.01M374.99,152.41h0.01M374.42,146.25h0.01M373.74,156.73h0.01M374.61,142.83h0.01M367.58,128.89h0.01M361.98,142.78h0.01M374.56,149.46h0.01M382.85,142.6h0.01M379.59,141.6h0.01M370.39,157.13h0.01M376.59,144.12h0.01M368.7,153.76h0.01M374.88,146.52h0.01M367.44,133.76h0.01M373.05,137.8h0.01M387.02,142.82h0.01M377.79,147.79h0.01M383.24,138.84h0.01M366.2,134.01h0.01M366.85,137.2h0.01M371.7,141.14h0.01M376.18,138.24h0.01M370.44,140.65h0.01M379.6,160.22h0.01M367.87,147.55h0.01M382.2,138.77h0.01M379.26,145.23h0.01M363.63,157.93h0.01M376.37,150.49h0.01M370.32,144.49h0.01M379.64,134.46h0.01M367.97,131.7h0.01M374.33,142.57h0.01M376.09,144.44h0.01M351.35,132.3h0.01M357.9,134.59h0.01M372.96,144.95h0.01M371.05,127.54h0.01M379.62,131.49h0.01M373.69,144.86h0.01M362.47,149.77h0.01M374.46,147.83h0.01M366.37,153.27h0.01M370.28,157.9h0.01M368.18,152.46h0.01M374.61,143.16h0.01M361.34,162.34h0.01M363.6,158.77h0.01M355.32,152.83h0.01M388.08,138.82h0.01M364.51,148.53h0.01M365.52,128.57h0.01M363.34,142.67h0.01M367.17,125.42h0.01M368.71,141.97h0.01M376.61,153.55h0.01M373.32,145.5h0.01M374.46,158.29h0.01M367.57,145.36h0.01M371.45,146.19h0.01M381.13,142.96h0.01M371.83,149.65h0.01M374.29,145.12h0.01M356.78,155.02h0.01M375.87,158.31h0.01M373.93,148.4h0.01M381.66,136.42h0.01M351.35,149.9h0.01M372.16,156.28h0.01M371.03,150.65h0.01M372.57,147.78h0.01M367.21,152.98h0.01M373.49,156h0.01M377.17,124.55h0.01M372.23,157.62h0.01M369.68,151.66h0.01M370.28,149.32h0.01M368.96,141.02h0.01M372.17,147.28h0.01M366.48,150.33h0.01M356.92,133.58h0.01M382.02,151.46h0.01M358.66,146.04h0.01M370.94,157.22h0.01M362.04,150.89h0.01M369.67,144.07h0.01M364.57,145.92h0.01M371.48,150.62h0.01M365.48,146.66h0.01M362.06,149.86h0.01M374.1,139.78h0.01" stroke="#d3302a" stroke-width="0.8" stroke-linecap="round" stroke-opacity="0.3" fill="none"/>
<path d="M365.89,137.27h0.01M366.64,141.03h0.01M365.69,142.15h0.01M366.41,140.36h0.01M367.66,148.12h0.01M365.47,133.92h0.01M365.91,149.58h0.01M368.08,148.42h0.01M366.68,145.48h0.01M367.25,150.88h0.01M365.91,155.65h0.01M366.12,144.82h0.01M366.93,147.56h0.01M369.06,145.88h0.01M367.75,146.53h0.01M365.42,141.4h0.01M367.76,140.34h0.01M368.28,146.99h0.01M368.03,141.34h0.01M365.92,148.61h0.01M367.19,147.94h0.01M369.6,141.73h0.01M366.24,145.79h0.01M367.63,144.36h0.01M366.44,143.29h0.01M365.87,149.65h0.01M366.79,144.19h0.01M368.4,145.16h0.01M368.54,134.3h0.01M366.3,146.98h0.01M366.75,136.81h0.01M366.29,142.07h0.01M364.98,152.04h0.01M367.93,152.92h0.01M368.98,142.06h0.01M368.92,137.73h0.01M366.76,146h0.01M368.73,142.02h0.01M368.47,145.71h0.01M366.9,137.29h0.01M367.27,149.61h0.01M366.87,151.75h0.01M367.54,136.79h0.01M369.27,140.17h0.01M366.26,140.54h0.01M365.96,147.68h0.01M368.24,134.2h0.01M367.34,145.06h0.01M365.2,142.88h0.01M366.16,140.07h0.01M366.37,147.54h0.01M366.61,134.29h0.01M367.63,137.19h0.01M368.37,140.12h0.01M367.1,147.58h0.01M367.44,142.3h0.01M366.46,139.89h0.01M368.4,146.44h0.01M368.76,141.64h0.01M366.99,140.82h0.01M366.47,142.54h0.01M369.56,145.74h0.01M368.3,157.52h0.01M366.3,138.62h0.01M365.42,145.45h0.01M366.96,143.29h0.01M368.6,142.78h0.01M366.69,151.67h0.01M367.02,147.96h0.01M366.75,147.45h0.01M368,141.84h0.01M368.82,139.88h0.01M365.9,145.58h0.01M366.97,142.69h0.01M367.07,141.26h0.01M366.6,147.48h0.01M365.97,138.11h0.01M368.19,140.5h0.01M367.46,148.07h0.01M368.08,143.73h0.01M368.96,147.48h0.01M366.89,139.89h0.01M367.89,147.67h0.01M366.85,140.62h0.01M367.2,150.94h0.01M367.66,148.12h0.01M367.11,146.5h0.01M365.63,151.85h0.01M368.95,145.93h0.01M367.46,141.04h0.01M366.04,151.95h0.01M364.87,145.93h0.01M367.27,150.3h0.01M368.02,144.97h0.01M368.41,150.02h0.01M368.53,139.9h0.01M366.88,137.91h0.01M368.01,137.22h0.01M365.6,148.03h0.01M367.46,134.43h0.01M368.31,135.34h0.01M366.63,137.16h0.01M367.12,145.41h0.01M367.41,146.44h0.01M367.45,140.19h0.01M368.94,148.2h0.01M366.11,145.86h0.01M368.77,150.32h0.01M365.92,148.99h0.01M366.56,140.83h0.01M366.44,145.28h0.01M367.2,143.46h0.01M366.75,146.59h0.01M367.83,145.31h0.01M367.31,144.42h0.01M369.72,147.85h0.01M367.72,144.61h0.01M367.02,147.97h0.01M367.71,144.48h0.01M367.96,143.52h0.01M367.09,148.91h0.01M366.07,149.07h0.01M366.41,150.5h0.01M367.49,147.46h0.01M368.22,143.26h0.01M367.83,145.27h0.01M367.2,145.11h0.01M367.92,135.55h0.01M366.76,138.72h0.01M367.58,151.93h0.01M368.86,144.02h0.01M368.53,130.09h0.01M368.79,143.73h0.01M366.89,145.12h0.01M367.52,138.19h0.01M366.19,155.67h0.01M368.31,149.93h0.01M366.83,148.36h0.01M365.84,143.37h0.01M366.75,146.71h0.01M367.57,148.51h0.01M364.87,146.68h0.01M365.74,140.97h0.01M368.38,145.25h0.01M367.4,144.96h0.01M367.24,145.75h0.01M365.52,139.1h0.01M369.04,145.6h0.01M368.42,144.29h0.01M368.07,145.45h0.01M366.07,145.27h0.01M367.93,137.09h0.01M368.55,148.52h0.01M366.93,147.98h0.01M367.02,137.55h0.01M366.77,143.76h0.01M367.95,139.98h0.01M367.03,141.96h0.01M366.94,149.21h0.01M365.69,146.85h0.01M365.46,154.07h0.01M368.32,144.64h0.01M369.02,138.59h0.01M368.24,144.73h0.01M368.85,131.97h0.01M366.7,153.02h0.01M367.24,145.42h0.01M367.7,146.33h0.01M367.11,144.85h0.01M369.13,139.83h0.01" stroke="#d3302a" stroke-width="0.8" stroke-linecap="round" stroke-opacity="0.45" fill="none"/>
<ellipse cx="367.2" cy="143.5" rx="1.5" ry="7" fill="#d3302a" fill-opacity="0.55" filter="url(#bl10)"/>
<path d="M371.99,140.8h0.01M371.26,142.8h0.01M371.56,139.94h0.01M372.48,147.47h0.01M370.79,147.35h0.01M373.9,150.02h0.01M370.93,145.38h0.01M373.01,141.8h0.01M371.39,146.03h0.01M370.73,139.44h0.01M372.51,144.73h0.01M372.26,140.19h0.01M371.83,149.77h0.01M372.01,130.68h0.01M371.38,148.23h0.01M372.53,148.41h0.01M371.53,143.79h0.01M372.08,145.68h0.01M373.27,145.02h0.01M370.6,150.47h0.01M371.42,152.27h0.01M371.3,144.05h0.01M371.16,152.17h0.01M370.56,140.78h0.01M371.73,146.08h0.01M372.19,146.19h0.01M371.9,137.7h0.01M370.28,145.64h0.01M372.76,140.67h0.01M372.79,147.97h0.01M372.1,139.56h0.01M370.92,135.13h0.01M371.08,137.5h0.01M374.14,144.11h0.01M373.9,145.55h0.01M372.53,145.7h0.01M371.01,140.19h0.01M373.39,147.94h0.01M372.2,141.25h0.01M373.84,142.9h0.01M371.38,148.9h0.01M372.52,143.19h0.01M371.78,134.61h0.01M372.83,147.56h0.01M371.31,144h0.01M373.01,142.07h0.01M371.58,150.44h0.01M371.03,140.85h0.01M372.63,147.26h0.01M372.26,144.67h0.01M369.69,156.98h0.01M371.96,135h0.01M372.11,144.97h0.01M372.21,145.72h0.01M374.24,149.48h0.01M371.3,141.89h0.01M371.98,140.82h0.01M370.14,150.94h0.01M370.41,141.86h0.01M371.38,145.39h0.01M371.86,143.73h0.01M371.78,145.9h0.01M372.7,137.26h0.01M372.8,141.28h0.01M373.1,143.71h0.01M371.82,144.53h0.01M372.54,149.47h0.01M371.21,146.53h0.01M372.4,146.86h0.01M372.53,143.71h0.01M371.45,150.27h0.01M368.47,140.95h0.01M371.28,143.51h0.01M374.82,136.55h0.01M371.89,138.74h0.01M371.3,148.23h0.01M372.12,143.74h0.01M373.22,134.71h0.01M372.36,143.76h0.01M371.77,142.8h0.01M370.59,138.31h0.01M371.67,145.64h0.01M370.69,142.62h0.01M372.38,144.02h0.01M373.65,148.68h0.01M373.15,140.89h0.01M371.35,149.35h0.01M370.92,142.62h0.01M370.47,142.68h0.01M372.48,150.4h0.01M372.62,145.86h0.01M372.86,141.94h0.01M372.37,143.37h0.01M370.67,145.03h0.01M369.88,136.7h0.01M373.22,147.29h0.01M371.07,143.94h0.01M374.07,137.5h0.01M369.67,139.25h0.01M370.77,148.28h0.01M370.96,137.64h0.01M372.28,154.68h0.01M372.71,138.62h0.01M371.38,144.98h0.01M372.64,131.19h0.01M370.55,143.58h0.01M371.43,141.33h0.01M370.65,146.34h0.01M371.37,144.88h0.01M371.28,142.24h0.01M372.31,154.65h0.01M375.76,147.75h0.01M370.47,140.23h0.01M371.76,145.63h0.01M372.73,129.46h0.01M372.05,140.95h0.01M373.54,150.07h0.01M370.85,141.07h0.01M372.83,144.56h0.01M371.12,138.07h0.01M372.88,147.75h0.01M372.16,144.41h0.01M372.25,143.81h0.01M371.33,148.48h0.01M369.95,151.99h0.01M370.76,147.79h0.01M372.75,135.14h0.01M371.69,145.77h0.01M372.79,145.1h0.01M370.52,138.05h0.01M372.68,135.7h0.01M373.08,141.72h0.01M369.55,142.25h0.01M372.33,143.41h0.01M374.11,140.07h0.01M371.15,144.51h0.01M373.08,145.19h0.01M372.02,142.27h0.01M372.92,145.63h0.01M371.56,140.78h0.01M371.13,135.85h0.01M371.51,143.67h0.01M371.58,148.1h0.01M371.34,157.19h0.01M371.02,133.07h0.01M373.2,141.17h0.01M371.35,139.32h0.01M370.66,145.04h0.01M370.95,139.31h0.01M372.52,144.33h0.01M369.53,148.64h0.01M372.53,139.96h0.01M372.77,143.34h0.01M373.39,151.79h0.01M371.5,148.14h0.01M371.08,135.62h0.01M372.18,154.09h0.01M372.14,140.32h0.01M373.43,145.24h0.01M372.05,141.66h0.01M371.52,141.46h0.01M370.53,140.27h0.01M371.76,146.84h0.01M372.07,139.87h0.01M373.29,137.45h0.01M372.11,140.9h0.01M373.47,143.75h0.01M373.36,133.72h0.01M371.15,147.72h0.01M370.74,140.17h0.01" stroke="#d3302a" stroke-width="0.8" stroke-linecap="round" stroke-opacity="0.45" fill="none"/>
<ellipse cx="372" cy="144" rx="1.5" ry="7" fill="#d3302a" fill-opacity="0.55" filter="url(#bl10)"/>
<path d="M377.84,148.01h0.01M378.57,140.65h0.01M377.39,142.37h0.01M377.64,149h0.01M376.55,141.03h0.01M376.31,147.4h0.01M374.96,139.18h0.01M376.84,150.87h0.01M376.45,152.94h0.01M374.45,140.25h0.01M377.35,134.24h0.01M378.72,137.61h0.01M377.49,150.65h0.01M378.33,143.08h0.01M376.76,151.08h0.01M375.93,139.28h0.01M377.12,141.24h0.01M376.67,145.29h0.01M375.8,151.15h0.01M378.19,144.8h0.01M377.24,140.79h0.01M376.33,147.34h0.01M377.27,146.29h0.01M376.89,148.34h0.01M377.73,144.99h0.01M378.81,142.79h0.01M376.37,145.96h0.01M375.74,133.64h0.01M378.57,147.18h0.01M379.69,151.93h0.01M376.39,148.59h0.01M376.06,141.17h0.01M375.74,138.3h0.01M377.05,152.35h0.01M377.18,143.35h0.01M376.77,144.82h0.01M377.98,146.96h0.01M376.16,142.94h0.01M376.41,146.06h0.01M375.68,153.26h0.01M378.59,143.41h0.01M378.24,155.33h0.01M378.5,147.75h0.01M376.14,147.44h0.01M378.54,150.53h0.01M377.39,150.41h0.01M377.86,151.07h0.01M377.71,148.62h0.01M376.72,143h0.01M376.88,153.92h0.01M375.38,145.13h0.01M376.47,141.76h0.01M376.82,150.3h0.01M375.8,149.09h0.01M377.18,145.73h0.01M378.48,146.25h0.01M376.53,148.76h0.01M376.01,155.39h0.01M376.14,145.51h0.01M377.28,139.66h0.01M378.99,143.08h0.01M377.26,148.4h0.01M377.14,144.89h0.01M375.71,142.6h0.01M377.44,149.48h0.01M377.76,149.52h0.01M376.63,144.87h0.01M377.05,147.28h0.01M376.35,142.74h0.01M377.88,142.87h0.01M378.54,144.19h0.01M377.49,139.15h0.01M377.64,147.53h0.01M377.14,145.47h0.01M376.37,143.35h0.01M376.23,146.36h0.01M376.63,146.49h0.01M377.21,142.15h0.01M377.07,142.89h0.01M378.19,141.88h0.01M377.89,152.45h0.01M378.71,137.49h0.01M377.93,145.36h0.01M376.81,149.87h0.01M377.19,140.39h0.01M375.3,140.98h0.01M378.91,140.87h0.01M376.44,136.77h0.01M376.63,151.45h0.01M379.08,144.37h0.01M375.91,140.04h0.01M376.41,142.31h0.01M377.01,146.27h0.01M376.45,143.75h0.01M377.18,140.93h0.01M377.35,147.83h0.01M377.78,140.93h0.01M376.97,143.34h0.01M377.85,146.13h0.01M376.72,141.68h0.01M377.75,145.64h0.01M378.38,142.08h0.01M375.19,158.41h0.01M376.84,143.21h0.01M377.29,148.62h0.01M375.02,140.98h0.01M373.74,139.67h0.01M377.43,144.57h0.01M376.38,143.47h0.01M377.95,143.49h0.01M377.08,145h0.01M377.07,149.52h0.01M376.71,154.6h0.01M377.2,155.11h0.01M376.1,145.42h0.01M376.53,154.17h0.01M377.95,153.51h0.01M376.81,141.99h0.01M377.64,142.67h0.01M377.08,144.55h0.01M376.72,154.73h0.01M376.03,144.31h0.01M378.01,143.81h0.01M376.18,151.84h0.01M377.5,144.08h0.01M375.39,144.2h0.01M377.39,147.9h0.01M377.51,145.8h0.01M376.39,132.98h0.01M375.32,138.74h0.01M376.92,148.39h0.01M377.2,137.8h0.01M376.52,150.95h0.01M376.35,144.53h0.01M378.08,146.12h0.01M376.97,146.26h0.01M376.63,135.99h0.01M378.01,141.34h0.01M377.07,139.66h0.01M376.32,146.05h0.01M378.04,152.42h0.01M376.69,143.75h0.01M378.1,145.22h0.01M376.35,135.21h0.01M377.44,143.02h0.01M378.44,143.67h0.01M377.59,143.95h0.01M377.64,147.84h0.01M377.58,151.82h0.01M378.02,144.81h0.01M377.18,146.83h0.01M377.58,137.17h0.01M376.84,147.9h0.01M379.19,145.07h0.01M376.14,136.25h0.01M377.99,146.57h0.01M376.02,141.65h0.01M377.68,149.91h0.01M378.52,147.18h0.01M375.9,145.32h0.01M379,153.41h0.01M376.04,144.13h0.01M376.2,143.4h0.01M377.44,145.1h0.01M375.89,145.52h0.01M378.16,140.74h0.01M377.62,147.79h0.01M374.13,147.06h0.01M375.54,142.38h0.01M376.3,137.28h0.01" stroke="#d3302a" stroke-width="0.8" stroke-linecap="round" stroke-opacity="0.45" fill="none"/>
<ellipse cx="377.1" cy="146" rx="1.5" ry="7" fill="#d3302a" fill-opacity="0.55" filter="url(#bl10)"/>
<path d="M383.1,148.54h0.01M383.22,153.75h0.01M382.78,145.27h0.01M382.88,149.69h0.01M383.78,154.6h0.01M382.19,142.55h0.01M383.62,146.9h0.01M381.69,149.65h0.01M380.92,153.59h0.01M381.89,148.3h0.01M381.54,145.19h0.01M382.42,151.61h0.01M383.87,145.73h0.01M382.35,150.9h0.01M383.04,150.6h0.01M384.23,147.82h0.01M383.87,153.12h0.01M382.01,154.74h0.01M381.18,142.26h0.01M384.24,151.43h0.01M380.74,148h0.01M379.93,147.32h0.01M379.74,149.26h0.01M383.2,154.75h0.01M380.31,148.11h0.01M381.64,147.24h0.01M381.78,142.57h0.01M383.35,148.03h0.01M380.42,148.87h0.01M381.98,144.1h0.01M382.26,147.36h0.01M383.47,151.29h0.01M381.66,155.87h0.01M382.23,147.49h0.01M381.62,158.92h0.01M383.13,153.94h0.01M382.96,153.31h0.01M381.51,151.95h0.01M382.53,149.5h0.01M380.31,145.87h0.01M382.01,148.69h0.01M380.97,149.35h0.01M381.48,149.86h0.01M383.05,156.78h0.01M384.3,159.11h0.01M382.17,151.8h0.01M381.79,154.13h0.01M381.58,145.69h0.01M382.77,139.21h0.01M381.75,148.65h0.01M383.03,150.4h0.01M383.64,156.19h0.01M382.64,161.28h0.01M381.53,150.52h0.01M382.79,155.73h0.01M381.2,154.77h0.01M380.03,150.3h0.01M383.21,153.37h0.01M384.06,151.16h0.01M383.41,157.01h0.01M381.56,143.97h0.01M378.24,137.67h0.01M381.15,149.93h0.01M382.64,153.9h0.01M381.52,154.54h0.01M383.48,146.45h0.01M381.06,152.01h0.01M382.49,146.02h0.01M382.19,152.71h0.01M382.23,145.57h0.01M380.4,143.93h0.01M381.83,154.01h0.01M382.23,143.04h0.01M381.5,141.94h0.01M380.5,153.27h0.01M381.4,149.81h0.01M380.88,137.74h0.01M382.32,155.22h0.01M383,143.17h0.01M382.29,147.04h0.01M382.34,148.75h0.01M381.73,159.38h0.01M382.14,149.2h0.01M379.78,153.84h0.01M382.01,148.62h0.01M382.91,151.88h0.01M381.35,142.28h0.01M382.69,149.33h0.01M380.27,146.26h0.01M381.98,144.25h0.01M381.72,150.81h0.01M382.44,154.52h0.01M382.08,151.7h0.01M384.37,147.75h0.01M378.41,152.99h0.01M380.32,143.78h0.01M381.18,150.91h0.01M382.02,151.93h0.01M381.21,148.89h0.01M381.17,148.06h0.01M380.18,149.93h0.01M380.42,146.49h0.01M380.96,148.22h0.01M383.59,153h0.01M381.02,139.72h0.01M384.96,155.56h0.01M383.09,151.6h0.01M381.6,150.39h0.01M382.82,144.29h0.01M383.05,147.25h0.01M380.59,146.33h0.01M380.13,152.7h0.01M383.54,152.45h0.01M380.86,155.05h0.01M382.88,149.59h0.01M382.67,139.19h0.01M380.07,144.46h0.01M382.63,147.42h0.01M382.54,150.89h0.01M383.34,141.75h0.01M381.88,148.22h0.01M382.42,149.53h0.01M382.34,146.23h0.01M381.66,148.25h0.01M383.73,160.53h0.01M382.99,149.08h0.01M383.62,159.03h0.01M382.31,150.36h0.01M383.21,145.63h0.01M380.87,151.91h0.01M381.23,147.11h0.01M383.03,148.81h0.01M381.67,137.97h0.01M381.48,150.86h0.01M382.1,146.21h0.01M380.17,154.74h0.01M382.11,149.65h0.01M382.46,147.21h0.01M381.57,143.87h0.01M380.68,149.18h0.01M383.86,147.21h0.01M382.39,145.21h0.01M380.79,158.35h0.01M381.27,148.33h0.01M380.13,153.49h0.01M379.99,156.35h0.01M379.81,151.05h0.01M381,152.16h0.01M382.39,151.55h0.01M382.74,153.8h0.01M381.79,151.89h0.01M383.05,151.52h0.01M382.55,149.71h0.01M380.65,146.63h0.01M380.99,146.87h0.01M382.23,145.86h0.01M382.67,149.98h0.01M383.12,155.51h0.01M380.4,144.34h0.01M379.77,145.99h0.01M384.15,144.14h0.01M381.62,148.73h0.01M383.03,154.08h0.01M381.97,147.35h0.01M380.4,150.51h0.01M383.48,137.5h0.01M382.45,148.27h0.01M383.57,151.4h0.01M382.61,145.95h0.01M380.85,140.92h0.01" stroke="#d3302a" stroke-width="0.8" stroke-linecap="round" stroke-opacity="0.45" fill="none"/>
<ellipse cx="382" cy="149" rx="1.5" ry="7" fill="#d3302a" fill-opacity="0.55" filter="url(#bl10)"/>
<path d="M388.12,156.83h0.01M387.1,156.98h0.01M390.53,157.03h0.01M386.27,159.33h0.01M387.02,157.61h0.01M386.62,155.92h0.01M387.48,162.14h0.01M384.06,161.85h0.01M389.72,158.21h0.01M388.43,155.2h0.01M386.89,156.41h0.01M386.66,156.04h0.01M388.22,155.66h0.01M387.94,155.44h0.01M386.55,158.77h0.01M387,158.94h0.01M387.91,159.3h0.01M386.54,155.56h0.01M386.71,158.94h0.01M386.54,163.59h0.01M386.66,158.77h0.01M384.99,157.05h0.01M385.62,165.62h0.01M387.96,158.99h0.01M388.7,156.41h0.01M387.21,160.55h0.01M380.94,156.18h0.01M384.67,157.14h0.01M388.03,160.9h0.01M390.3,156.47h0.01M389.45,154.07h0.01M386.94,160.07h0.01M386.68,160.43h0.01M386.54,154.36h0.01M390.39,157.18h0.01M387.72,161.12h0.01M385.67,158.83h0.01M389,160.44h0.01M388.78,157.83h0.01M383.72,156.42h0.01M386.19,156.63h0.01M389.1,157.32h0.01M388.93,158.66h0.01M385.11,150.78h0.01M387.31,152.93h0.01M388.87,158.2h0.01M387.93,160.02h0.01M385.45,156.38h0.01M386.99,158.21h0.01M388.5,155.24h0.01M388.19,154.41h0.01M385.62,158.63h0.01M391.48,158.01h0.01M387.72,156.8h0.01M384.66,154.63h0.01M386.75,158.39h0.01M382.47,158.02h0.01M386.12,157.49h0.01M387.26,157.86h0.01M391.61,157.18h0.01M387.68,159.61h0.01M387.99,159.26h0.01M388.69,163.04h0.01M387.72,162.01h0.01M386.29,158.04h0.01M389.75,154.8h0.01M388.27,159.87h0.01M390.09,156.5h0.01M389.18,162.29h0.01M385.7,154.08h0.01" stroke="#d3302a" stroke-width="0.84" stroke-linecap="round" stroke-opacity="0.6" fill="none"/>
<ellipse cx="387.3" cy="158" rx="2.3" ry="3.2" fill="#d3302a" fill-opacity="0.75" filter="url(#bl08)"/>
<ellipse cx="387.7" cy="150.8" rx="2.3" ry="4.6" fill="#3a55a6" fill-opacity="1" filter="url(#bl06)"/>
<path d="M387.29,150.59h0.01M389.4,150.6h0.01M387.75,153.81h0.01M388.52,148.76h0.01M388.45,151.29h0.01M387.22,147.44h0.01M388.64,153.75h0.01M386.81,152.62h0.01M387.4,153.28h0.01M390.01,151.06h0.01M387.55,150.47h0.01M388.14,147.54h0.01M386.59,151.57h0.01M389.17,154.22h0.01M386.76,143.78h0.01M386.94,155.21h0.01M387.09,148.71h0.01M386.72,151.99h0.01M386.21,148.72h0.01M387.42,150.4h0.01M387.21,152.85h0.01M387.62,150.32h0.01M386.68,155.36h0.01M386.76,150.89h0.01M387.38,152.43h0.01M387.72,149.23h0.01M386.73,149.52h0.01M387.68,149.78h0.01M387.47,152.07h0.01M388.85,155.01h0.01M388.4,150.88h0.01M388.25,147.54h0.01M388.79,149.24h0.01M387.04,147.32h0.01M389.16,152.03h0.01M387.91,150.86h0.01M387.19,148.08h0.01M388.15,149.89h0.01M386.57,153.18h0.01M389.61,151.96h0.01M387.99,149.35h0.01M386.12,152.71h0.01M386.51,151.79h0.01M387.17,149.41h0.01M387.12,151.27h0.01M388.2,155.55h0.01M388.66,148.01h0.01M388.8,153.38h0.01M388.29,150.45h0.01M386.72,152.4h0.01M388.91,151.81h0.01M389.02,151.51h0.01M385.64,150.41h0.01M387.11,150.81h0.01M387.33,152.52h0.01M386.88,151.96h0.01M388.82,147.1h0.01M388.2,151.96h0.01M387.77,154.12h0.01M386.41,153.07h0.01M385.52,151.34h0.01M386.71,146.17h0.01M386.82,152.3h0.01M386.74,152.48h0.01M385.44,154.51h0.01M386.07,148.38h0.01M387.24,150.21h0.01M388.05,149.46h0.01M387.13,150.12h0.01M387.44,146.42h0.01" stroke="#3a55a6" stroke-width="1" stroke-linecap="round" stroke-opacity="0.8" fill="none"/>
<path d="M385.58,163.12h0.01M385.65,162.14h0.01M385.76,163.84h0.01M389.6,162h0.01M385.26,162.29h0.01M385.62,162.71h0.01M388.67,161.13h0.01M385.38,162.51h0.01M388.83,162.67h0.01M387.36,160.86h0.01M385.25,160.35h0.01M385.1,164.79h0.01M386.75,162.58h0.01M386.09,162.76h0.01" stroke="#9a88b8" stroke-width="0.9" stroke-linecap="round" stroke-opacity="0.45" fill="none"/>
<path d="M359.06,139.89h0.01M389.33,164.04h0.01M364.89,146.24h0.01M343.28,147.26h0.01M374.41,139.67h0.01M354.38,136.09h0.01M373.68,138.68h0.01M365.91,133.59h0.01M385.16,129.81h0.01M374.27,167.03h0.01M362.59,150.44h0.01M387.31,156.89h0.01M360.52,128.25h0.01M382.78,145.56h0.01M373.03,134.59h0.01M374.07,135.61h0.01M350.9,143.81h0.01M354.52,147.14h0.01M387.4,146.27h0.01M370.02,146.67h0.01M360.64,141.73h0.01M392.72,145.53h0.01M384.79,160.05h0.01M378.1,171.23h0.01M354.56,158.5h0.01M367.86,142.52h0.01M388.27,149.84h0.01M340.06,156.61h0.01M346.16,157.15h0.01M357.01,159.75h0.01M381.43,159.97h0.01M371.2,149.99h0.01M374.53,141.82h0.01M370.74,126.79h0.01M369.48,157.92h0.01M384.69,152.48h0.01M374.55,145.3h0.01M386.19,140.35h0.01" stroke="#d3302a" stroke-width="0.8" stroke-linecap="round" stroke-opacity="0.22" fill="none"/>
<ellipse cx="443" cy="153.5" rx="20" ry="8" fill="#d3302a" fill-opacity="0.2" filter="url(#bl30)"/>
<path d="M437,149.19h0.01M467.41,145.5h0.01M438.11,158.4h0.01M476.93,146.6h0.01M441.22,155.77h0.01M433.08,152.09h0.01M444.91,162.39h0.01M476.69,153.62h0.01M440.92,154.27h0.01M450.19,146.95h0.01M451.24,157.09h0.01M423.89,152.34h0.01M441.39,157.32h0.01M462.02,146.77h0.01M439.5,151.72h0.01M453.02,155.49h0.01M439.87,151.15h0.01M438.31,160.43h0.01M446.87,156.91h0.01M458.16,149.32h0.01M444.36,147.43h0.01M442.72,152.98h0.01M429.61,148.66h0.01M419.43,150.64h0.01M444.77,146.27h0.01M440.43,157.7h0.01M446.73,154.07h0.01M457.47,154.85h0.01M454.41,157.97h0.01M430.69,139.22h0.01M446.52,153.26h0.01M446.85,151.57h0.01M439.5,157.14h0.01M431.71,156.19h0.01M441.58,160.86h0.01M453.44,141.78h0.01M438.51,146.63h0.01M423.37,160.35h0.01M461.87,161.73h0.01M442.3,148.14h0.01M436.43,159.79h0.01M450.23,158.3h0.01M452.45,144.81h0.01M441.66,149.4h0.01M434.59,155.07h0.01M434.8,152.62h0.01M453.85,163.89h0.01M440.79,156.69h0.01M449.66,158.45h0.01M416.01,149.09h0.01M435.78,145.66h0.01M437.34,149.38h0.01M436.08,161.52h0.01M415.45,164.17h0.01M436.4,148.16h0.01M464.61,152.2h0.01M446.88,138.06h0.01M435.26,160.78h0.01M432.56,145.46h0.01M423.65,158.41h0.01M445.77,160.77h0.01M431.63,145.02h0.01M437.02,147.78h0.01M455.02,157.35h0.01M455.74,161.25h0.01M451.2,149.87h0.01M419.36,146.73h0.01M434.63,155.1h0.01M459,160.64h0.01M425.95,146.36h0.01M460.05,148.27h0.01M442.12,160.01h0.01M455.74,154.22h0.01M436.66,148.05h0.01M426.16,153.02h0.01M428.27,155.89h0.01M462.83,159.18h0.01M437.94,154.78h0.01M425.32,152.92h0.01M453.86,142.89h0.01M420.83,156.24h0.01M440.16,156.08h0.01M447.17,154.23h0.01M446.53,153.11h0.01M448.34,153.73h0.01M441.17,158.74h0.01M445.84,145.73h0.01M441.78,158.41h0.01M439.62,150.71h0.01M449.25,151.29h0.01M453.14,155.57h0.01M445.38,151.46h0.01M463.39,152.56h0.01M473.11,146.25h0.01M446.4,160.82h0.01M437.51,144.92h0.01M424.26,160.89h0.01M450.46,145.36h0.01M417.5,148.69h0.01M465.98,150.42h0.01M456.07,158.23h0.01M435.02,154.16h0.01M451.92,150.18h0.01M430.18,145.45h0.01M426.94,158.95h0.01M453.07,153.15h0.01M428.13,155.47h0.01M445.82,151.82h0.01M440.57,149.92h0.01M464.26,156.94h0.01M446.76,154.73h0.01M464.49,159.81h0.01M454.49,154.13h0.01M431.6,144.46h0.01M426.02,157.57h0.01M412.8,153.27h0.01M442.81,151.57h0.01M430.83,147.77h0.01M433.59,149.19h0.01M452.19,154.49h0.01M430.01,156.56h0.01M434.53,152.87h0.01M435.87,147.33h0.01M446.03,155.55h0.01M421.53,155.15h0.01M443.75,151.48h0.01M440.78,141.57h0.01M427.74,145.52h0.01M428.45,157.75h0.01M459.14,151.38h0.01M452.33,142.15h0.01M448.18,151.84h0.01M430.48,153.2h0.01M437.33,156.76h0.01M423.93,155.53h0.01M417.46,155.18h0.01M435.53,148.28h0.01M433.71,142.83h0.01M424.62,149.19h0.01M424.99,161.13h0.01M447.22,143.79h0.01M435.55,158.26h0.01M419.94,143.86h0.01M470.61,145.04h0.01M417.67,153.49h0.01M445,147.94h0.01M427.95,151.38h0.01M451.49,145.9h0.01M443,153.62h0.01M456.22,157.96h0.01M441.02,144.03h0.01M431.41,156.09h0.01M462.2,155.07h0.01M441.19,157.53h0.01M439.06,139.12h0.01M439.86,158.19h0.01M431.8,145.85h0.01M446.91,151.28h0.01M465.47,150.11h0.01M462.91,146.66h0.01M446.15,147.58h0.01M451.01,148.39h0.01M452.45,153.79h0.01M433.08,157.13h0.01M462.84,150.97h0.01M445.48,157.46h0.01M416.54,153.65h0.01M450.6,159.63h0.01M429.18,144.79h0.01M446.17,153.61h0.01M451.42,152.48h0.01M437.6,153.55h0.01M445.8,154.84h0.01M460.85,157.57h0.01M422.64,153.6h0.01M415.55,155.84h0.01M440.23,151.02h0.01M438.55,151.85h0.01M470.99,148.96h0.01M455.83,159.16h0.01M449.27,157.42h0.01M440.47,160.4h0.01M414.79,149.93h0.01M423.31,151.66h0.01M437.27,167.51h0.01M444.41,159.16h0.01M435.83,144.05h0.01M443.34,157.13h0.01M451.57,154.79h0.01M431.82,150.69h0.01M435.8,151.06h0.01M428.17,147.64h0.01M458.64,149.57h0.01M413.38,148.1h0.01M450.09,145.73h0.01M452.44,150.42h0.01M413.24,147.43h0.01M434.9,156.99h0.01M456.79,158.91h0.01M428.98,151.79h0.01M433.52,150.69h0.01M441,156.52h0.01M460,152h0.01M450.25,164.78h0.01M431.98,136.9h0.01M422.29,138.71h0.01M420.42,146.12h0.01M446.2,155.57h0.01M433.37,149.89h0.01M449.77,152.83h0.01M424.62,151h0.01M436.91,155.67h0.01M439.86,164.86h0.01M451.96,139.15h0.01M422.52,166.08h0.01M442.37,159.1h0.01M440.61,150.92h0.01M442.84,155.75h0.01M419.33,152.64h0.01M448.48,155.66h0.01M429.59,155.65h0.01M439.79,157.47h0.01M429.51,146.79h0.01M468.55,156.47h0.01M442.19,148.87h0.01M471.37,151.03h0.01M432.67,157.59h0.01M437.54,150.17h0.01M462.08,154.64h0.01M436.3,154.78h0.01M447.64,153.45h0.01M457.61,145.53h0.01M436.29,155.78h0.01M432.02,153.96h0.01M438.02,166.25h0.01M455.67,146.62h0.01M447.5,159.21h0.01M459.56,150.35h0.01M437.82,151.08h0.01M434.84,163.17h0.01M425.73,152.1h0.01M437.33,157.72h0.01M433.25,153.69h0.01M439.84,147.5h0.01M428.35,151.62h0.01M431.51,150.3h0.01M437.16,151.59h0.01M455.05,164.13h0.01M436.85,155.75h0.01M433.5,142.54h0.01M455.88,164.24h0.01M460.35,155.21h0.01M437.35,158.34h0.01M437.94,162.35h0.01M416.19,148.02h0.01M419.75,154.97h0.01M440.87,152.11h0.01M460.93,150.88h0.01M467.33,151.16h0.01M453.07,153.61h0.01M434.78,160h0.01M448.74,157.66h0.01M421.05,154.74h0.01M440.44,160.22h0.01M425.05,139.1h0.01M441.65,153.23h0.01M461.65,155.16h0.01M472.04,154.91h0.01M444.6,161.54h0.01M447.14,154.07h0.01M418.45,161.28h0.01M432.48,151.99h0.01M462.87,157.2h0.01M457.87,153.7h0.01M453.28,151.57h0.01M447.9,156.18h0.01M464.65,156.51h0.01M438.05,147.7h0.01M438.96,158.76h0.01M429.63,153.67h0.01M447.92,136.95h0.01M436.39,152.92h0.01M462.61,141.6h0.01M437.95,158.26h0.01M436.83,148.4h0.01M437.3,150.43h0.01M452.95,152.02h0.01M427.59,145.09h0.01M420.9,153.24h0.01M439.97,145.72h0.01M436.67,151.81h0.01M449.19,158.22h0.01M436.81,160.77h0.01M433.17,161.67h0.01M445.67,151.71h0.01M447.66,147.32h0.01M455.94,155.99h0.01M442.57,162.44h0.01M416.28,147.8h0.01M441.01,161.21h0.01M441.78,152.24h0.01M440.28,137.2h0.01M449.13,153.47h0.01M437.71,164.34h0.01M457.29,157.38h0.01M437.59,159.47h0.01M461.29,155.47h0.01M426.12,142.95h0.01M428.18,146.67h0.01M438.08,147h0.01M440.15,148.2h0.01M445.52,157.73h0.01M435.76,161.83h0.01M445.45,142.87h0.01M443.48,146.63h0.01M470.74,152.44h0.01M458.64,151.82h0.01M445.66,138.88h0.01M451.66,170.71h0.01M450.39,157.28h0.01M426.76,155.2h0.01M457.62,141.45h0.01M433.07,154.82h0.01M453.06,145.97h0.01M443.96,156.11h0.01M454.72,154.81h0.01M461.96,153.29h0.01M450.26,155.63h0.01M435.28,149.53h0.01M437.63,154.09h0.01M449.98,138.55h0.01M436.21,157.43h0.01M436.68,151.92h0.01M440.39,168.3h0.01M437.04,153.67h0.01M449.42,138.89h0.01M435.74,162.26h0.01M443.38,148.61h0.01M431.82,146.22h0.01M417.78,152.75h0.01M453.25,160.77h0.01M455.79,164.75h0.01M435.08,150.69h0.01M453.38,154.33h0.01M446.46,154.39h0.01M425.83,149.09h0.01M458.69,149.97h0.01M414.19,152.16h0.01M441.37,152.65h0.01M452.24,159.43h0.01M426.67,141.37h0.01M464.65,155.88h0.01M433.93,155.27h0.01M459.75,161.3h0.01M439.56,150.68h0.01M451.86,150.75h0.01M441.53,153.63h0.01M475.56,149.59h0.01M448.08,149.4h0.01M456.76,148.96h0.01M452.54,148.98h0.01M445.16,146.79h0.01M438.92,149.31h0.01M448.24,148.25h0.01M456.49,148.52h0.01M455.32,144.88h0.01M450.28,158.66h0.01M440.81,154.8h0.01M452.63,152.62h0.01M428.85,146.4h0.01M442.48,156.78h0.01M414.15,151.47h0.01M433.24,152.28h0.01M440.64,153.47h0.01M423.07,152.23h0.01M426.82,158.84h0.01M456.08,148.15h0.01M450.01,148.95h0.01M458.29,153.81h0.01M459.44,151.7h0.01M452.09,156.22h0.01M454.29,158.45h0.01M447.29,161.22h0.01M461.15,158.69h0.01M421.8,151.26h0.01M440.79,151.95h0.01M457.73,150.71h0.01M455.05,159.88h0.01M444.2,151.58h0.01M438.66,147.83h0.01M455.03,146.7h0.01M440.92,157.46h0.01M427.56,147.72h0.01M459.59,137.08h0.01M437.97,157.23h0.01M445.86,154.98h0.01M420.56,157.58h0.01M449.59,156.06h0.01M466.52,155.34h0.01M436.06,148.29h0.01M451.11,140.31h0.01M445.93,141.23h0.01M444.14,155.26h0.01M442.84,157.83h0.01M429.76,153.21h0.01M458.65,148.43h0.01M456.74,156.85h0.01M448.39,152.87h0.01M466.79,150.86h0.01M442.5,146.01h0.01M450.64,146.99h0.01M470.22,155.34h0.01M461.61,162.78h0.01M442.01,163.61h0.01M458.3,151.95h0.01M451.67,155.75h0.01M435.13,152.53h0.01M445.17,153.97h0.01M418.53,155.55h0.01M421.26,158.5h0.01M446.03,146.22h0.01M463.14,163.69h0.01M429.57,152.32h0.01M460.17,147.2h0.01M445.46,166.96h0.01M468.55,147.74h0.01M438.36,152.86h0.01M449.72,160.17h0.01M440.08,137.01h0.01M446.95,155.11h0.01M417.7,143.55h0.01M448.28,162.42h0.01M438.94,165.68h0.01M450.45,158.26h0.01M438.84,148.41h0.01" stroke="#d3302a" stroke-width="0.84" stroke-linecap="round" stroke-opacity="0.3" fill="none"/>
<ellipse cx="437" cy="154" rx="10.5" ry="4.3" fill="#c92a26" fill-opacity="0.85" filter="url(#bl10)"/>
<ellipse cx="451" cy="154.5" rx="8" ry="3.3" fill="#d3302a" fill-opacity="0.55" filter="url(#bl10)"/>
<path d="M439.88,154.27h0.01M435.49,159.1h0.01M448.39,147.38h0.01M428.79,150.88h0.01M436.06,152.69h0.01M437.73,155.35h0.01M438.97,153.07h0.01M445.84,152.17h0.01M437.06,155.09h0.01M430.35,152.92h0.01M428.26,154.62h0.01M437.07,156.3h0.01M441.35,156.51h0.01M444.84,150.01h0.01M442.43,152.11h0.01M428.43,155.14h0.01M442.07,153.55h0.01M433.44,152.04h0.01M447.2,155.56h0.01M435.95,154.24h0.01M436.12,155.18h0.01M434.19,156.31h0.01M444.96,153.05h0.01M437.32,156.64h0.01M457.36,154.48h0.01M446.28,154.7h0.01M429.91,156.65h0.01M437.86,149.91h0.01M445.43,149.8h0.01M443.68,151.1h0.01M442.41,156.22h0.01M439.86,154.33h0.01M427.34,152.61h0.01M427.63,151.37h0.01M443.8,149.68h0.01M433.72,154.77h0.01M438.28,153.96h0.01M442.62,154.99h0.01M424.92,156.34h0.01M424.91,154.74h0.01M441.88,157.47h0.01M434.04,152.98h0.01M435.69,157.85h0.01M446.1,155.1h0.01M436.25,152.65h0.01M437.7,154.47h0.01M440.14,159.53h0.01M425.99,150.82h0.01M450.26,152.48h0.01M440.95,152.94h0.01M434.27,154.44h0.01M446.05,154.17h0.01M431.57,158.75h0.01M433.25,153.49h0.01M429.45,155.69h0.01M436.45,152.72h0.01M432.84,151.18h0.01M439.9,153.61h0.01M433.37,153.37h0.01M439.87,155.71h0.01M441.11,157.35h0.01M440.78,152.85h0.01M440.67,156.76h0.01M438.61,151.41h0.01M432.26,158.43h0.01M424.12,150.26h0.01M440.49,152.69h0.01M428.2,154.61h0.01M440.4,153.03h0.01M437.66,151.12h0.01M437.67,155.75h0.01M438.06,151.44h0.01M442.03,156.41h0.01M431.19,150.28h0.01M440.22,156.59h0.01M445.56,156.06h0.01M443.53,155.29h0.01M445.74,156.61h0.01M436.06,153.45h0.01M437.43,153.82h0.01M451.11,156.88h0.01M441.54,151.33h0.01M439.82,153.27h0.01M445.01,153.4h0.01M431.91,153.37h0.01M437.08,153.24h0.01M441.09,147.76h0.01M437.59,153.89h0.01M448.58,154.62h0.01M441.07,157.06h0.01M444.19,155.92h0.01M432.24,152.41h0.01M437.94,153.22h0.01M437.83,151.54h0.01M441.65,152.99h0.01M441.43,152.36h0.01M438.03,156.66h0.01M442.08,154.87h0.01M452.66,155.41h0.01M438.24,152.96h0.01M433.47,153.51h0.01M446.47,155.2h0.01M448.41,151.89h0.01M439.35,155.22h0.01M444.79,156.11h0.01M423.78,152.44h0.01M441.37,153.9h0.01M436.79,151.75h0.01M453.46,158.11h0.01M439.69,155.06h0.01M450.91,156.69h0.01M436.81,153.38h0.01M436.17,151.72h0.01M434.37,153.71h0.01M429.93,157.45h0.01M434.14,158.07h0.01M445.8,155.94h0.01M427.44,153.93h0.01M438.77,155h0.01M445.88,156.72h0.01M439.9,151.39h0.01M441.75,156.24h0.01M440.53,151.93h0.01M441.75,154.67h0.01M424.79,155.86h0.01M448.6,154.73h0.01M440.65,154.27h0.01M434.3,157.29h0.01M436.09,153.02h0.01M437.19,153.15h0.01M442.9,151.69h0.01M429.96,154.51h0.01M429.42,155.94h0.01M429.05,153.76h0.01M444.44,149.22h0.01M431.84,155.15h0.01M439.05,155.63h0.01M430.23,151.88h0.01M437.74,153.45h0.01M434.75,154.11h0.01M433.1,152.09h0.01M446.05,154.71h0.01M438.92,154.25h0.01M431.57,151.12h0.01M454.9,147.09h0.01M431.69,151.69h0.01M430.07,157.58h0.01M426.55,157.05h0.01M449.47,153.22h0.01M439.68,151.32h0.01M440.59,157.66h0.01M445.92,155.78h0.01M439.14,157.16h0.01M443.3,158.69h0.01M449.96,155.13h0.01M440.06,154.23h0.01M443.93,152.09h0.01M439.77,154.38h0.01M439.33,151.51h0.01M448.27,156.71h0.01M442.41,153.46h0.01M440.28,158h0.01M425.17,153.15h0.01M432.14,155.12h0.01M433.56,152.04h0.01M438.23,156.23h0.01M440.97,151.93h0.01M439.46,157.3h0.01M437.24,155.4h0.01M440.76,149.36h0.01M440.84,150.52h0.01M444.59,154.62h0.01M426.01,153.87h0.01M445.45,159.06h0.01M451.96,151.77h0.01M446.29,153.48h0.01M435.37,154.01h0.01M432.1,154.6h0.01M437.93,158.38h0.01M447.71,153.79h0.01M440.26,149.98h0.01M424.35,158.01h0.01M415.36,155.09h0.01M439.74,150.25h0.01M454.86,152.33h0.01M427.2,153.23h0.01M433.84,154.34h0.01M438.36,156.06h0.01M440.35,153.41h0.01M444.27,152.7h0.01M427.05,151.56h0.01M438.88,153.6h0.01M433.53,154.21h0.01M443.88,155.2h0.01M440.77,148.54h0.01M445.83,151.77h0.01M429.51,155.23h0.01M430.27,158.31h0.01M433.05,156.32h0.01M434.71,148.22h0.01M433,149.1h0.01M429.21,155.45h0.01M433.89,154.12h0.01M426.6,154.17h0.01M444.84,159.03h0.01M434.5,151.32h0.01M429.04,157.08h0.01M439.11,154.29h0.01M426.64,152.51h0.01M440.43,148.71h0.01M435.41,151.03h0.01M449.95,157.88h0.01M441.62,154.24h0.01M432.41,156.06h0.01M444.08,155.49h0.01M438.72,153.61h0.01M442.48,156.15h0.01M416.35,154.82h0.01M434.67,153.54h0.01M434.71,153.2h0.01M446.81,152.16h0.01M430.28,154.74h0.01M440.26,153.54h0.01M436.61,156.84h0.01M428.15,153.22h0.01M433.85,151.7h0.01M441.61,149.27h0.01M436.39,155.94h0.01M436.58,160.36h0.01M437.25,153.92h0.01M438.4,148.37h0.01M439.97,156.38h0.01M437.22,152.31h0.01M427.48,155.78h0.01M436.27,154.94h0.01M438.36,155.83h0.01M449.2,154.32h0.01M430.73,153.32h0.01M448.66,156.74h0.01M433.95,153.27h0.01M448.85,157h0.01M423.36,152.49h0.01M435.73,154.39h0.01M421.3,152.11h0.01M427.54,156.38h0.01M434.58,152.29h0.01M441.01,151.93h0.01M432.22,156.42h0.01M439.34,154.87h0.01M431.88,153.79h0.01M448.86,151.48h0.01M433.56,153.88h0.01M451.34,155.01h0.01M450.21,155.69h0.01M431.28,152.2h0.01M441.3,155.27h0.01M434.39,149.17h0.01M447.87,154.15h0.01M439.9,151.68h0.01M450.37,155.8h0.01M436.35,152.9h0.01M435.56,159.82h0.01M432.19,154.38h0.01M438.55,154.8h0.01M440.54,148.23h0.01M438.1,150.46h0.01M439.73,156.56h0.01M442.91,152.25h0.01M437.11,156.8h0.01M433.15,152.16h0.01M430.63,155.51h0.01M433.72,151.92h0.01M435.3,155.06h0.01M444.76,155.67h0.01M444.07,156.24h0.01M432.61,152.08h0.01M441.85,150.66h0.01M431.37,155.37h0.01M443.51,154.53h0.01M426.41,155.66h0.01M444.56,150.88h0.01M436.46,155.85h0.01M439.42,153.53h0.01M436.98,151.23h0.01M430.39,152.81h0.01M438.62,156.3h0.01M437.82,154.39h0.01M443.04,154.34h0.01M442.12,154.19h0.01M446.38,152.98h0.01M441.66,157.09h0.01M429.81,154.04h0.01M443.23,150.3h0.01M429.39,150.31h0.01M432.79,152.57h0.01M438.27,153.01h0.01M431.98,155.84h0.01M435.06,147.34h0.01M444.86,155.93h0.01M433.55,156.98h0.01M431.54,152.77h0.01M428.8,157.18h0.01M457.59,152.25h0.01M434.7,153.57h0.01M438.08,152.72h0.01M438.17,158.08h0.01M445.64,156.94h0.01M433.87,156.8h0.01M431.57,151.08h0.01M435.19,154.25h0.01M432.4,151.08h0.01M427.85,154.4h0.01M424.74,155.44h0.01M438.15,157.53h0.01M434.91,153.64h0.01M447.59,154.6h0.01M434.24,153.65h0.01M435.36,151.26h0.01M446.34,158.28h0.01M426.09,155h0.01M443.34,157.73h0.01M432.09,156.18h0.01M429.92,150.74h0.01M440.47,152.41h0.01M438.71,155.78h0.01M429.93,156.22h0.01M439.59,155.79h0.01M448.69,154.03h0.01M443.59,156.24h0.01M438.7,151.48h0.01M434,153.38h0.01M437.27,151.03h0.01M441.2,156.58h0.01M436.32,154.98h0.01M441.07,155.83h0.01M444.68,153.33h0.01M427.54,147.44h0.01M439.06,151.96h0.01M441.39,154.4h0.01M436.02,154.14h0.01M433.38,156.38h0.01M448.4,156.9h0.01M437.28,152.55h0.01M437.27,156.04h0.01M434.11,149.52h0.01M435.79,155.73h0.01M435.78,148.53h0.01M437.17,155.31h0.01M427.44,148.09h0.01M426.64,155.28h0.01M433.52,158.14h0.01M435.49,153.56h0.01M433.84,155.83h0.01M442.81,156.89h0.01M437.61,147h0.01M442.85,148.98h0.01M439.43,154.05h0.01M422.26,151.15h0.01M441.15,152.94h0.01M447.92,161.11h0.01M438.87,158.86h0.01M437.41,155.71h0.01M429.82,152.26h0.01M439.52,155.46h0.01M430.62,154.96h0.01M425.66,153.62h0.01M439.41,158.38h0.01M443.63,149.04h0.01M435.85,158.2h0.01M436.63,152.95h0.01M433.15,157.5h0.01M448.95,153.71h0.01M440.48,152.55h0.01M435.45,152.3h0.01M435.75,154.74h0.01M438.76,154.99h0.01M445.46,162.03h0.01M434.04,158.26h0.01M431.65,153.96h0.01M439.97,150.87h0.01M436.93,154.33h0.01M427.58,155.6h0.01M436.91,149.6h0.01M435.61,154.1h0.01M434.95,157.49h0.01M438.8,152.86h0.01M439.42,149.85h0.01M449.44,156.09h0.01M442.12,158.35h0.01M443.61,153.55h0.01M434.64,154.54h0.01M437.8,157.2h0.01M433.12,155.54h0.01M432.95,152.28h0.01M443.56,153.21h0.01M452.86,153.9h0.01M442.62,154.13h0.01M440.6,157.22h0.01M441.48,151.41h0.01M443.32,155.17h0.01M437.24,153.72h0.01M437.36,148.63h0.01M442.12,156.07h0.01M448.93,154.5h0.01M438.34,150.7h0.01M426.27,149.41h0.01M443.21,156.62h0.01M439.19,158.59h0.01M432.3,154.36h0.01M432,153.53h0.01M415.82,156.05h0.01M432.42,152.38h0.01M436.26,152.74h0.01M441.32,156.65h0.01M437.41,151.08h0.01M430.92,157.17h0.01M434.92,154.91h0.01M438.09,157.6h0.01M441.86,149.19h0.01M439.79,157.57h0.01M443.7,153.87h0.01M424.47,155.81h0.01M439.21,151.95h0.01M439.81,151.39h0.01M431.26,157.19h0.01M439.22,155.4h0.01M434.22,155.59h0.01M429.39,155.95h0.01M428.85,155.75h0.01M441.57,149.92h0.01M441.86,153.31h0.01M445.41,153.22h0.01M443.06,159.49h0.01M441.23,157.7h0.01M430.46,151.78h0.01M436.49,150.17h0.01M435.99,156.05h0.01M451.85,155.68h0.01M431.87,157.82h0.01M428.96,151.07h0.01M430.94,158.6h0.01M444.9,154.68h0.01M433.51,157.6h0.01M443.01,154.91h0.01M434.38,153.05h0.01M445.09,152.05h0.01M427.24,157.81h0.01M434.82,145.58h0.01M442.07,157.07h0.01M436.32,156.01h0.01M431.7,152.31h0.01M447.89,156.22h0.01M428.18,153.82h0.01M432.03,150.69h0.01M445.82,153.38h0.01M449.78,155.71h0.01M437.89,154.26h0.01M429.22,152.09h0.01M429.05,155.96h0.01M431.96,156.1h0.01M437.3,157.38h0.01M447.2,154.7h0.01M444.23,158.13h0.01M444.62,152.2h0.01M434.5,152.93h0.01M443.11,150.27h0.01M443.49,153.9h0.01M443.83,154.23h0.01M437.85,153.99h0.01M435.14,150.63h0.01M445.68,156.77h0.01M448.86,149.51h0.01M436.44,151.52h0.01M440.45,146.11h0.01M445.58,156.82h0.01M448.59,156.16h0.01M450.21,153.5h0.01M438.26,154.9h0.01M446.87,150.69h0.01M429.74,151.11h0.01M422.82,151.39h0.01M435.07,154.86h0.01M440.47,152.96h0.01M427.62,154.47h0.01M437.01,151.14h0.01M439.25,150.38h0.01M437.88,155.14h0.01M439.91,154.78h0.01M445.79,155.18h0.01M436.22,152.3h0.01M434.82,154.73h0.01M441.8,149.83h0.01M445.4,151.07h0.01M435.01,154.88h0.01M447.46,151.46h0.01M443.15,150.72h0.01M435.39,151.48h0.01M437.79,158.47h0.01M432.57,152.86h0.01M442.75,154.84h0.01" stroke="#d3302a" stroke-width="0.9" stroke-linecap="round" stroke-opacity="0.5" fill="none"/>
<path d="M451.19,155.74h0.01M464.59,152.22h0.01M451.53,153.12h0.01M457.52,151.37h0.01M456.98,156.26h0.01M454.35,156.43h0.01M452.21,155.19h0.01M444.31,155.95h0.01M455.08,153.35h0.01M463.46,153.47h0.01M455,156.89h0.01M462.76,153.4h0.01M455.97,156.49h0.01M457.01,157.88h0.01M449.82,151.78h0.01M451.59,152.37h0.01M454.76,157.97h0.01M458.11,156.44h0.01M446.97,157.68h0.01M444.88,157.96h0.01M451.69,153.66h0.01M451.69,158.7h0.01M454.67,157.33h0.01M461.09,156.56h0.01M449.36,155.05h0.01M461.92,153.57h0.01M455.2,152.68h0.01M452.4,151.22h0.01M443.58,152.51h0.01M459.96,152.67h0.01M461.43,154.76h0.01M454.75,152.82h0.01M454.9,150.51h0.01M450.06,154.71h0.01M442.29,149.88h0.01M448.12,153.59h0.01M444.74,155.82h0.01M445.12,150.99h0.01M447.83,151.7h0.01M449.17,154.2h0.01M454.79,157.24h0.01M458.88,154.05h0.01M451.02,153.35h0.01M456.23,154.9h0.01M450.31,150.51h0.01M450.51,151.02h0.01M453.85,155.82h0.01M448.85,156.07h0.01M453.34,155.62h0.01M449.56,154.62h0.01M447.58,155.31h0.01M448.6,150.49h0.01M459.85,151.94h0.01M453.3,153.46h0.01M449.68,156.44h0.01M452.91,154.75h0.01M448.09,154.4h0.01M449.57,151.87h0.01M450.14,154.61h0.01M443.37,155.17h0.01M451.11,155.6h0.01M454.18,154.06h0.01M453.34,158.82h0.01M451.2,151.82h0.01M457.36,156.33h0.01M447.74,151.57h0.01M457.61,151.58h0.01M456.92,155.95h0.01M452.99,153.51h0.01M459.68,152.73h0.01M447.92,154.48h0.01M453.22,160h0.01M451.21,153.08h0.01M448.04,153.68h0.01M450.32,157.12h0.01M454.01,153.19h0.01M454,159.69h0.01M455.16,151.62h0.01M448.58,153.96h0.01M451.44,156.59h0.01M451.37,153.94h0.01M448.62,153.35h0.01M451.89,151.34h0.01M441.16,154.15h0.01M446.05,156.32h0.01M449.41,153.85h0.01M450.03,152.26h0.01M455.2,157.36h0.01M449.12,156.3h0.01M460.43,155.7h0.01M444.52,153.95h0.01M461.2,152.54h0.01M447.13,156.94h0.01M446.14,154.57h0.01M448.15,153.59h0.01M448.77,154.02h0.01M450.41,155.27h0.01M449.57,156.27h0.01M454.19,154.37h0.01M455.81,153.58h0.01M446.55,151.93h0.01M458.1,153.8h0.01M453.14,153.94h0.01M451.9,155.11h0.01M456.15,154.36h0.01M451.42,153.23h0.01M459.14,154.15h0.01M445.81,155.76h0.01M458,154.18h0.01M449.51,154.02h0.01M455.58,153.86h0.01M449.65,153.67h0.01M460.26,155.15h0.01M453.84,155.75h0.01M455.68,153.77h0.01M446.58,153.99h0.01M444.48,155.25h0.01M453.13,156.05h0.01M459.54,157.4h0.01M452.75,151.5h0.01M444.56,156.26h0.01M460.47,153.35h0.01M449.36,155.76h0.01M455.74,156.4h0.01M447.83,158.42h0.01M448.36,153.32h0.01M453.38,156.63h0.01M438.7,149.14h0.01M446.91,154.53h0.01M449.78,149.63h0.01M449.83,152.86h0.01M443.7,151.97h0.01M457.36,151.25h0.01M450.71,154.36h0.01M450.94,152.02h0.01M442.28,151.89h0.01M451.28,152.67h0.01M454.94,153.25h0.01M455.96,155.51h0.01M454.68,153.42h0.01M451.28,152.37h0.01M450.48,150.68h0.01M452.52,155.64h0.01M454.95,155h0.01M450.47,155.73h0.01M450.52,152.92h0.01M453.52,157h0.01M450.33,155.59h0.01M452.88,159.32h0.01M452.25,153.59h0.01M446.99,156.21h0.01M459.06,157.91h0.01M454.92,153.88h0.01M447.06,154.34h0.01M446.81,153.31h0.01M449.14,153.8h0.01M448.58,156.14h0.01M446.65,154.84h0.01M452.61,152.11h0.01M449.9,159.76h0.01M446.79,152.85h0.01M459.09,156.93h0.01M449.77,154.53h0.01M453.07,155.9h0.01M444.85,155.68h0.01M445.99,156.18h0.01M446.44,156.17h0.01M456.06,158.19h0.01M455.01,152.97h0.01M450.27,151.59h0.01M449.95,150.83h0.01M453.04,150h0.01M447.14,155.53h0.01M450.21,150.63h0.01M456.1,150.93h0.01M446.98,154.95h0.01M454.6,153.8h0.01M450.9,154.62h0.01M452.31,148.57h0.01M450.66,151.62h0.01M455.6,151.05h0.01M455.69,154.33h0.01M454.1,154.29h0.01M443.34,155.25h0.01M452,157.04h0.01M457.23,161.93h0.01M446.4,153.23h0.01M443.82,155.9h0.01M450.3,156.36h0.01M455.37,154.15h0.01M445.1,152.22h0.01M453.03,156.27h0.01M449.97,156.34h0.01M451.19,155.61h0.01M453.39,152.82h0.01M450.5,149.54h0.01M448.58,152.13h0.01M452.21,157.02h0.01M459,157h0.01M454.36,152.18h0.01" stroke="#d3302a" stroke-width="0.9" stroke-linecap="round" stroke-opacity="0.45" fill="none"/>
<path d="M464.83,160.45h0.01M466.49,159.17h0.01M466.54,159.05h0.01M462.96,158.88h0.01M464.14,154.82h0.01M464.33,158.13h0.01M462.68,161.62h0.01M467.2,162.4h0.01M461.63,159.08h0.01M465.09,156.6h0.01M466.07,161.09h0.01M465.17,156.58h0.01M465.63,156.02h0.01M460.87,155.1h0.01M464.54,153.49h0.01M464.93,163.24h0.01M464.91,158.67h0.01M462.36,151.47h0.01M464.08,156.52h0.01M463.15,154.31h0.01M466.68,160.67h0.01M463.42,156.9h0.01M464.25,156.64h0.01M464.18,160.09h0.01M464.13,162.5h0.01M467.17,156.57h0.01M466.79,158.34h0.01M465.08,156.04h0.01M463.94,160.76h0.01M463.77,159.07h0.01M461.51,158.77h0.01M464.6,156.43h0.01M464.98,162.14h0.01M464.2,157.71h0.01M463,161.37h0.01M466.37,161.49h0.01M465.71,155.6h0.01M464.74,157.96h0.01M467,159.08h0.01M464.9,155.77h0.01M467.4,158.21h0.01M464.2,159.24h0.01M464.74,154.36h0.01M463.55,157.7h0.01M465.95,159.24h0.01M463.73,157.3h0.01M465.15,156.99h0.01M464.71,154.96h0.01M463.31,158.48h0.01M468.02,158.95h0.01M466.25,158.18h0.01M464.13,161.83h0.01M465.86,158.47h0.01M465.07,157.41h0.01M463.82,162.77h0.01M467.43,160.19h0.01M465.85,161.19h0.01M465.49,161.67h0.01M465.35,157.19h0.01M465.6,156.07h0.01" stroke="#d3302a" stroke-width="0.84" stroke-linecap="round" stroke-opacity="0.6" fill="none"/>
<ellipse cx="464.5" cy="158.5" rx="2.2" ry="2.8" fill="#d3302a" fill-opacity="0.6" filter="url(#bl08)"/>
<ellipse cx="465" cy="151.7" rx="2.4" ry="4.4" fill="#3a55a6" fill-opacity="1" filter="url(#bl06)"/>
<path d="M466.8,152.05h0.01M462.91,153.11h0.01M464.41,151.84h0.01M466.74,150.82h0.01M464.27,154.69h0.01M465.81,152.08h0.01M464.12,151.24h0.01M467.59,151.83h0.01M464.91,151.27h0.01M465.89,150h0.01M463.54,153.01h0.01M465.81,151.22h0.01M465.76,148.82h0.01M464.5,154.16h0.01M465.75,150.94h0.01M464.77,148.33h0.01M465.44,151.56h0.01M464.45,150.06h0.01M464.51,152.17h0.01M463.66,148.91h0.01M465.49,150.73h0.01M464.78,147.82h0.01M464.24,148.44h0.01M466.81,151.91h0.01M465.03,150.34h0.01M464.85,155.28h0.01M464.21,149.94h0.01M466.03,152.07h0.01M465.18,148.65h0.01M464.1,155.2h0.01M464.74,151.77h0.01M465.65,148.05h0.01M465.12,152.23h0.01M466.29,150.51h0.01M466.13,156.78h0.01M467.41,154.27h0.01M464.3,149.83h0.01M464.96,153.37h0.01M464.75,152.83h0.01M464.75,150.85h0.01M465.09,150.91h0.01M464.63,151.08h0.01M466,149.39h0.01M463.67,152.38h0.01M465.07,150.52h0.01M465.7,151.47h0.01M466.11,150.85h0.01M465,149.99h0.01M465.36,156.27h0.01M465.08,152.4h0.01M465.56,153.29h0.01M464.83,158.09h0.01M465.8,151.61h0.01M466.5,150.03h0.01M467.3,147.65h0.01M464.66,148.33h0.01M465.95,153.2h0.01M465.33,148.42h0.01M465.49,146.85h0.01M464.54,151.79h0.01" stroke="#3a55a6" stroke-width="1" stroke-linecap="round" stroke-opacity="0.8" fill="none"/>
<path d="M466.81,160.32h0.01M471.16,160.45h0.01M463.42,160.51h0.01M469.53,163.41h0.01M461.26,163.1h0.01M470.16,162.51h0.01M467.7,161.61h0.01M464.66,160.98h0.01M470.04,162.63h0.01M467.42,163.49h0.01M468.48,163.39h0.01M467.11,164.91h0.01M469.83,165.09h0.01M468.63,161.37h0.01" stroke="#9a88b8" stroke-width="0.9" stroke-linecap="round" stroke-opacity="0.45" fill="none"/>
<path d="M467.01,144.29h0.01M445.62,149.05h0.01M446.85,143.8h0.01M450.07,146.65h0.01M431.09,143.91h0.01M428.36,150.64h0.01M441.14,151.65h0.01M433.81,162.66h0.01M451.49,142.49h0.01M446.27,157.26h0.01M434.05,142.57h0.01M429.03,142.74h0.01M453.82,125.91h0.01M425.71,162.96h0.01M423.04,149.64h0.01M445.5,161.57h0.01M444.13,133.09h0.01M427.77,124.98h0.01M426.6,151.28h0.01M427.13,139.92h0.01M446.05,149.91h0.01M447.9,140.55h0.01M454.69,156.34h0.01M438.2,145.01h0.01M424.06,146.65h0.01M452.89,153.05h0.01M468.82,144.49h0.01M421.96,160.62h0.01M453.74,147.38h0.01M437.97,150.51h0.01M438.3,153.26h0.01M435.45,149.39h0.01M425.57,153.41h0.01M413.19,167.19h0.01M448.04,159.1h0.01M422.1,134.47h0.01" stroke="#d3302a" stroke-width="0.8" stroke-linecap="round" stroke-opacity="0.22" fill="none"/>
<text x="9.6" y="244.5" font-size="12.6" text-anchor="start" font-weight="bold" font-style="normal" fill="#000" textLength="7.9" lengthAdjust="spacingAndGlyphs" stroke="#000" stroke-width="0.5">B</text>
<text x="109.3" y="255" font-size="8.4" text-anchor="middle" font-weight="normal" font-style="normal" fill="#231f20" textLength="24.3" lengthAdjust="spacingAndGlyphs" stroke="#231f20" stroke-width="0.18">3 days</text>
<text x="264.4" y="254.8" font-size="8.4" text-anchor="middle" font-weight="normal" font-style="normal" fill="#231f20" textLength="24.3" lengthAdjust="spacingAndGlyphs" stroke="#231f20" stroke-width="0.18">6 days</text>
<text x="419.1" y="254.9" font-size="8.4" text-anchor="middle" font-weight="normal" font-style="normal" fill="#231f20" textLength="28.5" lengthAdjust="spacingAndGlyphs" stroke="#231f20" stroke-width="0.18">12 days</text>
<text x="70.4" y="266.2" font-size="7" text-anchor="middle" font-weight="normal" font-style="normal" fill="#231f20" textLength="47.8" lengthAdjust="spacingAndGlyphs" stroke="#231f20" stroke-width="0.18">Non-malignant</text>
<text x="148.25" y="266.2" font-size="7" text-anchor="middle" font-weight="normal" font-style="normal" fill="#231f20" textLength="32" lengthAdjust="spacingAndGlyphs" stroke="#231f20" stroke-width="0.18">Malignant</text>
<text x="226.05" y="266.2" font-size="7" text-anchor="middle" font-weight="normal" font-style="normal" fill="#231f20" textLength="47.8" lengthAdjust="spacingAndGlyphs" stroke="#231f20" stroke-width="0.18">Non-malignant</text>
<text x="302.8" y="266.2" font-size="7" text-anchor="middle" font-weight="normal" font-style="normal" fill="#231f20" textLength="32" lengthAdjust="spacingAndGlyphs" stroke="#231f20" stroke-width="0.18">Malignant</text>
<text x="380.2" y="266.2" font-size="7" text-anchor="middle" font-weight="normal" font-style="normal" fill="#231f20" textLength="47.8" lengthAdjust="spacingAndGlyphs" stroke="#231f20" stroke-width="0.18">Non-malignant</text>
<text x="457.7" y="266.2" font-size="7" text-anchor="middle" font-weight="normal" font-style="normal" fill="#231f20" textLength="32" lengthAdjust="spacingAndGlyphs" stroke="#231f20" stroke-width="0.18">Malignant</text>
<path d="M48.8,316.5 C48.8,316.47 48.52,318.22 48.8,316.3 C49.08,314.38 50.05,309.05 50.5,305 C50.95,300.95 51.18,295.42 51.5,292 C51.82,288.58 52.08,284.5 52.4,284.5 C52.72,284.5 53.1,288.92 53.4,292 C53.7,295.08 53.97,299.93 54.2,303 C54.43,306.07 54.5,308.82 54.8,310.4 C55.1,311.98 55.58,312.1 56,312.5 C56.42,312.9 56.88,312.55 57.3,312.8 C57.72,313.05 58.02,313.62 58.5,314 C58.98,314.38 59.47,314.72 60.2,315.1 C60.93,315.48 62.45,316.07 62.9,316.3 C63.35,316.53 62.9,316.47 62.9,316.5 Z" fill="#6a64ab" fill-opacity="0.9" stroke="none"/>
<path d="M37.2,316.5 L48.8,316.5 L48.8,316.5 C48.8,316.47 48.52,318.22 48.8,316.3 C49.08,314.38 50.05,309.05 50.5,305 C50.95,300.95 51.18,295.42 51.5,292 C51.82,288.58 52.08,284.5 52.4,284.5 C52.72,284.5 53.1,288.92 53.4,292 C53.7,295.08 53.97,299.93 54.2,303 C54.43,306.07 54.5,308.82 54.8,310.4 C55.1,311.98 55.58,312.1 56,312.5 C56.42,312.9 56.88,312.55 57.3,312.8 C57.72,313.05 58.02,313.62 58.5,314 C58.98,314.38 59.47,314.72 60.2,315.1 C60.93,315.48 62.45,316.07 62.9,316.3 C63.35,316.53 62.9,316.47 62.9,316.5 L103.6,316.5" fill="none" stroke="#33429a" stroke-width="1.3" stroke-linejoin="round"/>
<path d="M49.2,337 C49.42,335 50.13,329.5 50.5,325 C50.87,320.5 51.12,313.83 51.4,310 C51.68,306.17 51.93,302.33 52.2,302 C52.47,301.67 52.7,305 53,308 C53.3,311 53.7,316.47 54,320 C54.3,323.53 54.43,326.77 54.8,329.2 C55.17,331.63 55.67,333.57 56.2,334.6 C56.73,335.63 57.2,335.25 58,335.4 C58.8,335.55 59.95,335.48 61,335.5 C62.05,335.52 63.22,335.58 64.3,335.5 C65.38,335.42 66.38,335.2 67.5,335 C68.62,334.8 70,334.5 71,334.3 C72,334.1 72.6,333.97 73.5,333.8 C74.4,333.63 75.57,333.47 76.4,333.3 C77.23,333.13 77.83,332.98 78.5,332.8 C79.17,332.62 79.75,332.47 80.4,332.2 C81.05,331.93 81.72,331.13 82.4,331.2 C83.08,331.27 83.85,332.8 84.5,332.6 C85.15,332.4 85.68,330.68 86.3,330 C86.92,329.32 87.7,328.42 88.2,328.5 C88.7,328.58 88.92,329.82 89.3,330.5 C89.68,331.18 89.97,331.85 90.5,332.6 C91.03,333.35 91.72,334.27 92.5,335 C93.28,335.73 94.75,336.67 95.2,337 Z" fill="#da7556" fill-opacity="0.9" stroke="none"/>
<path d="M37.2,337 L49.2,337 L49.2,337 C49.42,335 50.13,329.5 50.5,325 C50.87,320.5 51.12,313.83 51.4,310 C51.68,306.17 51.93,302.33 52.2,302 C52.47,301.67 52.7,305 53,308 C53.3,311 53.7,316.47 54,320 C54.3,323.53 54.43,326.77 54.8,329.2 C55.17,331.63 55.67,333.57 56.2,334.6 C56.73,335.63 57.2,335.25 58,335.4 C58.8,335.55 59.95,335.48 61,335.5 C62.05,335.52 63.22,335.58 64.3,335.5 C65.38,335.42 66.38,335.2 67.5,335 C68.62,334.8 70,334.5 71,334.3 C72,334.1 72.6,333.97 73.5,333.8 C74.4,333.63 75.57,333.47 76.4,333.3 C77.23,333.13 77.83,332.98 78.5,332.8 C79.17,332.62 79.75,332.47 80.4,332.2 C81.05,331.93 81.72,331.13 82.4,331.2 C83.08,331.27 83.85,332.8 84.5,332.6 C85.15,332.4 85.68,330.68 86.3,330 C86.92,329.32 87.7,328.42 88.2,328.5 C88.7,328.58 88.92,329.82 89.3,330.5 C89.68,331.18 89.97,331.85 90.5,332.6 C91.03,333.35 91.72,334.27 92.5,335 C93.28,335.73 94.75,336.67 95.2,337 L103.6,337" fill="none" stroke="#cf1f18" stroke-width="1.4" stroke-linejoin="round"/>
<rect x="37.2" y="271.5" width="66.4" height="66.3" fill="none" stroke="#000" stroke-width="1.3"/>
<path d="M38.5,338.4 v2.7 M42.5,338.4 v2.7 M45.5,338.4 v2.7 M47.5,338.4 v2.7 M49.5,338.4 v2.7 M54.5,338.4 v2.7 M57.5,338.4 v2.7 M59.5,338.4 v2.7 M64.5,338.4 v2.7 M66.5,338.4 v2.7 M68.5,338.4 v2.7 M71.5,338.4 v2.7 M73.5,338.4 v2.7 M75.5,338.4 v2.7 M80.5,338.4 v2.7 M82.5,338.4 v2.7 M85.5,338.4 v2.7 M87.5,338.4 v2.7 M89.5,338.4 v2.7 M92.5,338.4 v2.7 M96.5,338.4 v2.7 M99.5,338.4 v2.7 M101.5,338.4 v2.7 M41.5,338.4 v3.5 M51.5,338.4 v3.5 M62.5,338.4 v3.5 M78.5,338.4 v3.5 M95.5,338.4 v3.5 " stroke="#000" stroke-width="0.9" fill="none"/>
<text x="35.1" y="350.3" font-size="7.3" text-anchor="start" font-weight="normal" font-style="normal" fill="#231f20" textLength="9.2" lengthAdjust="spacingAndGlyphs" stroke="#231f20" stroke-width="0.25">-10</text>
<text x="44.7" y="346.5" font-size="4.4" text-anchor="start" font-weight="normal" font-style="normal" fill="#231f20" textLength="2.4" lengthAdjust="spacingAndGlyphs" stroke="#231f20" stroke-width="0.3">3</text>
<text x="49.8" y="350.3" font-size="7.3" text-anchor="start" font-weight="normal" font-style="normal" fill="#231f20" textLength="3.9" lengthAdjust="spacingAndGlyphs" stroke="#231f20" stroke-width="0.25">0</text>
<text x="58.5" y="350.3" font-size="7.3" text-anchor="start" font-weight="normal" font-style="normal" fill="#231f20" textLength="7.1" lengthAdjust="spacingAndGlyphs" stroke="#231f20" stroke-width="0.25">10</text>
<text x="66" y="346.5" font-size="4.4" text-anchor="start" font-weight="normal" font-style="normal" fill="#231f20" textLength="2.4" lengthAdjust="spacingAndGlyphs" stroke="#231f20" stroke-width="0.3">3</text>
<text x="76.6" y="350.3" font-size="7.3" text-anchor="start" font-weight="normal" font-style="normal" fill="#231f20" textLength="7.1" lengthAdjust="spacingAndGlyphs" stroke="#231f20" stroke-width="0.25">10</text>
<text x="84.1" y="346.5" font-size="4.4" text-anchor="start" font-weight="normal" font-style="normal" fill="#231f20" textLength="2.4" lengthAdjust="spacingAndGlyphs" stroke="#231f20" stroke-width="0.3">4</text>
<text x="92.8" y="350.3" font-size="7.3" text-anchor="start" font-weight="normal" font-style="normal" fill="#231f20" textLength="7.1" lengthAdjust="spacingAndGlyphs" stroke="#231f20" stroke-width="0.25">10</text>
<text x="100.3" y="346.5" font-size="4.4" text-anchor="start" font-weight="normal" font-style="normal" fill="#231f20" textLength="2.4" lengthAdjust="spacingAndGlyphs" stroke="#231f20" stroke-width="0.3">5</text>
<path d="M126.55,316.5 C126.55,316.39 126.45,316.13 126.55,315.84 C126.65,315.56 126.94,315.4 127.13,314.79 C127.32,314.17 127.51,313.48 127.71,312.15 C127.9,310.82 128.09,309.13 128.29,306.82 C128.48,304.51 128.67,301.45 128.86,298.27 C129.06,295.1 129.25,291.03 129.44,287.77 C129.64,284.51 129.83,280.83 130.02,278.72 C130.21,276.6 130.41,275.1 130.6,275.1 C130.79,275.1 130.99,276.6 131.18,278.72 C131.37,280.83 131.56,284.51 131.76,287.77 C131.95,291.03 132.14,295.1 132.34,298.27 C132.53,301.45 132.72,304.51 132.91,306.82 C133.11,309.13 133.3,310.82 133.49,312.15 C133.69,313.48 133.88,314.17 134.07,314.79 C134.26,315.4 134.55,315.56 134.65,315.84 C134.75,316.13 134.65,316.39 134.65,316.5 Z" fill="#6a64ab" fill-opacity="0.9" stroke="none"/>
<path d="M114.8,316.5 L126.55,316.5 L126.55,316.5 C126.55,316.39 126.45,316.13 126.55,315.84 C126.65,315.56 126.94,315.4 127.13,314.79 C127.32,314.17 127.51,313.48 127.71,312.15 C127.9,310.82 128.09,309.13 128.29,306.82 C128.48,304.51 128.67,301.45 128.86,298.27 C129.06,295.1 129.25,291.03 129.44,287.77 C129.64,284.51 129.83,280.83 130.02,278.72 C130.21,276.6 130.41,275.1 130.6,275.1 C130.79,275.1 130.99,276.6 131.18,278.72 C131.37,280.83 131.56,284.51 131.76,287.77 C131.95,291.03 132.14,295.1 132.34,298.27 C132.53,301.45 132.72,304.51 132.91,306.82 C133.11,309.13 133.3,310.82 133.49,312.15 C133.69,313.48 133.88,314.17 134.07,314.79 C134.26,315.4 134.55,315.56 134.65,315.84 C134.75,316.13 134.65,316.39 134.65,316.5 L181.7,316.5" fill="none" stroke="#33429a" stroke-width="1.3" stroke-linejoin="round"/>
<path d="M126.8,337 C127.05,335 127.85,330.33 128.3,325 C128.75,319.67 129.15,309.68 129.5,305 C129.85,300.32 130.07,296.9 130.4,296.9 C130.73,296.9 131.1,300.82 131.5,305 C131.9,309.18 132.35,317.83 132.8,322 C133.25,326.17 133.75,328.12 134.2,330 C134.65,331.88 134.87,332.47 135.5,333.3 C136.13,334.13 136.42,334.63 138,335 C139.58,335.37 142.17,335.42 145,335.5 C147.83,335.58 152.32,335.48 155,335.5 C157.68,335.52 159.42,335.35 161.1,335.6 C162.78,335.85 164.43,336.77 165.1,337 Z" fill="#da7556" fill-opacity="0.9" stroke="none"/>
<path d="M114.8,337 L126.8,337 L126.8,337 C127.05,335 127.85,330.33 128.3,325 C128.75,319.67 129.15,309.68 129.5,305 C129.85,300.32 130.07,296.9 130.4,296.9 C130.73,296.9 131.1,300.82 131.5,305 C131.9,309.18 132.35,317.83 132.8,322 C133.25,326.17 133.75,328.12 134.2,330 C134.65,331.88 134.87,332.47 135.5,333.3 C136.13,334.13 136.42,334.63 138,335 C139.58,335.37 142.17,335.42 145,335.5 C147.83,335.58 152.32,335.48 155,335.5 C157.68,335.52 159.42,335.35 161.1,335.6 C162.78,335.85 164.43,336.77 165.1,337 L181.7,337" fill="none" stroke="#cf1f18" stroke-width="1.4" stroke-linejoin="round"/>
<rect x="114.8" y="271.5" width="66.9" height="66.3" fill="none" stroke="#000" stroke-width="1.3"/>
<path d="M115.5,338.4 v2.7 M120.5,338.4 v2.7 M122.5,338.4 v2.7 M125.5,338.4 v2.7 M127.5,338.4 v2.7 M132.5,338.4 v2.7 M134.5,338.4 v2.7 M136.5,338.4 v2.7 M141.5,338.4 v2.7 M143.5,338.4 v2.7 M146.5,338.4 v2.7 M148.5,338.4 v2.7 M151.5,338.4 v2.7 M153.5,338.4 v2.7 M158.5,338.4 v2.7 M160.5,338.4 v2.7 M162.5,338.4 v2.7 M165.5,338.4 v2.7 M167.5,338.4 v2.7 M169.5,338.4 v2.7 M174.5,338.4 v2.7 M176.5,338.4 v2.7 M179.5,338.4 v2.7 M118.5,338.4 v3.5 M129.5,338.4 v3.5 M140.5,338.4 v3.5 M156.5,338.4 v3.5 M172.5,338.4 v3.5 " stroke="#000" stroke-width="0.9" fill="none"/>
<text x="112.7" y="350.3" font-size="7.3" text-anchor="start" font-weight="normal" font-style="normal" fill="#231f20" textLength="9.2" lengthAdjust="spacingAndGlyphs" stroke="#231f20" stroke-width="0.25">-10</text>
<text x="122.3" y="346.5" font-size="4.4" text-anchor="start" font-weight="normal" font-style="normal" fill="#231f20" textLength="2.4" lengthAdjust="spacingAndGlyphs" stroke="#231f20" stroke-width="0.3">3</text>
<text x="127.4" y="350.3" font-size="7.3" text-anchor="start" font-weight="normal" font-style="normal" fill="#231f20" textLength="3.9" lengthAdjust="spacingAndGlyphs" stroke="#231f20" stroke-width="0.25">0</text>
<text x="136.1" y="350.3" font-size="7.3" text-anchor="start" font-weight="normal" font-style="normal" fill="#231f20" textLength="7.1" lengthAdjust="spacingAndGlyphs" stroke="#231f20" stroke-width="0.25">10</text>
<text x="143.6" y="346.5" font-size="4.4" text-anchor="start" font-weight="normal" font-style="normal" fill="#231f20" textLength="2.4" lengthAdjust="spacingAndGlyphs" stroke="#231f20" stroke-width="0.3">3</text>
<text x="154.2" y="350.3" font-size="7.3" text-anchor="start" font-weight="normal" font-style="normal" fill="#231f20" textLength="7.1" lengthAdjust="spacingAndGlyphs" stroke="#231f20" stroke-width="0.25">10</text>
<text x="161.7" y="346.5" font-size="4.4" text-anchor="start" font-weight="normal" font-style="normal" fill="#231f20" textLength="2.4" lengthAdjust="spacingAndGlyphs" stroke="#231f20" stroke-width="0.3">4</text>
<text x="170.4" y="350.3" font-size="7.3" text-anchor="start" font-weight="normal" font-style="normal" fill="#231f20" textLength="7.1" lengthAdjust="spacingAndGlyphs" stroke="#231f20" stroke-width="0.25">10</text>
<text x="177.9" y="346.5" font-size="4.4" text-anchor="start" font-weight="normal" font-style="normal" fill="#231f20" textLength="2.4" lengthAdjust="spacingAndGlyphs" stroke="#231f20" stroke-width="0.3">5</text>
<path d="M205.1,316.5 C205.1,316.47 204.87,318.22 205.1,316.3 C205.33,314.38 206.08,309.05 206.5,305 C206.92,300.95 207.25,295.07 207.6,292 C207.95,288.93 208.27,286.6 208.6,286.6 C208.93,286.6 209.32,289.43 209.6,292 C209.88,294.57 210.1,299.05 210.3,302 C210.5,304.95 210.52,308.03 210.8,309.7 C211.08,311.37 211.65,311.48 212,312 C212.35,312.52 212.48,312.47 212.9,312.8 C213.32,313.13 213.95,313.62 214.5,314 C215.05,314.38 215.02,314.72 216.2,315.1 C217.38,315.48 220.7,316.07 221.6,316.3 C222.5,316.53 221.6,316.47 221.6,316.5 Z" fill="#6a64ab" fill-opacity="0.9" stroke="none"/>
<path d="M192.9,316.5 L205.1,316.5 L205.1,316.5 C205.1,316.47 204.87,318.22 205.1,316.3 C205.33,314.38 206.08,309.05 206.5,305 C206.92,300.95 207.25,295.07 207.6,292 C207.95,288.93 208.27,286.6 208.6,286.6 C208.93,286.6 209.32,289.43 209.6,292 C209.88,294.57 210.1,299.05 210.3,302 C210.5,304.95 210.52,308.03 210.8,309.7 C211.08,311.37 211.65,311.48 212,312 C212.35,312.52 212.48,312.47 212.9,312.8 C213.32,313.13 213.95,313.62 214.5,314 C215.05,314.38 215.02,314.72 216.2,315.1 C217.38,315.48 220.7,316.07 221.6,316.3 C222.5,316.53 221.6,316.47 221.6,316.5 L259.2,316.5" fill="none" stroke="#33429a" stroke-width="1.3" stroke-linejoin="round"/>
<path d="M205.5,337 C205.67,336.33 206.18,334.33 206.5,333 C206.82,331.67 207.12,329.85 207.4,329 C207.68,328.15 207.85,328.13 208.2,327.9 C208.55,327.67 209.12,327.45 209.5,327.6 C209.88,327.75 210.17,328.42 210.5,328.8 C210.83,329.18 211,329.95 211.5,329.9 C212,329.85 212.82,328.95 213.5,328.5 C214.18,328.05 214.97,327.78 215.6,327.2 C216.23,326.62 216.75,325.78 217.3,325 C217.85,324.22 218.4,323.33 218.9,322.5 C219.4,321.67 219.85,320.9 220.3,320 C220.75,319.1 221.1,318.18 221.6,317.1 C222.1,316.02 222.73,314.62 223.3,313.5 C223.87,312.38 224.5,311.57 225,310.4 C225.5,309.23 225.85,307.73 226.3,306.5 C226.75,305.27 227.25,304 227.7,303 C228.15,302 228.55,301.07 229,300.5 C229.45,299.93 229.95,299.85 230.4,299.6 C230.85,299.35 231.27,299 231.7,299 C232.13,299 232.62,299.1 233,299.6 C233.38,300.1 233.65,301.1 234,302 C234.35,302.9 234.75,304.83 235.1,305 C235.45,305.17 235.77,303.45 236.1,303 C236.43,302.55 236.77,302.55 237.1,302.3 C237.43,302.05 237.77,301.5 238.1,301.5 C238.43,301.5 238.77,301.72 239.1,302.3 C239.43,302.88 239.77,303.88 240.1,305 C240.43,306.12 240.77,307.92 241.1,309 C241.43,310.08 241.77,310.6 242.1,311.5 C242.43,312.4 242.75,313.15 243.1,314.4 C243.45,315.65 243.85,317.43 244.2,319 C244.55,320.57 244.87,322.22 245.2,323.8 C245.53,325.38 245.87,326.92 246.2,328.5 C246.53,330.08 246.82,332.05 247.2,333.3 C247.58,334.55 248.05,335.38 248.5,336 C248.95,336.62 249.67,336.83 249.9,337 Z" fill="#da7556" fill-opacity="0.9" stroke="none"/>
<path d="M192.9,337 L205.5,337 L205.5,337 C205.67,336.33 206.18,334.33 206.5,333 C206.82,331.67 207.12,329.85 207.4,329 C207.68,328.15 207.85,328.13 208.2,327.9 C208.55,327.67 209.12,327.45 209.5,327.6 C209.88,327.75 210.17,328.42 210.5,328.8 C210.83,329.18 211,329.95 211.5,329.9 C212,329.85 212.82,328.95 213.5,328.5 C214.18,328.05 214.97,327.78 215.6,327.2 C216.23,326.62 216.75,325.78 217.3,325 C217.85,324.22 218.4,323.33 218.9,322.5 C219.4,321.67 219.85,320.9 220.3,320 C220.75,319.1 221.1,318.18 221.6,317.1 C222.1,316.02 222.73,314.62 223.3,313.5 C223.87,312.38 224.5,311.57 225,310.4 C225.5,309.23 225.85,307.73 226.3,306.5 C226.75,305.27 227.25,304 227.7,303 C228.15,302 228.55,301.07 229,300.5 C229.45,299.93 229.95,299.85 230.4,299.6 C230.85,299.35 231.27,299 231.7,299 C232.13,299 232.62,299.1 233,299.6 C233.38,300.1 233.65,301.1 234,302 C234.35,302.9 234.75,304.83 235.1,305 C235.45,305.17 235.77,303.45 236.1,303 C236.43,302.55 236.77,302.55 237.1,302.3 C237.43,302.05 237.77,301.5 238.1,301.5 C238.43,301.5 238.77,301.72 239.1,302.3 C239.43,302.88 239.77,303.88 240.1,305 C240.43,306.12 240.77,307.92 241.1,309 C241.43,310.08 241.77,310.6 242.1,311.5 C242.43,312.4 242.75,313.15 243.1,314.4 C243.45,315.65 243.85,317.43 244.2,319 C244.55,320.57 244.87,322.22 245.2,323.8 C245.53,325.38 245.87,326.92 246.2,328.5 C246.53,330.08 246.82,332.05 247.2,333.3 C247.58,334.55 248.05,335.38 248.5,336 C248.95,336.62 249.67,336.83 249.9,337 L259.2,337" fill="none" stroke="#cf1f18" stroke-width="1.4" stroke-linejoin="round"/>
<rect x="192.9" y="271.5" width="66.3" height="66.3" fill="none" stroke="#000" stroke-width="1.3"/>
<path d="M193.5,338.4 v2.7 M198.5,338.4 v2.7 M200.5,338.4 v2.7 M203.5,338.4 v2.7 M205.5,338.4 v2.7 M210.5,338.4 v2.7 M212.5,338.4 v2.7 M215.5,338.4 v2.7 M219.5,338.4 v2.7 M222.5,338.4 v2.7 M224.5,338.4 v2.7 M226.5,338.4 v2.7 M229.5,338.4 v2.7 M231.5,338.4 v2.7 M236.5,338.4 v2.7 M238.5,338.4 v2.7 M240.5,338.4 v2.7 M243.5,338.4 v2.7 M245.5,338.4 v2.7 M247.5,338.4 v2.7 M252.5,338.4 v2.7 M254.5,338.4 v2.7 M257.5,338.4 v2.7 M196.5,338.4 v3.5 M207.5,338.4 v3.5 M218.5,338.4 v3.5 M234.5,338.4 v3.5 M250.5,338.4 v3.5 " stroke="#000" stroke-width="0.9" fill="none"/>
<text x="190.8" y="350.3" font-size="7.3" text-anchor="start" font-weight="normal" font-style="normal" fill="#231f20" textLength="9.2" lengthAdjust="spacingAndGlyphs" stroke="#231f20" stroke-width="0.25">-10</text>
<text x="200.4" y="346.5" font-size="4.4" text-anchor="start" font-weight="normal" font-style="normal" fill="#231f20" textLength="2.4" lengthAdjust="spacingAndGlyphs" stroke="#231f20" stroke-width="0.3">3</text>
<text x="205.5" y="350.3" font-size="7.3" text-anchor="start" font-weight="normal" font-style="normal" fill="#231f20" textLength="3.9" lengthAdjust="spacingAndGlyphs" stroke="#231f20" stroke-width="0.25">0</text>
<text x="214.2" y="350.3" font-size="7.3" text-anchor="start" font-weight="normal" font-style="normal" fill="#231f20" textLength="7.1" lengthAdjust="spacingAndGlyphs" stroke="#231f20" stroke-width="0.25">10</text>
<text x="221.7" y="346.5" font-size="4.4" text-anchor="start" font-weight="normal" font-style="normal" fill="#231f20" textLength="2.4" lengthAdjust="spacingAndGlyphs" stroke="#231f20" stroke-width="0.3">3</text>
<text x="232.3" y="350.3" font-size="7.3" text-anchor="start" font-weight="normal" font-style="normal" fill="#231f20" textLength="7.1" lengthAdjust="spacingAndGlyphs" stroke="#231f20" stroke-width="0.25">10</text>
<text x="239.8" y="346.5" font-size="4.4" text-anchor="start" font-weight="normal" font-style="normal" fill="#231f20" textLength="2.4" lengthAdjust="spacingAndGlyphs" stroke="#231f20" stroke-width="0.3">4</text>
<text x="248.5" y="350.3" font-size="7.3" text-anchor="start" font-weight="normal" font-style="normal" fill="#231f20" textLength="7.1" lengthAdjust="spacingAndGlyphs" stroke="#231f20" stroke-width="0.25">10</text>
<text x="256" y="346.5" font-size="4.4" text-anchor="start" font-weight="normal" font-style="normal" fill="#231f20" textLength="2.4" lengthAdjust="spacingAndGlyphs" stroke="#231f20" stroke-width="0.3">5</text>
<path d="M280.85,316.5 C280.85,316.4 280.75,316.15 280.85,315.89 C280.95,315.63 281.26,315.49 281.47,314.94 C281.68,314.39 281.89,313.76 282.09,312.57 C282.3,311.37 282.51,309.85 282.71,307.76 C282.92,305.68 283.13,302.93 283.34,300.07 C283.54,297.21 283.75,293.54 283.96,290.61 C284.16,287.67 284.37,284.36 284.58,282.46 C284.79,280.55 284.99,279.2 285.2,279.2 C285.41,279.2 285.61,280.55 285.82,282.46 C286.03,284.36 286.24,287.67 286.44,290.61 C286.65,293.54 286.86,297.21 287.06,300.07 C287.27,302.93 287.48,305.68 287.69,307.76 C287.89,309.85 288.1,311.37 288.31,312.57 C288.51,313.76 288.72,314.39 288.93,314.94 C289.14,315.49 289.45,315.63 289.55,315.89 C289.65,316.15 289.55,316.4 289.55,316.5 Z" fill="#6a64ab" fill-opacity="0.9" stroke="none"/>
<path d="M269.4,316.5 L280.85,316.5 L280.85,316.5 C280.85,316.4 280.75,316.15 280.85,315.89 C280.95,315.63 281.26,315.49 281.47,314.94 C281.68,314.39 281.89,313.76 282.09,312.57 C282.3,311.37 282.51,309.85 282.71,307.76 C282.92,305.68 283.13,302.93 283.34,300.07 C283.54,297.21 283.75,293.54 283.96,290.61 C284.16,287.67 284.37,284.36 284.58,282.46 C284.79,280.55 284.99,279.2 285.2,279.2 C285.41,279.2 285.61,280.55 285.82,282.46 C286.03,284.36 286.24,287.67 286.44,290.61 C286.65,293.54 286.86,297.21 287.06,300.07 C287.27,302.93 287.48,305.68 287.69,307.76 C287.89,309.85 288.1,311.37 288.31,312.57 C288.51,313.76 288.72,314.39 288.93,314.94 C289.14,315.49 289.45,315.63 289.55,315.89 C289.65,316.15 289.55,316.4 289.55,316.5 L336.2,316.5" fill="none" stroke="#33429a" stroke-width="1.3" stroke-linejoin="round"/>
<path d="M281.5,337 C281.72,335.33 282.4,330.32 282.8,327 C283.2,323.68 283.5,320.77 283.9,317.1 C284.3,313.43 284.75,308.48 285.2,305 C285.65,301.52 286.17,296.7 286.6,296.2 C287.03,295.7 287.42,299.87 287.8,302 C288.18,304.13 288.5,306.83 288.9,309 C289.3,311.17 289.75,313.2 290.2,315 C290.65,316.8 291.08,318.8 291.6,319.8 C292.12,320.8 292.75,320.67 293.3,321 C293.85,321.33 294.28,321.43 294.9,321.8 C295.52,322.17 296.32,322.75 297,323.2 C297.68,323.65 298.38,324.37 299,324.5 C299.62,324.63 300.15,323.88 300.7,324 C301.25,324.12 301.75,324.78 302.3,325.2 C302.85,325.62 303.43,326.05 304,326.5 C304.57,326.95 305.08,327.35 305.7,327.9 C306.32,328.45 307.03,329.13 307.7,329.8 C308.37,330.47 309.02,331.25 309.7,331.9 C310.38,332.55 311.12,333.13 311.8,333.7 C312.48,334.27 312.8,334.75 313.8,335.3 C314.8,335.85 317.13,336.72 317.8,337 Z" fill="#da7556" fill-opacity="0.9" stroke="none"/>
<path d="M269.4,337 L281.5,337 L281.5,337 C281.72,335.33 282.4,330.32 282.8,327 C283.2,323.68 283.5,320.77 283.9,317.1 C284.3,313.43 284.75,308.48 285.2,305 C285.65,301.52 286.17,296.7 286.6,296.2 C287.03,295.7 287.42,299.87 287.8,302 C288.18,304.13 288.5,306.83 288.9,309 C289.3,311.17 289.75,313.2 290.2,315 C290.65,316.8 291.08,318.8 291.6,319.8 C292.12,320.8 292.75,320.67 293.3,321 C293.85,321.33 294.28,321.43 294.9,321.8 C295.52,322.17 296.32,322.75 297,323.2 C297.68,323.65 298.38,324.37 299,324.5 C299.62,324.63 300.15,323.88 300.7,324 C301.25,324.12 301.75,324.78 302.3,325.2 C302.85,325.62 303.43,326.05 304,326.5 C304.57,326.95 305.08,327.35 305.7,327.9 C306.32,328.45 307.03,329.13 307.7,329.8 C308.37,330.47 309.02,331.25 309.7,331.9 C310.38,332.55 311.12,333.13 311.8,333.7 C312.48,334.27 312.8,334.75 313.8,335.3 C314.8,335.85 317.13,336.72 317.8,337 L336.2,337" fill="none" stroke="#cf1f18" stroke-width="1.4" stroke-linejoin="round"/>
<rect x="269.4" y="271.5" width="66.8" height="66.3" fill="none" stroke="#000" stroke-width="1.3"/>
<path d="M270.5,338.4 v2.7 M275.5,338.4 v2.7 M277.5,338.4 v2.7 M279.5,338.4 v2.7 M282.5,338.4 v2.7 M286.5,338.4 v2.7 M289.5,338.4 v2.7 M291.5,338.4 v2.7 M296.5,338.4 v2.7 M298.5,338.4 v2.7 M300.5,338.4 v2.7 M303.5,338.4 v2.7 M305.5,338.4 v2.7 M308.5,338.4 v2.7 M312.5,338.4 v2.7 M315.5,338.4 v2.7 M317.5,338.4 v2.7 M319.5,338.4 v2.7 M322.5,338.4 v2.7 M324.5,338.4 v2.7 M329.5,338.4 v2.7 M331.5,338.4 v2.7 M333.5,338.4 v2.7 M273.5,338.4 v3.5 M284.5,338.4 v3.5 M294.5,338.4 v3.5 M310.5,338.4 v3.5 M327.5,338.4 v3.5 " stroke="#000" stroke-width="0.9" fill="none"/>
<text x="267.3" y="350.3" font-size="7.3" text-anchor="start" font-weight="normal" font-style="normal" fill="#231f20" textLength="9.2" lengthAdjust="spacingAndGlyphs" stroke="#231f20" stroke-width="0.25">-10</text>
<text x="276.9" y="346.5" font-size="4.4" text-anchor="start" font-weight="normal" font-style="normal" fill="#231f20" textLength="2.4" lengthAdjust="spacingAndGlyphs" stroke="#231f20" stroke-width="0.3">3</text>
<text x="282" y="350.3" font-size="7.3" text-anchor="start" font-weight="normal" font-style="normal" fill="#231f20" textLength="3.9" lengthAdjust="spacingAndGlyphs" stroke="#231f20" stroke-width="0.25">0</text>
<text x="290.7" y="350.3" font-size="7.3" text-anchor="start" font-weight="normal" font-style="normal" fill="#231f20" textLength="7.1" lengthAdjust="spacingAndGlyphs" stroke="#231f20" stroke-width="0.25">10</text>
<text x="298.2" y="346.5" font-size="4.4" text-anchor="start" font-weight="normal" font-style="normal" fill="#231f20" textLength="2.4" lengthAdjust="spacingAndGlyphs" stroke="#231f20" stroke-width="0.3">3</text>
<text x="308.8" y="350.3" font-size="7.3" text-anchor="start" font-weight="normal" font-style="normal" fill="#231f20" textLength="7.1" lengthAdjust="spacingAndGlyphs" stroke="#231f20" stroke-width="0.25">10</text>
<text x="316.3" y="346.5" font-size="4.4" text-anchor="start" font-weight="normal" font-style="normal" fill="#231f20" textLength="2.4" lengthAdjust="spacingAndGlyphs" stroke="#231f20" stroke-width="0.3">4</text>
<text x="325" y="350.3" font-size="7.3" text-anchor="start" font-weight="normal" font-style="normal" fill="#231f20" textLength="7.1" lengthAdjust="spacingAndGlyphs" stroke="#231f20" stroke-width="0.25">10</text>
<text x="332.5" y="346.5" font-size="4.4" text-anchor="start" font-weight="normal" font-style="normal" fill="#231f20" textLength="2.4" lengthAdjust="spacingAndGlyphs" stroke="#231f20" stroke-width="0.3">5</text>
<path d="M358,316.5 C358,316.47 357.7,317.05 358,316.3 C358.3,315.55 359.33,314.72 359.8,312 C360.27,309.28 360.52,304 360.8,300 C361.08,296 361.27,291.17 361.5,288 C361.73,284.83 361.95,281 362.2,281 C362.45,281 362.73,284.83 363,288 C363.27,291.17 363.53,296.33 363.8,300 C364.07,303.67 364.32,307.67 364.6,310 C364.88,312.33 365.1,313.08 365.5,314 C365.9,314.92 366.42,315.12 367,315.5 C367.58,315.88 368.67,316.13 369,316.3 C369.33,316.47 369,316.47 369,316.5 Z" fill="#6a64ab" fill-opacity="0.9" stroke="none"/>
<path d="M347,316.5 L358,316.5 L358,316.5 C358,316.47 357.7,317.05 358,316.3 C358.3,315.55 359.33,314.72 359.8,312 C360.27,309.28 360.52,304 360.8,300 C361.08,296 361.27,291.17 361.5,288 C361.73,284.83 361.95,281 362.2,281 C362.45,281 362.73,284.83 363,288 C363.27,291.17 363.53,296.33 363.8,300 C364.07,303.67 364.32,307.67 364.6,310 C364.88,312.33 365.1,313.08 365.5,314 C365.9,314.92 366.42,315.12 367,315.5 C367.58,315.88 368.67,316.13 369,316.3 C369.33,316.47 369,316.47 369,316.5 L413.4,316.5" fill="none" stroke="#33429a" stroke-width="1.3" stroke-linejoin="round"/>
<path d="M359.8,337 C360.07,334.8 361.02,327.47 361.4,323.8 C361.78,320.13 361.87,317.68 362.1,315 C362.33,312.32 362.52,309.87 362.8,307.7 C363.08,305.53 363.45,303.4 363.8,302 C364.15,300.6 364.53,299.55 364.9,299.3 C365.27,299.05 365.62,300 366,300.5 C366.38,301 366.83,301.63 367.2,302.3 C367.57,302.97 367.87,303.72 368.2,304.5 C368.53,305.28 368.87,306.17 369.2,307 C369.53,307.83 369.87,308.83 370.2,309.5 C370.53,310.17 370.85,310.53 371.2,311 C371.55,311.47 371.95,311.95 372.3,312.3 C372.65,312.65 373.02,312.57 373.3,313.1 C373.58,313.63 373.78,314.72 374,315.5 C374.22,316.28 374.22,317.18 374.6,317.8 C374.98,318.42 375.73,318.75 376.3,319.2 C376.87,319.65 377.5,320.12 378,320.5 C378.5,320.88 378.85,321.05 379.3,321.5 C379.75,321.95 380.13,322.53 380.7,323.2 C381.27,323.87 382.03,324.72 382.7,325.5 C383.37,326.28 384.03,327.12 384.7,327.9 C385.37,328.68 386.03,329.42 386.7,330.2 C387.37,330.98 388.08,331.88 388.7,332.6 C389.32,333.32 389.83,333.93 390.4,334.5 C390.97,335.07 391.03,335.58 392.1,336 C393.17,336.42 396.02,336.83 396.8,337 Z" fill="#da7556" fill-opacity="0.9" stroke="none"/>
<path d="M347,337 L359.8,337 L359.8,337 C360.07,334.8 361.02,327.47 361.4,323.8 C361.78,320.13 361.87,317.68 362.1,315 C362.33,312.32 362.52,309.87 362.8,307.7 C363.08,305.53 363.45,303.4 363.8,302 C364.15,300.6 364.53,299.55 364.9,299.3 C365.27,299.05 365.62,300 366,300.5 C366.38,301 366.83,301.63 367.2,302.3 C367.57,302.97 367.87,303.72 368.2,304.5 C368.53,305.28 368.87,306.17 369.2,307 C369.53,307.83 369.87,308.83 370.2,309.5 C370.53,310.17 370.85,310.53 371.2,311 C371.55,311.47 371.95,311.95 372.3,312.3 C372.65,312.65 373.02,312.57 373.3,313.1 C373.58,313.63 373.78,314.72 374,315.5 C374.22,316.28 374.22,317.18 374.6,317.8 C374.98,318.42 375.73,318.75 376.3,319.2 C376.87,319.65 377.5,320.12 378,320.5 C378.5,320.88 378.85,321.05 379.3,321.5 C379.75,321.95 380.13,322.53 380.7,323.2 C381.27,323.87 382.03,324.72 382.7,325.5 C383.37,326.28 384.03,327.12 384.7,327.9 C385.37,328.68 386.03,329.42 386.7,330.2 C387.37,330.98 388.08,331.88 388.7,332.6 C389.32,333.32 389.83,333.93 390.4,334.5 C390.97,335.07 391.03,335.58 392.1,336 C393.17,336.42 396.02,336.83 396.8,337 L413.4,337" fill="none" stroke="#cf1f18" stroke-width="1.4" stroke-linejoin="round"/>
<rect x="347" y="271.5" width="66.4" height="66.3" fill="none" stroke="#000" stroke-width="1.3"/>
<path d="M348.5,338.4 v2.7 M352.5,338.4 v2.7 M355.5,338.4 v2.7 M357.5,338.4 v2.7 M359.5,338.4 v2.7 M364.5,338.4 v2.7 M366.5,338.4 v2.7 M369.5,338.4 v2.7 M373.5,338.4 v2.7 M376.5,338.4 v2.7 M378.5,338.4 v2.7 M380.5,338.4 v2.7 M383.5,338.4 v2.7 M385.5,338.4 v2.7 M390.5,338.4 v2.7 M392.5,338.4 v2.7 M395.5,338.4 v2.7 M397.5,338.4 v2.7 M399.5,338.4 v2.7 M402.5,338.4 v2.7 M406.5,338.4 v2.7 M409.5,338.4 v2.7 M411.5,338.4 v2.7 M350.5,338.4 v3.5 M361.5,338.4 v3.5 M372.5,338.4 v3.5 M388.5,338.4 v3.5 M404.5,338.4 v3.5 " stroke="#000" stroke-width="0.9" fill="none"/>
<text x="344.9" y="350.3" font-size="7.3" text-anchor="start" font-weight="normal" font-style="normal" fill="#231f20" textLength="9.2" lengthAdjust="spacingAndGlyphs" stroke="#231f20" stroke-width="0.25">-10</text>
<text x="354.5" y="346.5" font-size="4.4" text-anchor="start" font-weight="normal" font-style="normal" fill="#231f20" textLength="2.4" lengthAdjust="spacingAndGlyphs" stroke="#231f20" stroke-width="0.3">3</text>
<text x="359.6" y="350.3" font-size="7.3" text-anchor="start" font-weight="normal" font-style="normal" fill="#231f20" textLength="3.9" lengthAdjust="spacingAndGlyphs" stroke="#231f20" stroke-width="0.25">0</text>
<text x="368.3" y="350.3" font-size="7.3" text-anchor="start" font-weight="normal" font-style="normal" fill="#231f20" textLength="7.1" lengthAdjust="spacingAndGlyphs" stroke="#231f20" stroke-width="0.25">10</text>
<text x="375.8" y="346.5" font-size="4.4" text-anchor="start" font-weight="normal" font-style="normal" fill="#231f20" textLength="2.4" lengthAdjust="spacingAndGlyphs" stroke="#231f20" stroke-width="0.3">3</text>
<text x="386.4" y="350.3" font-size="7.3" text-anchor="start" font-weight="normal" font-style="normal" fill="#231f20" textLength="7.1" lengthAdjust="spacingAndGlyphs" stroke="#231f20" stroke-width="0.25">10</text>
<text x="393.9" y="346.5" font-size="4.4" text-anchor="start" font-weight="normal" font-style="normal" fill="#231f20" textLength="2.4" lengthAdjust="spacingAndGlyphs" stroke="#231f20" stroke-width="0.3">4</text>
<text x="402.6" y="350.3" font-size="7.3" text-anchor="start" font-weight="normal" font-style="normal" fill="#231f20" textLength="7.1" lengthAdjust="spacingAndGlyphs" stroke="#231f20" stroke-width="0.25">10</text>
<text x="410.1" y="346.5" font-size="4.4" text-anchor="start" font-weight="normal" font-style="normal" fill="#231f20" textLength="2.4" lengthAdjust="spacingAndGlyphs" stroke="#231f20" stroke-width="0.3">5</text>
<path d="M436,316.5 C436,316.4 435.9,316.14 436,315.88 C436.1,315.61 436.4,315.47 436.6,314.9 C436.8,314.33 437,313.69 437.2,312.45 C437.4,311.22 437.6,309.66 437.8,307.51 C438,305.37 438.2,302.53 438.4,299.59 C438.6,296.64 438.8,292.87 439,289.84 C439.2,286.82 439.4,283.41 439.6,281.45 C439.8,279.49 440,278.1 440.2,278.1 C440.4,278.1 440.6,279.49 440.8,281.45 C441,283.41 441.2,286.82 441.4,289.84 C441.6,292.87 441.8,296.64 442,299.59 C442.2,302.53 442.4,305.37 442.6,307.51 C442.8,309.66 443,311.22 443.2,312.45 C443.4,313.69 443.6,314.33 443.8,314.9 C444,315.47 444.3,315.61 444.4,315.88 C444.5,316.14 444.4,316.4 444.4,316.5 Z" fill="#6a64ab" fill-opacity="0.9" stroke="none"/>
<path d="M424.2,316.5 L436,316.5 L436,316.5 C436,316.4 435.9,316.14 436,315.88 C436.1,315.61 436.4,315.47 436.6,314.9 C436.8,314.33 437,313.69 437.2,312.45 C437.4,311.22 437.6,309.66 437.8,307.51 C438,305.37 438.2,302.53 438.4,299.59 C438.6,296.64 438.8,292.87 439,289.84 C439.2,286.82 439.4,283.41 439.6,281.45 C439.8,279.49 440,278.1 440.2,278.1 C440.4,278.1 440.6,279.49 440.8,281.45 C441,283.41 441.2,286.82 441.4,289.84 C441.6,292.87 441.8,296.64 442,299.59 C442.2,302.53 442.4,305.37 442.6,307.51 C442.8,309.66 443,311.22 443.2,312.45 C443.4,313.69 443.6,314.33 443.8,314.9 C444,315.47 444.3,315.61 444.4,315.88 C444.5,316.14 444.4,316.4 444.4,316.5 L491.2,316.5" fill="none" stroke="#33429a" stroke-width="1.3" stroke-linejoin="round"/>
<path d="M436.9,337 C437.07,335.33 437.57,330.53 437.9,327 C438.23,323.47 438.53,319.92 438.9,315.8 C439.27,311.68 439.72,305.52 440.1,302.3 C440.48,299.08 440.85,296.72 441.2,296.5 C441.55,296.28 441.87,299.37 442.2,301 C442.53,302.63 442.87,304.88 443.2,306.3 C443.53,307.72 443.87,308.48 444.2,309.5 C444.53,310.52 444.82,311.6 445.2,312.4 C445.58,313.2 446.05,313.73 446.5,314.3 C446.95,314.87 447.38,315.35 447.9,315.8 C448.42,316.25 449.03,316.67 449.6,317 C450.17,317.33 450.8,317.55 451.3,317.8 C451.8,318.05 452.15,318.28 452.6,318.5 C453.05,318.72 453.6,318.8 454,319.1 C454.4,319.4 454.67,319.85 455,320.3 C455.33,320.75 455.62,321.3 456,321.8 C456.38,322.3 456.85,322.73 457.3,323.3 C457.75,323.87 458.25,324.45 458.7,325.2 C459.15,325.95 459.55,326.9 460,327.8 C460.45,328.7 460.9,329.7 461.4,330.6 C461.9,331.5 462.45,332.35 463,333.2 C463.55,334.05 463.73,335.07 464.7,335.7 C465.67,336.33 468.12,336.78 468.8,337 Z" fill="#da7556" fill-opacity="0.9" stroke="none"/>
<path d="M424.2,337 L436.9,337 L436.9,337 C437.07,335.33 437.57,330.53 437.9,327 C438.23,323.47 438.53,319.92 438.9,315.8 C439.27,311.68 439.72,305.52 440.1,302.3 C440.48,299.08 440.85,296.72 441.2,296.5 C441.55,296.28 441.87,299.37 442.2,301 C442.53,302.63 442.87,304.88 443.2,306.3 C443.53,307.72 443.87,308.48 444.2,309.5 C444.53,310.52 444.82,311.6 445.2,312.4 C445.58,313.2 446.05,313.73 446.5,314.3 C446.95,314.87 447.38,315.35 447.9,315.8 C448.42,316.25 449.03,316.67 449.6,317 C450.17,317.33 450.8,317.55 451.3,317.8 C451.8,318.05 452.15,318.28 452.6,318.5 C453.05,318.72 453.6,318.8 454,319.1 C454.4,319.4 454.67,319.85 455,320.3 C455.33,320.75 455.62,321.3 456,321.8 C456.38,322.3 456.85,322.73 457.3,323.3 C457.75,323.87 458.25,324.45 458.7,325.2 C459.15,325.95 459.55,326.9 460,327.8 C460.45,328.7 460.9,329.7 461.4,330.6 C461.9,331.5 462.45,332.35 463,333.2 C463.55,334.05 463.73,335.07 464.7,335.7 C465.67,336.33 468.12,336.78 468.8,337 L491.2,337" fill="none" stroke="#cf1f18" stroke-width="1.4" stroke-linejoin="round"/>
<rect x="424.2" y="271.5" width="67" height="66.3" fill="none" stroke="#000" stroke-width="1.3"/>
<path d="M425.5,338.4 v2.7 M429.5,338.4 v2.7 M432.5,338.4 v2.7 M434.5,338.4 v2.7 M436.5,338.4 v2.7 M441.5,338.4 v2.7 M444.5,338.4 v2.7 M446.5,338.4 v2.7 M451.5,338.4 v2.7 M453.5,338.4 v2.7 M455.5,338.4 v2.7 M458.5,338.4 v2.7 M460.5,338.4 v2.7 M462.5,338.4 v2.7 M467.5,338.4 v2.7 M469.5,338.4 v2.7 M472.5,338.4 v2.7 M474.5,338.4 v2.7 M476.5,338.4 v2.7 M479.5,338.4 v2.7 M483.5,338.4 v2.7 M486.5,338.4 v2.7 M488.5,338.4 v2.7 M428.5,338.4 v3.5 M438.5,338.4 v3.5 M449.5,338.4 v3.5 M465.5,338.4 v3.5 M482.5,338.4 v3.5 " stroke="#000" stroke-width="0.9" fill="none"/>
<text x="422.1" y="350.3" font-size="7.3" text-anchor="start" font-weight="normal" font-style="normal" fill="#231f20" textLength="9.2" lengthAdjust="spacingAndGlyphs" stroke="#231f20" stroke-width="0.25">-10</text>
<text x="431.7" y="346.5" font-size="4.4" text-anchor="start" font-weight="normal" font-style="normal" fill="#231f20" textLength="2.4" lengthAdjust="spacingAndGlyphs" stroke="#231f20" stroke-width="0.3">3</text>
<text x="436.8" y="350.3" font-size="7.3" text-anchor="start" font-weight="normal" font-style="normal" fill="#231f20" textLength="3.9" lengthAdjust="spacingAndGlyphs" stroke="#231f20" stroke-width="0.25">0</text>
<text x="445.5" y="350.3" font-size="7.3" text-anchor="start" font-weight="normal" font-style="normal" fill="#231f20" textLength="7.1" lengthAdjust="spacingAndGlyphs" stroke="#231f20" stroke-width="0.25">10</text>
<text x="453" y="346.5" font-size="4.4" text-anchor="start" font-weight="normal" font-style="normal" fill="#231f20" textLength="2.4" lengthAdjust="spacingAndGlyphs" stroke="#231f20" stroke-width="0.3">3</text>
<text x="463.6" y="350.3" font-size="7.3" text-anchor="start" font-weight="normal" font-style="normal" fill="#231f20" textLength="7.1" lengthAdjust="spacingAndGlyphs" stroke="#231f20" stroke-width="0.25">10</text>
<text x="471.1" y="346.5" font-size="4.4" text-anchor="start" font-weight="normal" font-style="normal" fill="#231f20" textLength="2.4" lengthAdjust="spacingAndGlyphs" stroke="#231f20" stroke-width="0.3">4</text>
<text x="479.8" y="350.3" font-size="7.3" text-anchor="start" font-weight="normal" font-style="normal" fill="#231f20" textLength="7.1" lengthAdjust="spacingAndGlyphs" stroke="#231f20" stroke-width="0.25">10</text>
<text x="487.3" y="346.5" font-size="4.4" text-anchor="start" font-weight="normal" font-style="normal" fill="#231f20" textLength="2.4" lengthAdjust="spacingAndGlyphs" stroke="#231f20" stroke-width="0.3">5</text>
<text x="33.8" y="316" font-size="7.7" text-anchor="end" font-weight="normal" font-style="normal" fill="#231f20" textLength="12.8" lengthAdjust="spacingAndGlyphs" stroke="#231f20" stroke-width="0.18">PBS</text>
<text x="33.8" y="337.2" font-size="7.7" text-anchor="end" font-weight="normal" font-style="normal" fill="#231f20" textLength="8.2" lengthAdjust="spacingAndGlyphs" stroke="#231f20" stroke-width="0.18">SE</text>
<line x1="37.2" y1="355.8" x2="489.8" y2="355.8" stroke="#505050" stroke-width="1.4"/>
<path d="M493.8,355.8 L487.8,353.5 L487.8,358.1 Z" fill="#000"/>
<text x="227.8" y="365.8" font-size="8.5" text-anchor="start" font-weight="normal" font-style="normal" fill="#231f20" textLength="48" lengthAdjust="spacingAndGlyphs" stroke="#231f20" stroke-width="0.18">CD25 (IL2R-&#945;)</text>
<text x="278.5" y="365.8" font-size="8.5" text-anchor="start" font-weight="bold" font-style="italic" fill="#231f20" textLength="23.4" lengthAdjust="spacingAndGlyphs">BV650</text>
<path d="M50.35,425.6 C50.35,425.53 50.28,425.41 50.35,425.18 C50.42,424.95 50.62,424.78 50.76,424.21 C50.89,423.64 51.03,423.01 51.16,421.78 C51.3,420.56 51.44,419.01 51.57,416.88 C51.71,414.75 51.84,411.94 51.98,409.02 C52.11,406.09 52.25,402.35 52.39,399.35 C52.52,396.35 52.66,392.97 52.79,391.03 C52.93,389.08 53.06,387.7 53.2,387.7 C53.34,387.7 53.47,389.08 53.61,391.03 C53.74,392.97 53.88,396.35 54.01,399.35 C54.15,402.35 54.29,406.09 54.42,409.02 C54.56,411.94 54.69,414.75 54.83,416.88 C54.96,419.01 55.1,420.56 55.24,421.78 C55.37,423.01 55.51,423.64 55.64,424.21 C55.78,424.78 55.98,424.95 56.05,425.18 C56.12,425.41 56.05,425.53 56.05,425.6 Z" fill="#6a64ab" fill-opacity="0.9" stroke="none"/>
<path d="M37.3,425.6 L50.35,425.6 L50.35,425.6 C50.35,425.53 50.28,425.41 50.35,425.18 C50.42,424.95 50.62,424.78 50.76,424.21 C50.89,423.64 51.03,423.01 51.16,421.78 C51.3,420.56 51.44,419.01 51.57,416.88 C51.71,414.75 51.84,411.94 51.98,409.02 C52.11,406.09 52.25,402.35 52.39,399.35 C52.52,396.35 52.66,392.97 52.79,391.03 C52.93,389.08 53.06,387.7 53.2,387.7 C53.34,387.7 53.47,389.08 53.61,391.03 C53.74,392.97 53.88,396.35 54.01,399.35 C54.15,402.35 54.29,406.09 54.42,409.02 C54.56,411.94 54.69,414.75 54.83,416.88 C54.96,419.01 55.1,420.56 55.24,421.78 C55.37,423.01 55.51,423.64 55.64,424.21 C55.78,424.78 55.98,424.95 56.05,425.18 C56.12,425.41 56.05,425.53 56.05,425.6 L103.6,425.6" fill="none" stroke="#33429a" stroke-width="1.3" stroke-linejoin="round"/>
<path d="M51.1,446.2 C51.25,443.5 51.75,434.7 52,430 C52.25,425.3 52.4,420.9 52.6,418 C52.8,415.1 52.98,412.6 53.2,412.6 C53.42,412.6 53.65,414.77 53.9,418 C54.15,421.23 54.43,428.33 54.7,432 C54.97,435.67 55.25,438.28 55.5,440 C55.75,441.72 55.87,442.3 56.2,442.3 C56.53,442.3 57.12,440.72 57.5,440 C57.88,439.28 58.15,438.42 58.5,438 C58.85,437.58 59.22,437.25 59.6,437.5 C59.98,437.75 60.4,438.83 60.8,439.5 C61.2,440.17 61.65,440.93 62,441.5 C62.35,442.07 62.53,442.43 62.9,442.9 C63.27,443.37 63.75,443.92 64.2,444.3 C64.65,444.68 64.8,444.95 65.6,445.2 C66.4,445.45 67.88,445.63 69,445.8 C70.12,445.97 71.75,446.13 72.3,446.2 Z" fill="#da7556" fill-opacity="0.9" stroke="none"/>
<path d="M37.3,446.2 L51.1,446.2 L51.1,446.2 C51.25,443.5 51.75,434.7 52,430 C52.25,425.3 52.4,420.9 52.6,418 C52.8,415.1 52.98,412.6 53.2,412.6 C53.42,412.6 53.65,414.77 53.9,418 C54.15,421.23 54.43,428.33 54.7,432 C54.97,435.67 55.25,438.28 55.5,440 C55.75,441.72 55.87,442.3 56.2,442.3 C56.53,442.3 57.12,440.72 57.5,440 C57.88,439.28 58.15,438.42 58.5,438 C58.85,437.58 59.22,437.25 59.6,437.5 C59.98,437.75 60.4,438.83 60.8,439.5 C61.2,440.17 61.65,440.93 62,441.5 C62.35,442.07 62.53,442.43 62.9,442.9 C63.27,443.37 63.75,443.92 64.2,444.3 C64.65,444.68 64.8,444.95 65.6,445.2 C66.4,445.45 67.88,445.63 69,445.8 C70.12,445.97 71.75,446.13 72.3,446.2 L103.6,446.2" fill="none" stroke="#cf1f18" stroke-width="1.4" stroke-linejoin="round"/>
<rect x="37.3" y="380.8" width="66.3" height="66.2" fill="none" stroke="#000" stroke-width="1.3"/>
<path d="M38.5,447.6 v2.7 M43.5,447.6 v2.7 M45.5,447.6 v2.7 M47.5,447.6 v2.7 M50.5,447.6 v2.7 M54.5,447.6 v2.7 M57.5,447.6 v2.7 M59.5,447.6 v2.7 M64.5,447.6 v2.7 M66.5,447.6 v2.7 M68.5,447.6 v2.7 M71.5,447.6 v2.7 M73.5,447.6 v2.7 M75.5,447.6 v2.7 M80.5,447.6 v2.7 M82.5,447.6 v2.7 M85.5,447.6 v2.7 M87.5,447.6 v2.7 M89.5,447.6 v2.7 M92.5,447.6 v2.7 M97.5,447.6 v2.7 M99.5,447.6 v2.7 M101.5,447.6 v2.7 M41.5,447.6 v3.5 M52.5,447.6 v3.5 M62.5,447.6 v3.5 M78.5,447.6 v3.5 M95.5,447.6 v3.5 " stroke="#000" stroke-width="0.9" fill="none"/>
<text x="35.2" y="459.9" font-size="7.3" text-anchor="start" font-weight="normal" font-style="normal" fill="#231f20" textLength="9.2" lengthAdjust="spacingAndGlyphs" stroke="#231f20" stroke-width="0.25">-10</text>
<text x="44.8" y="456.1" font-size="4.4" text-anchor="start" font-weight="normal" font-style="normal" fill="#231f20" textLength="2.4" lengthAdjust="spacingAndGlyphs" stroke="#231f20" stroke-width="0.3">3</text>
<text x="49.9" y="459.9" font-size="7.3" text-anchor="start" font-weight="normal" font-style="normal" fill="#231f20" textLength="3.9" lengthAdjust="spacingAndGlyphs" stroke="#231f20" stroke-width="0.25">0</text>
<text x="58.6" y="459.9" font-size="7.3" text-anchor="start" font-weight="normal" font-style="normal" fill="#231f20" textLength="7.1" lengthAdjust="spacingAndGlyphs" stroke="#231f20" stroke-width="0.25">10</text>
<text x="66.1" y="456.1" font-size="4.4" text-anchor="start" font-weight="normal" font-style="normal" fill="#231f20" textLength="2.4" lengthAdjust="spacingAndGlyphs" stroke="#231f20" stroke-width="0.3">3</text>
<text x="76.7" y="459.9" font-size="7.3" text-anchor="start" font-weight="normal" font-style="normal" fill="#231f20" textLength="7.1" lengthAdjust="spacingAndGlyphs" stroke="#231f20" stroke-width="0.25">10</text>
<text x="84.2" y="456.1" font-size="4.4" text-anchor="start" font-weight="normal" font-style="normal" fill="#231f20" textLength="2.4" lengthAdjust="spacingAndGlyphs" stroke="#231f20" stroke-width="0.3">4</text>
<text x="92.9" y="459.9" font-size="7.3" text-anchor="start" font-weight="normal" font-style="normal" fill="#231f20" textLength="7.1" lengthAdjust="spacingAndGlyphs" stroke="#231f20" stroke-width="0.25">10</text>
<text x="100.4" y="456.1" font-size="4.4" text-anchor="start" font-weight="normal" font-style="normal" fill="#231f20" textLength="2.4" lengthAdjust="spacingAndGlyphs" stroke="#231f20" stroke-width="0.3">5</text>
<path d="M130.65,425.6 C130.65,425.52 130.59,425.39 130.65,425.13 C130.71,424.88 130.89,424.69 131.01,424.06 C131.14,423.44 131.26,422.73 131.38,421.38 C131.5,420.03 131.62,418.31 131.74,415.96 C131.86,413.61 131.99,410.5 132.11,407.27 C132.23,404.04 132.35,399.9 132.47,396.58 C132.59,393.27 132.71,389.52 132.84,387.38 C132.96,385.23 133.08,383.7 133.2,383.7 C133.32,383.7 133.44,385.23 133.56,387.38 C133.69,389.52 133.81,393.27 133.93,396.58 C134.05,399.9 134.17,404.04 134.29,407.27 C134.41,410.5 134.54,413.61 134.66,415.96 C134.78,418.31 134.9,420.03 135.02,421.38 C135.14,422.73 135.26,423.44 135.39,424.06 C135.51,424.69 135.69,424.88 135.75,425.13 C135.81,425.39 135.75,425.52 135.75,425.6 Z" fill="#6a64ab" fill-opacity="0.9" stroke="none"/>
<path d="M114.8,425.6 L130.65,425.6 L130.65,425.6 C130.65,425.52 130.59,425.39 130.65,425.13 C130.71,424.88 130.89,424.69 131.01,424.06 C131.14,423.44 131.26,422.73 131.38,421.38 C131.5,420.03 131.62,418.31 131.74,415.96 C131.86,413.61 131.99,410.5 132.11,407.27 C132.23,404.04 132.35,399.9 132.47,396.58 C132.59,393.27 132.71,389.52 132.84,387.38 C132.96,385.23 133.08,383.7 133.2,383.7 C133.32,383.7 133.44,385.23 133.56,387.38 C133.69,389.52 133.81,393.27 133.93,396.58 C134.05,399.9 134.17,404.04 134.29,407.27 C134.41,410.5 134.54,413.61 134.66,415.96 C134.78,418.31 134.9,420.03 135.02,421.38 C135.14,422.73 135.26,423.44 135.39,424.06 C135.51,424.69 135.69,424.88 135.75,425.13 C135.81,425.39 135.75,425.52 135.75,425.6 L181.7,425.6" fill="none" stroke="#33429a" stroke-width="1.3" stroke-linejoin="round"/>
<path d="M131.2,446.2 C131.33,444.33 131.73,439.02 132,435 C132.27,430.98 132.53,426.1 132.8,422.1 C133.07,418.1 133.32,413.58 133.6,411 C133.88,408.42 134.22,406.6 134.5,406.6 C134.78,406.6 135.02,408.87 135.3,411 C135.58,413.13 135.88,416.9 136.2,419.4 C136.52,421.9 136.87,423.98 137.2,426 C137.53,428.02 137.82,429.83 138.2,431.5 C138.58,433.17 139.05,434.65 139.5,436 C139.95,437.35 140.32,438.47 140.9,439.6 C141.48,440.73 142.32,441.9 143,442.8 C143.68,443.7 144,444.43 145,445 C146,445.57 148.33,446 149,446.2 Z" fill="#da7556" fill-opacity="0.9" stroke="none"/>
<path d="M114.8,446.2 L131.2,446.2 L131.2,446.2 C131.33,444.33 131.73,439.02 132,435 C132.27,430.98 132.53,426.1 132.8,422.1 C133.07,418.1 133.32,413.58 133.6,411 C133.88,408.42 134.22,406.6 134.5,406.6 C134.78,406.6 135.02,408.87 135.3,411 C135.58,413.13 135.88,416.9 136.2,419.4 C136.52,421.9 136.87,423.98 137.2,426 C137.53,428.02 137.82,429.83 138.2,431.5 C138.58,433.17 139.05,434.65 139.5,436 C139.95,437.35 140.32,438.47 140.9,439.6 C141.48,440.73 142.32,441.9 143,442.8 C143.68,443.7 144,444.43 145,445 C146,445.57 148.33,446 149,446.2 L181.7,446.2" fill="none" stroke="#cf1f18" stroke-width="1.4" stroke-linejoin="round"/>
<rect x="114.8" y="380.8" width="66.9" height="66.2" fill="none" stroke="#000" stroke-width="1.3"/>
<path d="M115.5,447.6 v2.7 M120.5,447.6 v2.7 M122.5,447.6 v2.7 M125.5,447.6 v2.7 M127.5,447.6 v2.7 M132.5,447.6 v2.7 M134.5,447.6 v2.7 M136.5,447.6 v2.7 M141.5,447.6 v2.7 M143.5,447.6 v2.7 M146.5,447.6 v2.7 M148.5,447.6 v2.7 M151.5,447.6 v2.7 M153.5,447.6 v2.7 M158.5,447.6 v2.7 M160.5,447.6 v2.7 M162.5,447.6 v2.7 M165.5,447.6 v2.7 M167.5,447.6 v2.7 M169.5,447.6 v2.7 M174.5,447.6 v2.7 M176.5,447.6 v2.7 M179.5,447.6 v2.7 M118.5,447.6 v3.5 M129.5,447.6 v3.5 M140.5,447.6 v3.5 M156.5,447.6 v3.5 M172.5,447.6 v3.5 " stroke="#000" stroke-width="0.9" fill="none"/>
<text x="112.7" y="459.9" font-size="7.3" text-anchor="start" font-weight="normal" font-style="normal" fill="#231f20" textLength="9.2" lengthAdjust="spacingAndGlyphs" stroke="#231f20" stroke-width="0.25">-10</text>
<text x="122.3" y="456.1" font-size="4.4" text-anchor="start" font-weight="normal" font-style="normal" fill="#231f20" textLength="2.4" lengthAdjust="spacingAndGlyphs" stroke="#231f20" stroke-width="0.3">3</text>
<text x="127.4" y="459.9" font-size="7.3" text-anchor="start" font-weight="normal" font-style="normal" fill="#231f20" textLength="3.9" lengthAdjust="spacingAndGlyphs" stroke="#231f20" stroke-width="0.25">0</text>
<text x="136.1" y="459.9" font-size="7.3" text-anchor="start" font-weight="normal" font-style="normal" fill="#231f20" textLength="7.1" lengthAdjust="spacingAndGlyphs" stroke="#231f20" stroke-width="0.25">10</text>
<text x="143.6" y="456.1" font-size="4.4" text-anchor="start" font-weight="normal" font-style="normal" fill="#231f20" textLength="2.4" lengthAdjust="spacingAndGlyphs" stroke="#231f20" stroke-width="0.3">3</text>
<text x="154.2" y="459.9" font-size="7.3" text-anchor="start" font-weight="normal" font-style="normal" fill="#231f20" textLength="7.1" lengthAdjust="spacingAndGlyphs" stroke="#231f20" stroke-width="0.25">10</text>
<text x="161.7" y="456.1" font-size="4.4" text-anchor="start" font-weight="normal" font-style="normal" fill="#231f20" textLength="2.4" lengthAdjust="spacingAndGlyphs" stroke="#231f20" stroke-width="0.3">4</text>
<text x="170.4" y="459.9" font-size="7.3" text-anchor="start" font-weight="normal" font-style="normal" fill="#231f20" textLength="7.1" lengthAdjust="spacingAndGlyphs" stroke="#231f20" stroke-width="0.25">10</text>
<text x="177.9" y="456.1" font-size="4.4" text-anchor="start" font-weight="normal" font-style="normal" fill="#231f20" textLength="2.4" lengthAdjust="spacingAndGlyphs" stroke="#231f20" stroke-width="0.3">5</text>
<path d="M206.35,425.6 C206.35,425.55 206.29,425.46 206.35,425.28 C206.41,425.11 206.59,424.98 206.71,424.56 C206.84,424.13 206.96,423.66 207.08,422.74 C207.2,421.83 207.32,420.66 207.44,419.07 C207.56,417.47 207.69,415.36 207.81,413.17 C207.93,410.98 208.05,408.18 208.17,405.93 C208.29,403.68 208.41,401.15 208.54,399.69 C208.66,398.24 208.78,397.2 208.9,397.2 C209.02,397.2 209.14,398.24 209.26,399.69 C209.39,401.15 209.51,403.68 209.63,405.93 C209.75,408.18 209.87,410.98 209.99,413.17 C210.11,415.36 210.24,417.47 210.36,419.07 C210.48,420.66 210.6,421.83 210.72,422.74 C210.84,423.66 210.96,424.13 211.09,424.56 C211.21,424.98 210.63,425.14 211.45,425.28 C212.27,425.42 214.66,425.46 216,425.4 C217.34,425.34 218.62,425.03 219.5,424.9 C220.38,424.77 220.72,424.53 221.3,424.6 C221.88,424.67 222.22,425.13 223,425.3 C223.78,425.47 225.5,425.55 226,425.6 Z" fill="#6a64ab" fill-opacity="0.9" stroke="none"/>
<path d="M192.7,425.6 L206.35,425.6 L206.35,425.6 C206.35,425.55 206.29,425.46 206.35,425.28 C206.41,425.11 206.59,424.98 206.71,424.56 C206.84,424.13 206.96,423.66 207.08,422.74 C207.2,421.83 207.32,420.66 207.44,419.07 C207.56,417.47 207.69,415.36 207.81,413.17 C207.93,410.98 208.05,408.18 208.17,405.93 C208.29,403.68 208.41,401.15 208.54,399.69 C208.66,398.24 208.78,397.2 208.9,397.2 C209.02,397.2 209.14,398.24 209.26,399.69 C209.39,401.15 209.51,403.68 209.63,405.93 C209.75,408.18 209.87,410.98 209.99,413.17 C210.11,415.36 210.24,417.47 210.36,419.07 C210.48,420.66 210.6,421.83 210.72,422.74 C210.84,423.66 210.96,424.13 211.09,424.56 C211.21,424.98 210.63,425.14 211.45,425.28 C212.27,425.42 214.66,425.46 216,425.4 C217.34,425.34 218.62,425.03 219.5,424.9 C220.38,424.77 220.72,424.53 221.3,424.6 C221.88,424.67 222.22,425.13 223,425.3 C223.78,425.47 225.5,425.55 226,425.6 L259,425.6" fill="none" stroke="#33429a" stroke-width="1.3" stroke-linejoin="round"/>
<path d="M207.2,446.2 C207.42,444.83 208.07,440.68 208.5,438 C208.93,435.32 209.4,433.1 209.8,430.1 C210.2,427.1 210.55,422.68 210.9,420 C211.25,417.32 211.58,416 211.9,414 C212.22,412 212.52,409.47 212.8,408 C213.08,406.53 213.28,405.03 213.6,405.2 C213.92,405.37 214.32,407.32 214.7,409 C215.08,410.68 215.53,413.22 215.9,415.3 C216.27,417.38 216.57,419.58 216.9,421.5 C217.23,423.42 217.5,425.13 217.9,426.8 C218.3,428.47 218.85,430.05 219.3,431.5 C219.75,432.95 220.15,434.25 220.6,435.5 C221.05,436.75 221.55,437.98 222,439 C222.45,440.02 222.72,440.68 223.3,441.6 C223.88,442.52 224.6,443.73 225.5,444.5 C226.4,445.27 228.17,445.92 228.7,446.2 Z" fill="#da7556" fill-opacity="0.9" stroke="none"/>
<path d="M192.7,446.2 L207.2,446.2 L207.2,446.2 C207.42,444.83 208.07,440.68 208.5,438 C208.93,435.32 209.4,433.1 209.8,430.1 C210.2,427.1 210.55,422.68 210.9,420 C211.25,417.32 211.58,416 211.9,414 C212.22,412 212.52,409.47 212.8,408 C213.08,406.53 213.28,405.03 213.6,405.2 C213.92,405.37 214.32,407.32 214.7,409 C215.08,410.68 215.53,413.22 215.9,415.3 C216.27,417.38 216.57,419.58 216.9,421.5 C217.23,423.42 217.5,425.13 217.9,426.8 C218.3,428.47 218.85,430.05 219.3,431.5 C219.75,432.95 220.15,434.25 220.6,435.5 C221.05,436.75 221.55,437.98 222,439 C222.45,440.02 222.72,440.68 223.3,441.6 C223.88,442.52 224.6,443.73 225.5,444.5 C226.4,445.27 228.17,445.92 228.7,446.2 L259,446.2" fill="none" stroke="#cf1f18" stroke-width="1.4" stroke-linejoin="round"/>
<rect x="192.7" y="380.8" width="66.3" height="66.2" fill="none" stroke="#000" stroke-width="1.3"/>
<path d="M193.5,447.6 v2.7 M198.5,447.6 v2.7 M200.5,447.6 v2.7 M203.5,447.6 v2.7 M205.5,447.6 v2.7 M210.5,447.6 v2.7 M212.5,447.6 v2.7 M214.5,447.6 v2.7 M219.5,447.6 v2.7 M221.5,447.6 v2.7 M224.5,447.6 v2.7 M226.5,447.6 v2.7 M228.5,447.6 v2.7 M231.5,447.6 v2.7 M235.5,447.6 v2.7 M238.5,447.6 v2.7 M240.5,447.6 v2.7 M243.5,447.6 v2.7 M245.5,447.6 v2.7 M247.5,447.6 v2.7 M252.5,447.6 v2.7 M254.5,447.6 v2.7 M257.5,447.6 v2.7 M196.5,447.6 v3.5 M207.5,447.6 v3.5 M218.5,447.6 v3.5 M234.5,447.6 v3.5 M250.5,447.6 v3.5 " stroke="#000" stroke-width="0.9" fill="none"/>
<text x="190.6" y="459.9" font-size="7.3" text-anchor="start" font-weight="normal" font-style="normal" fill="#231f20" textLength="9.2" lengthAdjust="spacingAndGlyphs" stroke="#231f20" stroke-width="0.25">-10</text>
<text x="200.2" y="456.1" font-size="4.4" text-anchor="start" font-weight="normal" font-style="normal" fill="#231f20" textLength="2.4" lengthAdjust="spacingAndGlyphs" stroke="#231f20" stroke-width="0.3">3</text>
<text x="205.3" y="459.9" font-size="7.3" text-anchor="start" font-weight="normal" font-style="normal" fill="#231f20" textLength="3.9" lengthAdjust="spacingAndGlyphs" stroke="#231f20" stroke-width="0.25">0</text>
<text x="214" y="459.9" font-size="7.3" text-anchor="start" font-weight="normal" font-style="normal" fill="#231f20" textLength="7.1" lengthAdjust="spacingAndGlyphs" stroke="#231f20" stroke-width="0.25">10</text>
<text x="221.5" y="456.1" font-size="4.4" text-anchor="start" font-weight="normal" font-style="normal" fill="#231f20" textLength="2.4" lengthAdjust="spacingAndGlyphs" stroke="#231f20" stroke-width="0.3">3</text>
<text x="232.1" y="459.9" font-size="7.3" text-anchor="start" font-weight="normal" font-style="normal" fill="#231f20" textLength="7.1" lengthAdjust="spacingAndGlyphs" stroke="#231f20" stroke-width="0.25">10</text>
<text x="239.6" y="456.1" font-size="4.4" text-anchor="start" font-weight="normal" font-style="normal" fill="#231f20" textLength="2.4" lengthAdjust="spacingAndGlyphs" stroke="#231f20" stroke-width="0.3">4</text>
<text x="248.3" y="459.9" font-size="7.3" text-anchor="start" font-weight="normal" font-style="normal" fill="#231f20" textLength="7.1" lengthAdjust="spacingAndGlyphs" stroke="#231f20" stroke-width="0.25">10</text>
<text x="255.8" y="456.1" font-size="4.4" text-anchor="start" font-weight="normal" font-style="normal" fill="#231f20" textLength="2.4" lengthAdjust="spacingAndGlyphs" stroke="#231f20" stroke-width="0.3">5</text>
<path d="M286.55,425.6 C286.55,425.53 286.49,425.4 286.55,425.16 C286.61,424.93 286.79,424.75 286.91,424.16 C287.04,423.58 287.16,422.92 287.28,421.65 C287.4,420.39 287.52,418.78 287.64,416.58 C287.76,414.38 287.89,411.47 288.01,408.45 C288.13,405.43 288.25,401.55 288.37,398.45 C288.49,395.35 288.61,391.85 288.74,389.84 C288.86,387.83 288.98,386.4 289.1,386.4 C289.22,386.4 289.34,387.83 289.46,389.84 C289.59,391.85 289.71,395.35 289.83,398.45 C289.95,401.55 290.07,405.43 290.19,408.45 C290.31,411.47 290.44,414.38 290.56,416.58 C290.68,418.78 290.8,420.39 290.92,421.65 C291.04,422.92 291.16,423.58 291.29,424.16 C291.41,424.75 291.36,424.99 291.65,425.16 C291.94,425.34 292.44,425.13 293,425.2 C293.56,425.27 294.67,425.53 295,425.6 Z" fill="#6a64ab" fill-opacity="0.9" stroke="none"/>
<path d="M270.6,425.6 L286.55,425.6 L286.55,425.6 C286.55,425.53 286.49,425.4 286.55,425.16 C286.61,424.93 286.79,424.75 286.91,424.16 C287.04,423.58 287.16,422.92 287.28,421.65 C287.4,420.39 287.52,418.78 287.64,416.58 C287.76,414.38 287.89,411.47 288.01,408.45 C288.13,405.43 288.25,401.55 288.37,398.45 C288.49,395.35 288.61,391.85 288.74,389.84 C288.86,387.83 288.98,386.4 289.1,386.4 C289.22,386.4 289.34,387.83 289.46,389.84 C289.59,391.85 289.71,395.35 289.83,398.45 C289.95,401.55 290.07,405.43 290.19,408.45 C290.31,411.47 290.44,414.38 290.56,416.58 C290.68,418.78 290.8,420.39 290.92,421.65 C291.04,422.92 291.16,423.58 291.29,424.16 C291.41,424.75 291.36,424.99 291.65,425.16 C291.94,425.34 292.44,425.13 293,425.2 C293.56,425.27 294.67,425.53 295,425.6 L337.5,425.6" fill="none" stroke="#33429a" stroke-width="1.3" stroke-linejoin="round"/>
<path d="M286.8,446.2 C287.03,444.83 287.75,440.9 288.2,438 C288.65,435.1 289.1,431.8 289.5,428.8 C289.9,425.8 290.25,422.47 290.6,420 C290.95,417.53 291.27,415.83 291.6,414 C291.93,412.17 292.27,410.23 292.6,409 C292.93,407.77 293.22,406.35 293.6,406.6 C293.98,406.85 294.45,409.05 294.9,410.5 C295.35,411.95 295.83,413.72 296.3,415.3 C296.77,416.88 297.25,418.42 297.7,420 C298.15,421.58 298.57,423.22 299,424.8 C299.43,426.38 299.87,427.93 300.3,429.5 C300.73,431.07 301.15,432.7 301.6,434.2 C302.05,435.7 302.55,437.15 303,438.5 C303.45,439.85 303.8,441.25 304.3,442.3 C304.8,443.35 305.32,444.15 306,444.8 C306.68,445.45 308,445.97 308.4,446.2 Z" fill="#da7556" fill-opacity="0.9" stroke="none"/>
<path d="M270.6,446.2 L286.8,446.2 L286.8,446.2 C287.03,444.83 287.75,440.9 288.2,438 C288.65,435.1 289.1,431.8 289.5,428.8 C289.9,425.8 290.25,422.47 290.6,420 C290.95,417.53 291.27,415.83 291.6,414 C291.93,412.17 292.27,410.23 292.6,409 C292.93,407.77 293.22,406.35 293.6,406.6 C293.98,406.85 294.45,409.05 294.9,410.5 C295.35,411.95 295.83,413.72 296.3,415.3 C296.77,416.88 297.25,418.42 297.7,420 C298.15,421.58 298.57,423.22 299,424.8 C299.43,426.38 299.87,427.93 300.3,429.5 C300.73,431.07 301.15,432.7 301.6,434.2 C302.05,435.7 302.55,437.15 303,438.5 C303.45,439.85 303.8,441.25 304.3,442.3 C304.8,443.35 305.32,444.15 306,444.8 C306.68,445.45 308,445.97 308.4,446.2 L337.5,446.2" fill="none" stroke="#cf1f18" stroke-width="1.4" stroke-linejoin="round"/>
<rect x="270.6" y="380.8" width="66.9" height="66.2" fill="none" stroke="#000" stroke-width="1.3"/>
<path d="M271.5,447.6 v2.7 M276.5,447.6 v2.7 M278.5,447.6 v2.7 M281.5,447.6 v2.7 M283.5,447.6 v2.7 M288.5,447.6 v2.7 M290.5,447.6 v2.7 M292.5,447.6 v2.7 M297.5,447.6 v2.7 M299.5,447.6 v2.7 M302.5,447.6 v2.7 M304.5,447.6 v2.7 M306.5,447.6 v2.7 M309.5,447.6 v2.7 M313.5,447.6 v2.7 M316.5,447.6 v2.7 M318.5,447.6 v2.7 M320.5,447.6 v2.7 M323.5,447.6 v2.7 M325.5,447.6 v2.7 M330.5,447.6 v2.7 M332.5,447.6 v2.7 M335.5,447.6 v2.7 M274.5,447.6 v3.5 M285.5,447.6 v3.5 M296.5,447.6 v3.5 M312.5,447.6 v3.5 M328.5,447.6 v3.5 " stroke="#000" stroke-width="0.9" fill="none"/>
<text x="268.5" y="459.9" font-size="7.3" text-anchor="start" font-weight="normal" font-style="normal" fill="#231f20" textLength="9.2" lengthAdjust="spacingAndGlyphs" stroke="#231f20" stroke-width="0.25">-10</text>
<text x="278.1" y="456.1" font-size="4.4" text-anchor="start" font-weight="normal" font-style="normal" fill="#231f20" textLength="2.4" lengthAdjust="spacingAndGlyphs" stroke="#231f20" stroke-width="0.3">3</text>
<text x="283.2" y="459.9" font-size="7.3" text-anchor="start" font-weight="normal" font-style="normal" fill="#231f20" textLength="3.9" lengthAdjust="spacingAndGlyphs" stroke="#231f20" stroke-width="0.25">0</text>
<text x="291.9" y="459.9" font-size="7.3" text-anchor="start" font-weight="normal" font-style="normal" fill="#231f20" textLength="7.1" lengthAdjust="spacingAndGlyphs" stroke="#231f20" stroke-width="0.25">10</text>
<text x="299.4" y="456.1" font-size="4.4" text-anchor="start" font-weight="normal" font-style="normal" fill="#231f20" textLength="2.4" lengthAdjust="spacingAndGlyphs" stroke="#231f20" stroke-width="0.3">3</text>
<text x="310" y="459.9" font-size="7.3" text-anchor="start" font-weight="normal" font-style="normal" fill="#231f20" textLength="7.1" lengthAdjust="spacingAndGlyphs" stroke="#231f20" stroke-width="0.25">10</text>
<text x="317.5" y="456.1" font-size="4.4" text-anchor="start" font-weight="normal" font-style="normal" fill="#231f20" textLength="2.4" lengthAdjust="spacingAndGlyphs" stroke="#231f20" stroke-width="0.3">4</text>
<text x="326.2" y="459.9" font-size="7.3" text-anchor="start" font-weight="normal" font-style="normal" fill="#231f20" textLength="7.1" lengthAdjust="spacingAndGlyphs" stroke="#231f20" stroke-width="0.25">10</text>
<text x="333.7" y="456.1" font-size="4.4" text-anchor="start" font-weight="normal" font-style="normal" fill="#231f20" textLength="2.4" lengthAdjust="spacingAndGlyphs" stroke="#231f20" stroke-width="0.3">5</text>
<path d="M362.35,425.6 C362.35,425.54 362.29,425.44 362.35,425.25 C362.41,425.06 362.59,424.92 362.71,424.46 C362.84,424 362.96,423.47 363.08,422.47 C363.2,421.47 363.32,420.19 363.44,418.44 C363.56,416.7 363.69,414.39 363.81,411.99 C363.93,409.59 364.05,406.52 364.17,404.06 C364.29,401.6 364.41,398.82 364.54,397.23 C364.66,395.64 364.78,394.5 364.9,394.5 C365.02,394.5 365.14,395.64 365.26,397.23 C365.39,398.82 365.51,401.6 365.63,404.06 C365.75,406.52 365.87,409.59 365.99,411.99 C366.11,414.39 366.24,416.7 366.36,418.44 C366.48,420.19 366.6,421.47 366.72,422.47 C366.84,423.47 366.96,424 367.09,424.46 C367.21,424.92 367.39,425.06 367.45,425.25 C367.51,425.44 367.45,425.54 367.45,425.6 Z" fill="#6a64ab" fill-opacity="0.9" stroke="none"/>
<path d="M348.5,425.6 L362.35,425.6 L362.35,425.6 C362.35,425.54 362.29,425.44 362.35,425.25 C362.41,425.06 362.59,424.92 362.71,424.46 C362.84,424 362.96,423.47 363.08,422.47 C363.2,421.47 363.32,420.19 363.44,418.44 C363.56,416.7 363.69,414.39 363.81,411.99 C363.93,409.59 364.05,406.52 364.17,404.06 C364.29,401.6 364.41,398.82 364.54,397.23 C364.66,395.64 364.78,394.5 364.9,394.5 C365.02,394.5 365.14,395.64 365.26,397.23 C365.39,398.82 365.51,401.6 365.63,404.06 C365.75,406.52 365.87,409.59 365.99,411.99 C366.11,414.39 366.24,416.7 366.36,418.44 C366.48,420.19 366.6,421.47 366.72,422.47 C366.84,423.47 366.96,424 367.09,424.46 C367.21,424.92 367.39,425.06 367.45,425.25 C367.51,425.44 367.45,425.54 367.45,425.6 L414.6,425.6" fill="none" stroke="#33429a" stroke-width="1.3" stroke-linejoin="round"/>
<path d="M363.2,446.2 C363.35,444.33 363.82,438.8 364.1,435 C364.38,431.2 364.68,426.73 364.9,423.4 C365.12,420.07 365.23,417.47 365.4,415 C365.57,412.53 365.67,410.12 365.9,408.6 C366.13,407.08 366.5,405.33 366.8,405.9 C367.1,406.47 367.4,409.53 367.7,412 C368,414.47 368.35,418.2 368.6,420.7 C368.85,423.2 368.98,425.08 369.2,427 C369.42,428.92 369.57,430.87 369.9,432.2 C370.23,433.53 370.75,434.12 371.2,435 C371.65,435.88 372.08,436.67 372.6,437.5 C373.12,438.33 373.73,439.2 374.3,440 C374.87,440.8 375.38,441.63 376,442.3 C376.62,442.97 377.33,443.52 378,444 C378.67,444.48 379.22,444.83 380,445.2 C380.78,445.57 382.25,446.03 382.7,446.2 Z" fill="#da7556" fill-opacity="0.9" stroke="none"/>
<path d="M348.5,446.2 L363.2,446.2 L363.2,446.2 C363.35,444.33 363.82,438.8 364.1,435 C364.38,431.2 364.68,426.73 364.9,423.4 C365.12,420.07 365.23,417.47 365.4,415 C365.57,412.53 365.67,410.12 365.9,408.6 C366.13,407.08 366.5,405.33 366.8,405.9 C367.1,406.47 367.4,409.53 367.7,412 C368,414.47 368.35,418.2 368.6,420.7 C368.85,423.2 368.98,425.08 369.2,427 C369.42,428.92 369.57,430.87 369.9,432.2 C370.23,433.53 370.75,434.12 371.2,435 C371.65,435.88 372.08,436.67 372.6,437.5 C373.12,438.33 373.73,439.2 374.3,440 C374.87,440.8 375.38,441.63 376,442.3 C376.62,442.97 377.33,443.52 378,444 C378.67,444.48 379.22,444.83 380,445.2 C380.78,445.57 382.25,446.03 382.7,446.2 L414.6,446.2" fill="none" stroke="#cf1f18" stroke-width="1.4" stroke-linejoin="round"/>
<rect x="348.5" y="380.8" width="66.1" height="66.2" fill="none" stroke="#000" stroke-width="1.3"/>
<path d="M349.5,447.6 v2.7 M354.5,447.6 v2.7 M356.5,447.6 v2.7 M358.5,447.6 v2.7 M361.5,447.6 v2.7 M365.5,447.6 v2.7 M368.5,447.6 v2.7 M370.5,447.6 v2.7 M375.5,447.6 v2.7 M377.5,447.6 v2.7 M380.5,447.6 v2.7 M382.5,447.6 v2.7 M384.5,447.6 v2.7 M387.5,447.6 v2.7 M391.5,447.6 v2.7 M394.5,447.6 v2.7 M396.5,447.6 v2.7 M398.5,447.6 v2.7 M401.5,447.6 v2.7 M403.5,447.6 v2.7 M408.5,447.6 v2.7 M410.5,447.6 v2.7 M412.5,447.6 v2.7 M352.5,447.6 v3.5 M363.5,447.6 v3.5 M373.5,447.6 v3.5 M389.5,447.6 v3.5 M406.5,447.6 v3.5 " stroke="#000" stroke-width="0.9" fill="none"/>
<text x="346.4" y="459.9" font-size="7.3" text-anchor="start" font-weight="normal" font-style="normal" fill="#231f20" textLength="9.2" lengthAdjust="spacingAndGlyphs" stroke="#231f20" stroke-width="0.25">-10</text>
<text x="356" y="456.1" font-size="4.4" text-anchor="start" font-weight="normal" font-style="normal" fill="#231f20" textLength="2.4" lengthAdjust="spacingAndGlyphs" stroke="#231f20" stroke-width="0.3">3</text>
<text x="361.1" y="459.9" font-size="7.3" text-anchor="start" font-weight="normal" font-style="normal" fill="#231f20" textLength="3.9" lengthAdjust="spacingAndGlyphs" stroke="#231f20" stroke-width="0.25">0</text>
<text x="369.8" y="459.9" font-size="7.3" text-anchor="start" font-weight="normal" font-style="normal" fill="#231f20" textLength="7.1" lengthAdjust="spacingAndGlyphs" stroke="#231f20" stroke-width="0.25">10</text>
<text x="377.3" y="456.1" font-size="4.4" text-anchor="start" font-weight="normal" font-style="normal" fill="#231f20" textLength="2.4" lengthAdjust="spacingAndGlyphs" stroke="#231f20" stroke-width="0.3">3</text>
<text x="387.9" y="459.9" font-size="7.3" text-anchor="start" font-weight="normal" font-style="normal" fill="#231f20" textLength="7.1" lengthAdjust="spacingAndGlyphs" stroke="#231f20" stroke-width="0.25">10</text>
<text x="395.4" y="456.1" font-size="4.4" text-anchor="start" font-weight="normal" font-style="normal" fill="#231f20" textLength="2.4" lengthAdjust="spacingAndGlyphs" stroke="#231f20" stroke-width="0.3">4</text>
<text x="404.1" y="459.9" font-size="7.3" text-anchor="start" font-weight="normal" font-style="normal" fill="#231f20" textLength="7.1" lengthAdjust="spacingAndGlyphs" stroke="#231f20" stroke-width="0.25">10</text>
<text x="411.6" y="456.1" font-size="4.4" text-anchor="start" font-weight="normal" font-style="normal" fill="#231f20" textLength="2.4" lengthAdjust="spacingAndGlyphs" stroke="#231f20" stroke-width="0.3">5</text>
<path d="M442.35,425.6 C442.35,425.53 442.28,425.41 442.35,425.17 C442.42,424.94 442.62,424.77 442.76,424.2 C442.89,423.62 443.03,422.98 443.16,421.74 C443.3,420.51 443.44,418.94 443.57,416.79 C443.71,414.64 443.84,411.79 443.98,408.84 C444.11,405.89 444.25,402.1 444.39,399.07 C444.52,396.04 444.66,392.62 444.79,390.66 C444.93,388.7 445.06,387.3 445.2,387.3 C445.34,387.3 445.47,388.7 445.61,390.66 C445.74,392.62 445.88,396.04 446.01,399.07 C446.15,402.1 446.29,405.89 446.42,408.84 C446.56,411.79 446.69,414.64 446.83,416.79 C446.96,418.94 447.1,420.51 447.24,421.74 C447.37,422.98 447.51,423.62 447.64,424.2 C447.78,424.77 447.98,424.94 448.05,425.17 C448.12,425.41 448.05,425.53 448.05,425.6 Z" fill="#6a64ab" fill-opacity="0.9" stroke="none"/>
<path d="M426,425.6 L442.35,425.6 L442.35,425.6 C442.35,425.53 442.28,425.41 442.35,425.17 C442.42,424.94 442.62,424.77 442.76,424.2 C442.89,423.62 443.03,422.98 443.16,421.74 C443.3,420.51 443.44,418.94 443.57,416.79 C443.71,414.64 443.84,411.79 443.98,408.84 C444.11,405.89 444.25,402.1 444.39,399.07 C444.52,396.04 444.66,392.62 444.79,390.66 C444.93,388.7 445.06,387.3 445.2,387.3 C445.34,387.3 445.47,388.7 445.61,390.66 C445.74,392.62 445.88,396.04 446.01,399.07 C446.15,402.1 446.29,405.89 446.42,408.84 C446.56,411.79 446.69,414.64 446.83,416.79 C446.96,418.94 447.1,420.51 447.24,421.74 C447.37,422.98 447.51,423.62 447.64,424.2 C447.78,424.77 447.98,424.94 448.05,425.17 C448.12,425.41 448.05,425.53 448.05,425.6 L492.9,425.6" fill="none" stroke="#33429a" stroke-width="1.3" stroke-linejoin="round"/>
<path d="M443.2,446.2 C443.4,444.5 444,439.57 444.4,436 C444.8,432.43 445.28,427.97 445.6,424.8 C445.92,421.63 446.07,419.25 446.3,417 C446.53,414.75 446.77,413.05 447,411.3 C447.23,409.55 447.48,407.62 447.7,406.5 C447.92,405.38 448.07,404.52 448.3,404.6 C448.53,404.68 448.83,405.88 449.1,407 C449.37,408.12 449.6,409.3 449.9,411.3 C450.2,413.3 450.57,416.3 450.9,419 C451.23,421.7 451.52,425 451.9,427.5 C452.28,430 452.75,431.98 453.2,434 C453.65,436.02 454.08,438.13 454.6,439.6 C455.12,441.07 455.73,441.9 456.3,442.8 C456.87,443.7 457.27,444.43 458,445 C458.73,445.57 460.25,446 460.7,446.2 Z" fill="#da7556" fill-opacity="0.9" stroke="none"/>
<path d="M426,446.2 L443.2,446.2 L443.2,446.2 C443.4,444.5 444,439.57 444.4,436 C444.8,432.43 445.28,427.97 445.6,424.8 C445.92,421.63 446.07,419.25 446.3,417 C446.53,414.75 446.77,413.05 447,411.3 C447.23,409.55 447.48,407.62 447.7,406.5 C447.92,405.38 448.07,404.52 448.3,404.6 C448.53,404.68 448.83,405.88 449.1,407 C449.37,408.12 449.6,409.3 449.9,411.3 C450.2,413.3 450.57,416.3 450.9,419 C451.23,421.7 451.52,425 451.9,427.5 C452.28,430 452.75,431.98 453.2,434 C453.65,436.02 454.08,438.13 454.6,439.6 C455.12,441.07 455.73,441.9 456.3,442.8 C456.87,443.7 457.27,444.43 458,445 C458.73,445.57 460.25,446 460.7,446.2 L492.9,446.2" fill="none" stroke="#cf1f18" stroke-width="1.4" stroke-linejoin="round"/>
<rect x="426" y="380.8" width="66.9" height="66.2" fill="none" stroke="#000" stroke-width="1.3"/>
<path d="M427.5,447.6 v2.7 M431.5,447.6 v2.7 M434.5,447.6 v2.7 M436.5,447.6 v2.7 M438.5,447.6 v2.7 M443.5,447.6 v2.7 M445.5,447.6 v2.7 M448.5,447.6 v2.7 M452.5,447.6 v2.7 M455.5,447.6 v2.7 M457.5,447.6 v2.7 M459.5,447.6 v2.7 M462.5,447.6 v2.7 M464.5,447.6 v2.7 M469.5,447.6 v2.7 M471.5,447.6 v2.7 M474.5,447.6 v2.7 M476.5,447.6 v2.7 M478.5,447.6 v2.7 M481.5,447.6 v2.7 M485.5,447.6 v2.7 M488.5,447.6 v2.7 M490.5,447.6 v2.7 M429.5,447.6 v3.5 M440.5,447.6 v3.5 M451.5,447.6 v3.5 M467.5,447.6 v3.5 M483.5,447.6 v3.5 " stroke="#000" stroke-width="0.9" fill="none"/>
<text x="423.9" y="459.9" font-size="7.3" text-anchor="start" font-weight="normal" font-style="normal" fill="#231f20" textLength="9.2" lengthAdjust="spacingAndGlyphs" stroke="#231f20" stroke-width="0.25">-10</text>
<text x="433.5" y="456.1" font-size="4.4" text-anchor="start" font-weight="normal" font-style="normal" fill="#231f20" textLength="2.4" lengthAdjust="spacingAndGlyphs" stroke="#231f20" stroke-width="0.3">3</text>
<text x="438.6" y="459.9" font-size="7.3" text-anchor="start" font-weight="normal" font-style="normal" fill="#231f20" textLength="3.9" lengthAdjust="spacingAndGlyphs" stroke="#231f20" stroke-width="0.25">0</text>
<text x="447.3" y="459.9" font-size="7.3" text-anchor="start" font-weight="normal" font-style="normal" fill="#231f20" textLength="7.1" lengthAdjust="spacingAndGlyphs" stroke="#231f20" stroke-width="0.25">10</text>
<text x="454.8" y="456.1" font-size="4.4" text-anchor="start" font-weight="normal" font-style="normal" fill="#231f20" textLength="2.4" lengthAdjust="spacingAndGlyphs" stroke="#231f20" stroke-width="0.3">3</text>
<text x="465.4" y="459.9" font-size="7.3" text-anchor="start" font-weight="normal" font-style="normal" fill="#231f20" textLength="7.1" lengthAdjust="spacingAndGlyphs" stroke="#231f20" stroke-width="0.25">10</text>
<text x="472.9" y="456.1" font-size="4.4" text-anchor="start" font-weight="normal" font-style="normal" fill="#231f20" textLength="2.4" lengthAdjust="spacingAndGlyphs" stroke="#231f20" stroke-width="0.3">4</text>
<text x="481.6" y="459.9" font-size="7.3" text-anchor="start" font-weight="normal" font-style="normal" fill="#231f20" textLength="7.1" lengthAdjust="spacingAndGlyphs" stroke="#231f20" stroke-width="0.25">10</text>
<text x="489.1" y="456.1" font-size="4.4" text-anchor="start" font-weight="normal" font-style="normal" fill="#231f20" textLength="2.4" lengthAdjust="spacingAndGlyphs" stroke="#231f20" stroke-width="0.3">5</text>
<text x="33.8" y="425.1" font-size="7.7" text-anchor="end" font-weight="normal" font-style="normal" fill="#231f20" textLength="12.8" lengthAdjust="spacingAndGlyphs" stroke="#231f20" stroke-width="0.18">PBS</text>
<text x="33.8" y="446.4" font-size="7.7" text-anchor="end" font-weight="normal" font-style="normal" fill="#231f20" textLength="8.2" lengthAdjust="spacingAndGlyphs" stroke="#231f20" stroke-width="0.18">SE</text>
<line x1="37.3" y1="465.1" x2="490.6" y2="465.1" stroke="#505050" stroke-width="1.4"/>
<path d="M494.6,465.1 L488.6,462.8 L488.6,467.4 Z" fill="#000"/>
<text x="226.8" y="476" font-size="8.5" text-anchor="start" font-weight="normal" font-style="normal" fill="#231f20" textLength="52.4" lengthAdjust="spacingAndGlyphs" stroke="#231f20" stroke-width="0.18">CD122 (IL2R-&#946;)</text>
<text x="281.2" y="476" font-size="8.5" text-anchor="start" font-weight="bold" font-style="italic" fill="#231f20" textLength="20.7" lengthAdjust="spacingAndGlyphs">BB515</text>
<path d="M49.5,535 C49.5,534.97 49.17,534.93 49.5,534.8 C49.83,534.67 50.83,534.48 51.5,534.2 C52.17,533.92 52.92,533.63 53.5,533.1 C54.08,532.57 54.55,531.78 55,531 C55.45,530.22 55.87,529.57 56.2,528.4 C56.53,527.23 56.78,525.57 57,524 C57.22,522.43 57.3,520.67 57.5,519 C57.7,517.33 57.97,515.58 58.2,514 C58.43,512.42 58.67,510.35 58.9,509.5 C59.13,508.65 59.38,508.9 59.6,508.9 C59.82,508.9 59.98,509.28 60.2,509.5 C60.42,509.72 60.57,510.53 60.9,510.2 C61.23,509.87 61.75,508.22 62.2,507.5 C62.65,506.78 63.15,506.02 63.6,505.9 C64.05,505.78 64.57,506.12 64.9,506.8 C65.23,507.48 65.37,508.65 65.6,510 C65.83,511.35 66.07,513.4 66.3,514.9 C66.53,516.4 66.78,517.65 67,519 C67.22,520.35 67.33,521.67 67.6,523 C67.87,524.33 68.27,525.88 68.6,527 C68.93,528.12 69.27,528.78 69.6,529.7 C69.93,530.62 70.25,531.65 70.6,532.5 C70.95,533.35 71.52,534.38 71.7,534.8 C71.88,535.22 71.7,534.97 71.7,535 Z" fill="#6a64ab" fill-opacity="0.9" stroke="none"/>
<path d="M38.2,535 L49.5,535 L49.5,535 C49.5,534.97 49.17,534.93 49.5,534.8 C49.83,534.67 50.83,534.48 51.5,534.2 C52.17,533.92 52.92,533.63 53.5,533.1 C54.08,532.57 54.55,531.78 55,531 C55.45,530.22 55.87,529.57 56.2,528.4 C56.53,527.23 56.78,525.57 57,524 C57.22,522.43 57.3,520.67 57.5,519 C57.7,517.33 57.97,515.58 58.2,514 C58.43,512.42 58.67,510.35 58.9,509.5 C59.13,508.65 59.38,508.9 59.6,508.9 C59.82,508.9 59.98,509.28 60.2,509.5 C60.42,509.72 60.57,510.53 60.9,510.2 C61.23,509.87 61.75,508.22 62.2,507.5 C62.65,506.78 63.15,506.02 63.6,505.9 C64.05,505.78 64.57,506.12 64.9,506.8 C65.23,507.48 65.37,508.65 65.6,510 C65.83,511.35 66.07,513.4 66.3,514.9 C66.53,516.4 66.78,517.65 67,519 C67.22,520.35 67.33,521.67 67.6,523 C67.87,524.33 68.27,525.88 68.6,527 C68.93,528.12 69.27,528.78 69.6,529.7 C69.93,530.62 70.25,531.65 70.6,532.5 C70.95,533.35 71.52,534.38 71.7,534.8 C71.88,535.22 71.7,534.97 71.7,535 L104.7,535" fill="none" stroke="#33429a" stroke-width="1.3" stroke-linejoin="round"/>
<path d="M38.7,555.5 C38.7,555.45 37.65,555.28 38.7,555.2 C39.75,555.12 42.78,555.07 45,555 C47.22,554.93 50.13,554.87 52,554.8 C53.87,554.73 55.12,554.98 56.2,554.6 C57.28,554.22 57.72,553.17 58.5,552.5 C59.28,551.83 60.17,550.98 60.9,550.6 C61.63,550.22 62.38,550.97 62.9,550.2 C63.42,549.43 63.67,547.4 64,546 C64.33,544.6 64.6,543.63 64.9,541.8 C65.2,539.97 65.5,537.23 65.8,535 C66.1,532.77 66.42,529.98 66.7,528.4 C66.98,526.82 67.23,526.18 67.5,525.5 C67.77,524.82 68.03,524.38 68.3,524.3 C68.57,524.22 68.83,524.65 69.1,525 C69.37,525.35 69.62,526.57 69.9,526.4 C70.18,526.23 70.5,524.62 70.8,524 C71.1,523.38 71.45,522.53 71.7,522.7 C71.95,522.87 72.08,524.17 72.3,525 C72.52,525.83 72.72,527.12 73,527.7 C73.28,528.28 73.7,528.28 74,528.5 C74.3,528.72 74.53,528.25 74.8,529 C75.07,529.75 75.33,531.53 75.6,533 C75.87,534.47 76.05,536.63 76.4,537.8 C76.75,538.97 77.25,539.22 77.7,540 C78.15,540.78 78.63,541.58 79.1,542.5 C79.57,543.42 80.05,544.48 80.5,545.5 C80.95,546.52 81.3,547.52 81.8,548.6 C82.3,549.68 82.83,550.85 83.5,552 C84.17,553.15 85.42,554.92 85.8,555.5 Z" fill="#da7556" fill-opacity="0.9" stroke="none"/>
<path d="M38.2,555.5 L38.7,555.5 L38.7,555.5 C38.7,555.45 37.65,555.28 38.7,555.2 C39.75,555.12 42.78,555.07 45,555 C47.22,554.93 50.13,554.87 52,554.8 C53.87,554.73 55.12,554.98 56.2,554.6 C57.28,554.22 57.72,553.17 58.5,552.5 C59.28,551.83 60.17,550.98 60.9,550.6 C61.63,550.22 62.38,550.97 62.9,550.2 C63.42,549.43 63.67,547.4 64,546 C64.33,544.6 64.6,543.63 64.9,541.8 C65.2,539.97 65.5,537.23 65.8,535 C66.1,532.77 66.42,529.98 66.7,528.4 C66.98,526.82 67.23,526.18 67.5,525.5 C67.77,524.82 68.03,524.38 68.3,524.3 C68.57,524.22 68.83,524.65 69.1,525 C69.37,525.35 69.62,526.57 69.9,526.4 C70.18,526.23 70.5,524.62 70.8,524 C71.1,523.38 71.45,522.53 71.7,522.7 C71.95,522.87 72.08,524.17 72.3,525 C72.52,525.83 72.72,527.12 73,527.7 C73.28,528.28 73.7,528.28 74,528.5 C74.3,528.72 74.53,528.25 74.8,529 C75.07,529.75 75.33,531.53 75.6,533 C75.87,534.47 76.05,536.63 76.4,537.8 C76.75,538.97 77.25,539.22 77.7,540 C78.15,540.78 78.63,541.58 79.1,542.5 C79.57,543.42 80.05,544.48 80.5,545.5 C80.95,546.52 81.3,547.52 81.8,548.6 C82.3,549.68 82.83,550.85 83.5,552 C84.17,553.15 85.42,554.92 85.8,555.5 L104.7,555.5" fill="none" stroke="#cf1f18" stroke-width="1.4" stroke-linejoin="round"/>
<rect x="38.2" y="490.1" width="66.5" height="66.2" fill="none" stroke="#000" stroke-width="1.3"/>
<path d="M39.5,556.9 v2.7 M43.5,556.9 v2.7 M46.5,556.9 v2.7 M48.5,556.9 v2.7 M50.5,556.9 v2.7 M55.5,556.9 v2.7 M58.5,556.9 v2.7 M60.5,556.9 v2.7 M65.5,556.9 v2.7 M67.5,556.9 v2.7 M69.5,556.9 v2.7 M72.5,556.9 v2.7 M74.5,556.9 v2.7 M76.5,556.9 v2.7 M81.5,556.9 v2.7 M83.5,556.9 v2.7 M86.5,556.9 v2.7 M88.5,556.9 v2.7 M90.5,556.9 v2.7 M93.5,556.9 v2.7 M97.5,556.9 v2.7 M100.5,556.9 v2.7 M102.5,556.9 v2.7 M42.5,556.9 v3.5 M52.5,556.9 v3.5 M63.5,556.9 v3.5 M79.5,556.9 v3.5 M96.5,556.9 v3.5 " stroke="#000" stroke-width="0.9" fill="none"/>
<text x="36.1" y="569.2" font-size="7.3" text-anchor="start" font-weight="normal" font-style="normal" fill="#231f20" textLength="9.2" lengthAdjust="spacingAndGlyphs" stroke="#231f20" stroke-width="0.25">-10</text>
<text x="45.7" y="565.4" font-size="4.4" text-anchor="start" font-weight="normal" font-style="normal" fill="#231f20" textLength="2.4" lengthAdjust="spacingAndGlyphs" stroke="#231f20" stroke-width="0.3">3</text>
<text x="50.8" y="569.2" font-size="7.3" text-anchor="start" font-weight="normal" font-style="normal" fill="#231f20" textLength="3.9" lengthAdjust="spacingAndGlyphs" stroke="#231f20" stroke-width="0.25">0</text>
<text x="59.5" y="569.2" font-size="7.3" text-anchor="start" font-weight="normal" font-style="normal" fill="#231f20" textLength="7.1" lengthAdjust="spacingAndGlyphs" stroke="#231f20" stroke-width="0.25">10</text>
<text x="67" y="565.4" font-size="4.4" text-anchor="start" font-weight="normal" font-style="normal" fill="#231f20" textLength="2.4" lengthAdjust="spacingAndGlyphs" stroke="#231f20" stroke-width="0.3">3</text>
<text x="77.6" y="569.2" font-size="7.3" text-anchor="start" font-weight="normal" font-style="normal" fill="#231f20" textLength="7.1" lengthAdjust="spacingAndGlyphs" stroke="#231f20" stroke-width="0.25">10</text>
<text x="85.1" y="565.4" font-size="4.4" text-anchor="start" font-weight="normal" font-style="normal" fill="#231f20" textLength="2.4" lengthAdjust="spacingAndGlyphs" stroke="#231f20" stroke-width="0.3">4</text>
<text x="93.8" y="569.2" font-size="7.3" text-anchor="start" font-weight="normal" font-style="normal" fill="#231f20" textLength="7.1" lengthAdjust="spacingAndGlyphs" stroke="#231f20" stroke-width="0.25">10</text>
<text x="101.3" y="565.4" font-size="4.4" text-anchor="start" font-weight="normal" font-style="normal" fill="#231f20" textLength="2.4" lengthAdjust="spacingAndGlyphs" stroke="#231f20" stroke-width="0.3">5</text>
<path d="M128.8,535 C128.8,534.97 128.35,534.97 128.8,534.8 C129.25,534.63 130.6,534.4 131.5,534 C132.4,533.6 133.45,533.07 134.2,532.4 C134.95,531.73 135.43,530.9 136,530 C136.57,529.1 137.1,528.08 137.6,527 C138.1,525.92 138.57,524.83 139,523.5 C139.43,522.17 139.77,520.75 140.2,519 C140.63,517.25 141.15,515.03 141.6,513 C142.05,510.97 142.5,508.72 142.9,506.8 C143.3,504.88 143.62,503.07 144,501.5 C144.38,499.93 144.75,498.57 145.2,497.4 C145.65,496.23 146.18,494.38 146.7,494.5 C147.22,494.62 147.92,496.93 148.3,498.1 C148.68,499.27 148.77,500.27 149,501.5 C149.23,502.73 149.48,503.83 149.7,505.5 C149.92,507.17 150.08,509.48 150.3,511.5 C150.52,513.52 150.72,515.6 151,517.6 C151.28,519.6 151.67,521.7 152,523.5 C152.33,525.3 152.62,526.98 153,528.4 C153.38,529.82 153.85,530.93 154.3,532 C154.75,533.07 155.47,534.3 155.7,534.8 C155.93,535.3 155.7,534.97 155.7,535 Z" fill="#6a64ab" fill-opacity="0.9" stroke="none"/>
<path d="M115.4,535 L128.8,535 L128.8,535 C128.8,534.97 128.35,534.97 128.8,534.8 C129.25,534.63 130.6,534.4 131.5,534 C132.4,533.6 133.45,533.07 134.2,532.4 C134.95,531.73 135.43,530.9 136,530 C136.57,529.1 137.1,528.08 137.6,527 C138.1,525.92 138.57,524.83 139,523.5 C139.43,522.17 139.77,520.75 140.2,519 C140.63,517.25 141.15,515.03 141.6,513 C142.05,510.97 142.5,508.72 142.9,506.8 C143.3,504.88 143.62,503.07 144,501.5 C144.38,499.93 144.75,498.57 145.2,497.4 C145.65,496.23 146.18,494.38 146.7,494.5 C147.22,494.62 147.92,496.93 148.3,498.1 C148.68,499.27 148.77,500.27 149,501.5 C149.23,502.73 149.48,503.83 149.7,505.5 C149.92,507.17 150.08,509.48 150.3,511.5 C150.52,513.52 150.72,515.6 151,517.6 C151.28,519.6 151.67,521.7 152,523.5 C152.33,525.3 152.62,526.98 153,528.4 C153.38,529.82 153.85,530.93 154.3,532 C154.75,533.07 155.47,534.3 155.7,534.8 C155.93,535.3 155.7,534.97 155.7,535 L182.3,535" fill="none" stroke="#33429a" stroke-width="1.3" stroke-linejoin="round"/>
<path d="M131.5,555.5 C131.5,555.47 130.75,555.42 131.5,555.3 C132.25,555.18 134.43,555.25 136,554.8 C137.57,554.35 139.65,553.27 140.9,552.6 C142.15,551.93 142.6,551.47 143.5,550.8 C144.4,550.13 145.55,549.65 146.3,548.6 C147.05,547.55 147.43,546.08 148,544.5 C148.57,542.92 149.25,541.18 149.7,539.1 C150.15,537.02 150.37,534.23 150.7,532 C151.03,529.77 151.38,527.78 151.7,525.7 C152.02,523.62 152.32,521.07 152.6,519.5 C152.88,517.93 153.13,516.47 153.4,516.3 C153.67,516.13 153.93,517.38 154.2,518.5 C154.47,519.62 154.72,521.08 155,523 C155.28,524.92 155.6,527.53 155.9,530 C156.2,532.47 156.45,535.38 156.8,537.8 C157.15,540.22 157.62,542.37 158,544.5 C158.38,546.63 158.65,549.1 159.1,550.6 C159.55,552.1 160.13,552.68 160.7,553.5 C161.27,554.32 162.2,555.17 162.5,555.5 Z" fill="#da7556" fill-opacity="0.9" stroke="none"/>
<path d="M115.4,555.5 L131.5,555.5 L131.5,555.5 C131.5,555.47 130.75,555.42 131.5,555.3 C132.25,555.18 134.43,555.25 136,554.8 C137.57,554.35 139.65,553.27 140.9,552.6 C142.15,551.93 142.6,551.47 143.5,550.8 C144.4,550.13 145.55,549.65 146.3,548.6 C147.05,547.55 147.43,546.08 148,544.5 C148.57,542.92 149.25,541.18 149.7,539.1 C150.15,537.02 150.37,534.23 150.7,532 C151.03,529.77 151.38,527.78 151.7,525.7 C152.02,523.62 152.32,521.07 152.6,519.5 C152.88,517.93 153.13,516.47 153.4,516.3 C153.67,516.13 153.93,517.38 154.2,518.5 C154.47,519.62 154.72,521.08 155,523 C155.28,524.92 155.6,527.53 155.9,530 C156.2,532.47 156.45,535.38 156.8,537.8 C157.15,540.22 157.62,542.37 158,544.5 C158.38,546.63 158.65,549.1 159.1,550.6 C159.55,552.1 160.13,552.68 160.7,553.5 C161.27,554.32 162.2,555.17 162.5,555.5 L182.3,555.5" fill="none" stroke="#cf1f18" stroke-width="1.4" stroke-linejoin="round"/>
<rect x="115.4" y="490.1" width="66.9" height="66.2" fill="none" stroke="#000" stroke-width="1.3"/>
<path d="M116.5,556.9 v2.7 M121.5,556.9 v2.7 M123.5,556.9 v2.7 M125.5,556.9 v2.7 M128.5,556.9 v2.7 M132.5,556.9 v2.7 M135.5,556.9 v2.7 M137.5,556.9 v2.7 M142.5,556.9 v2.7 M144.5,556.9 v2.7 M146.5,556.9 v2.7 M149.5,556.9 v2.7 M151.5,556.9 v2.7 M153.5,556.9 v2.7 M158.5,556.9 v2.7 M161.5,556.9 v2.7 M163.5,556.9 v2.7 M165.5,556.9 v2.7 M168.5,556.9 v2.7 M170.5,556.9 v2.7 M175.5,556.9 v2.7 M177.5,556.9 v2.7 M179.5,556.9 v2.7 M119.5,556.9 v3.5 M130.5,556.9 v3.5 M140.5,556.9 v3.5 M156.5,556.9 v3.5 M173.5,556.9 v3.5 " stroke="#000" stroke-width="0.9" fill="none"/>
<text x="113.3" y="569.2" font-size="7.3" text-anchor="start" font-weight="normal" font-style="normal" fill="#231f20" textLength="9.2" lengthAdjust="spacingAndGlyphs" stroke="#231f20" stroke-width="0.25">-10</text>
<text x="122.9" y="565.4" font-size="4.4" text-anchor="start" font-weight="normal" font-style="normal" fill="#231f20" textLength="2.4" lengthAdjust="spacingAndGlyphs" stroke="#231f20" stroke-width="0.3">3</text>
<text x="128" y="569.2" font-size="7.3" text-anchor="start" font-weight="normal" font-style="normal" fill="#231f20" textLength="3.9" lengthAdjust="spacingAndGlyphs" stroke="#231f20" stroke-width="0.25">0</text>
<text x="136.7" y="569.2" font-size="7.3" text-anchor="start" font-weight="normal" font-style="normal" fill="#231f20" textLength="7.1" lengthAdjust="spacingAndGlyphs" stroke="#231f20" stroke-width="0.25">10</text>
<text x="144.2" y="565.4" font-size="4.4" text-anchor="start" font-weight="normal" font-style="normal" fill="#231f20" textLength="2.4" lengthAdjust="spacingAndGlyphs" stroke="#231f20" stroke-width="0.3">3</text>
<text x="154.8" y="569.2" font-size="7.3" text-anchor="start" font-weight="normal" font-style="normal" fill="#231f20" textLength="7.1" lengthAdjust="spacingAndGlyphs" stroke="#231f20" stroke-width="0.25">10</text>
<text x="162.3" y="565.4" font-size="4.4" text-anchor="start" font-weight="normal" font-style="normal" fill="#231f20" textLength="2.4" lengthAdjust="spacingAndGlyphs" stroke="#231f20" stroke-width="0.3">4</text>
<text x="171" y="569.2" font-size="7.3" text-anchor="start" font-weight="normal" font-style="normal" fill="#231f20" textLength="7.1" lengthAdjust="spacingAndGlyphs" stroke="#231f20" stroke-width="0.25">10</text>
<text x="178.5" y="565.4" font-size="4.4" text-anchor="start" font-weight="normal" font-style="normal" fill="#231f20" textLength="2.4" lengthAdjust="spacingAndGlyphs" stroke="#231f20" stroke-width="0.3">5</text>
<path d="M207.2,535 C207.2,534.97 206.9,535 207.2,534.8 C207.5,534.6 208.33,534.42 209,533.8 C209.67,533.18 210.53,532.32 211.2,531.1 C211.87,529.88 212.43,528.08 213,526.5 C213.57,524.92 214.17,522.85 214.6,521.6 C215.03,520.35 215.27,519.88 215.6,519 C215.93,518.12 216.22,517.25 216.6,516.3 C216.98,515.35 217.52,513.6 217.9,513.3 C218.28,513 218.57,514 218.9,514.5 C219.23,515 219.52,515.38 219.9,516.3 C220.28,517.22 220.75,518.77 221.2,520 C221.65,521.23 222.13,522.87 222.6,523.7 C223.07,524.53 223.55,524.55 224,525 C224.45,525.45 224.75,525.83 225.3,526.4 C225.85,526.97 226.73,527.72 227.3,528.4 C227.87,529.08 228.25,529.83 228.7,530.5 C229.15,531.17 229.28,531.85 230,532.4 C230.72,532.95 232,533.55 233,533.8 C234,534.05 234.92,533.9 236,533.9 C237.08,533.9 238.53,533.72 239.5,533.8 C240.47,533.88 241.02,534.23 241.8,534.4 C242.58,534.57 243.8,534.7 244.2,534.8 C244.6,534.9 244.2,534.97 244.2,535 Z" fill="#6a64ab" fill-opacity="0.9" stroke="none"/>
<path d="M193.6,535 L207.2,535 L207.2,535 C207.2,534.97 206.9,535 207.2,534.8 C207.5,534.6 208.33,534.42 209,533.8 C209.67,533.18 210.53,532.32 211.2,531.1 C211.87,529.88 212.43,528.08 213,526.5 C213.57,524.92 214.17,522.85 214.6,521.6 C215.03,520.35 215.27,519.88 215.6,519 C215.93,518.12 216.22,517.25 216.6,516.3 C216.98,515.35 217.52,513.6 217.9,513.3 C218.28,513 218.57,514 218.9,514.5 C219.23,515 219.52,515.38 219.9,516.3 C220.28,517.22 220.75,518.77 221.2,520 C221.65,521.23 222.13,522.87 222.6,523.7 C223.07,524.53 223.55,524.55 224,525 C224.45,525.45 224.75,525.83 225.3,526.4 C225.85,526.97 226.73,527.72 227.3,528.4 C227.87,529.08 228.25,529.83 228.7,530.5 C229.15,531.17 229.28,531.85 230,532.4 C230.72,532.95 232,533.55 233,533.8 C234,534.05 234.92,533.9 236,533.9 C237.08,533.9 238.53,533.72 239.5,533.8 C240.47,533.88 241.02,534.23 241.8,534.4 C242.58,534.57 243.8,534.7 244.2,534.8 C244.6,534.9 244.2,534.97 244.2,535 L260,535" fill="none" stroke="#33429a" stroke-width="1.3" stroke-linejoin="round"/>
<path d="M201.8,555.5 C201.8,555.48 200.77,555.48 201.8,555.4 C202.83,555.32 205.77,555.23 208,555 C210.23,554.77 213.37,554.37 215.2,554 C217.03,553.63 217.65,553.25 219,552.8 C220.35,552.35 222.18,551.77 223.3,551.3 C224.42,550.83 224.92,550.45 225.7,550 C226.48,549.55 227.38,549.35 228,548.6 C228.62,547.85 228.95,546.63 229.4,545.5 C229.85,544.37 230.32,543.55 230.7,541.8 C231.08,540.05 231.37,537.23 231.7,535 C232.03,532.77 232.4,530.4 232.7,528.4 C233,526.4 233.23,524.57 233.5,523 C233.77,521.43 234.05,520.08 234.3,519 C234.55,517.92 234.75,517.18 235,516.5 C235.25,515.82 235.53,514.82 235.8,514.9 C236.07,514.98 236.33,516.1 236.6,517 C236.87,517.9 237.1,518.47 237.4,520.3 C237.7,522.13 238.05,525.3 238.4,528 C238.75,530.7 239.15,533.92 239.5,536.5 C239.85,539.08 240.17,541.27 240.5,543.5 C240.83,545.73 241.08,548.23 241.5,549.9 C241.92,551.57 242.45,552.57 243,553.5 C243.55,554.43 244.5,555.17 244.8,555.5 Z" fill="#da7556" fill-opacity="0.9" stroke="none"/>
<path d="M193.6,555.5 L201.8,555.5 L201.8,555.5 C201.8,555.48 200.77,555.48 201.8,555.4 C202.83,555.32 205.77,555.23 208,555 C210.23,554.77 213.37,554.37 215.2,554 C217.03,553.63 217.65,553.25 219,552.8 C220.35,552.35 222.18,551.77 223.3,551.3 C224.42,550.83 224.92,550.45 225.7,550 C226.48,549.55 227.38,549.35 228,548.6 C228.62,547.85 228.95,546.63 229.4,545.5 C229.85,544.37 230.32,543.55 230.7,541.8 C231.08,540.05 231.37,537.23 231.7,535 C232.03,532.77 232.4,530.4 232.7,528.4 C233,526.4 233.23,524.57 233.5,523 C233.77,521.43 234.05,520.08 234.3,519 C234.55,517.92 234.75,517.18 235,516.5 C235.25,515.82 235.53,514.82 235.8,514.9 C236.07,514.98 236.33,516.1 236.6,517 C236.87,517.9 237.1,518.47 237.4,520.3 C237.7,522.13 238.05,525.3 238.4,528 C238.75,530.7 239.15,533.92 239.5,536.5 C239.85,539.08 240.17,541.27 240.5,543.5 C240.83,545.73 241.08,548.23 241.5,549.9 C241.92,551.57 242.45,552.57 243,553.5 C243.55,554.43 244.5,555.17 244.8,555.5 L260,555.5" fill="none" stroke="#cf1f18" stroke-width="1.4" stroke-linejoin="round"/>
<rect x="193.6" y="490.1" width="66.4" height="66.2" fill="none" stroke="#000" stroke-width="1.3"/>
<path d="M194.5,556.9 v2.7 M199.5,556.9 v2.7 M201.5,556.9 v2.7 M203.5,556.9 v2.7 M206.5,556.9 v2.7 M211.5,556.9 v2.7 M213.5,556.9 v2.7 M215.5,556.9 v2.7 M220.5,556.9 v2.7 M222.5,556.9 v2.7 M225.5,556.9 v2.7 M227.5,556.9 v2.7 M229.5,556.9 v2.7 M232.5,556.9 v2.7 M236.5,556.9 v2.7 M239.5,556.9 v2.7 M241.5,556.9 v2.7 M243.5,556.9 v2.7 M246.5,556.9 v2.7 M248.5,556.9 v2.7 M253.5,556.9 v2.7 M255.5,556.9 v2.7 M258.5,556.9 v2.7 M197.5,556.9 v3.5 M208.5,556.9 v3.5 M219.5,556.9 v3.5 M235.5,556.9 v3.5 M251.5,556.9 v3.5 " stroke="#000" stroke-width="0.9" fill="none"/>
<text x="191.5" y="569.2" font-size="7.3" text-anchor="start" font-weight="normal" font-style="normal" fill="#231f20" textLength="9.2" lengthAdjust="spacingAndGlyphs" stroke="#231f20" stroke-width="0.25">-10</text>
<text x="201.1" y="565.4" font-size="4.4" text-anchor="start" font-weight="normal" font-style="normal" fill="#231f20" textLength="2.4" lengthAdjust="spacingAndGlyphs" stroke="#231f20" stroke-width="0.3">3</text>
<text x="206.2" y="569.2" font-size="7.3" text-anchor="start" font-weight="normal" font-style="normal" fill="#231f20" textLength="3.9" lengthAdjust="spacingAndGlyphs" stroke="#231f20" stroke-width="0.25">0</text>
<text x="214.9" y="569.2" font-size="7.3" text-anchor="start" font-weight="normal" font-style="normal" fill="#231f20" textLength="7.1" lengthAdjust="spacingAndGlyphs" stroke="#231f20" stroke-width="0.25">10</text>
<text x="222.4" y="565.4" font-size="4.4" text-anchor="start" font-weight="normal" font-style="normal" fill="#231f20" textLength="2.4" lengthAdjust="spacingAndGlyphs" stroke="#231f20" stroke-width="0.3">3</text>
<text x="233" y="569.2" font-size="7.3" text-anchor="start" font-weight="normal" font-style="normal" fill="#231f20" textLength="7.1" lengthAdjust="spacingAndGlyphs" stroke="#231f20" stroke-width="0.25">10</text>
<text x="240.5" y="565.4" font-size="4.4" text-anchor="start" font-weight="normal" font-style="normal" fill="#231f20" textLength="2.4" lengthAdjust="spacingAndGlyphs" stroke="#231f20" stroke-width="0.3">4</text>
<text x="249.2" y="569.2" font-size="7.3" text-anchor="start" font-weight="normal" font-style="normal" fill="#231f20" textLength="7.1" lengthAdjust="spacingAndGlyphs" stroke="#231f20" stroke-width="0.25">10</text>
<text x="256.7" y="565.4" font-size="4.4" text-anchor="start" font-weight="normal" font-style="normal" fill="#231f20" textLength="2.4" lengthAdjust="spacingAndGlyphs" stroke="#231f20" stroke-width="0.3">5</text>
<path d="M285.5,535 C285.5,534.97 285.08,535 285.5,534.8 C285.92,534.6 287.22,534.2 288,533.8 C288.78,533.4 289.53,532.9 290.2,532.4 C290.87,531.9 291.43,531.25 292,530.8 C292.57,530.35 293.1,530.03 293.6,529.7 C294.1,529.37 294.55,529.13 295,528.8 C295.45,528.47 295.92,528.25 296.3,527.7 C296.68,527.15 296.97,526.28 297.3,525.5 C297.63,524.72 297.98,524.42 298.3,523 C298.62,521.58 298.92,519.02 299.2,517 C299.48,514.98 299.75,512.73 300,510.9 C300.25,509.07 300.47,507.4 300.7,506 C300.93,504.6 301.15,503.28 301.4,502.5 C301.65,501.72 301.93,501.53 302.2,501.3 C302.47,501.07 302.7,500.82 303,501.1 C303.3,501.38 303.67,502.27 304,503 C304.33,503.73 304.67,504.5 305,505.5 C305.33,506.5 305.67,507.77 306,509 C306.33,510.23 306.72,511.65 307,512.9 C307.28,514.15 307.47,515.27 307.7,516.5 C307.93,517.73 308.12,518.97 308.4,520.3 C308.68,521.63 309.07,523.15 309.4,524.5 C309.73,525.85 310.07,527.15 310.4,528.4 C310.73,529.65 311.07,530.93 311.4,532 C311.73,533.07 312.23,534.3 312.4,534.8 C312.57,535.3 312.4,534.97 312.4,535 Z" fill="#6a64ab" fill-opacity="0.9" stroke="none"/>
<path d="M271.2,535 L285.5,535 L285.5,535 C285.5,534.97 285.08,535 285.5,534.8 C285.92,534.6 287.22,534.2 288,533.8 C288.78,533.4 289.53,532.9 290.2,532.4 C290.87,531.9 291.43,531.25 292,530.8 C292.57,530.35 293.1,530.03 293.6,529.7 C294.1,529.37 294.55,529.13 295,528.8 C295.45,528.47 295.92,528.25 296.3,527.7 C296.68,527.15 296.97,526.28 297.3,525.5 C297.63,524.72 297.98,524.42 298.3,523 C298.62,521.58 298.92,519.02 299.2,517 C299.48,514.98 299.75,512.73 300,510.9 C300.25,509.07 300.47,507.4 300.7,506 C300.93,504.6 301.15,503.28 301.4,502.5 C301.65,501.72 301.93,501.53 302.2,501.3 C302.47,501.07 302.7,500.82 303,501.1 C303.3,501.38 303.67,502.27 304,503 C304.33,503.73 304.67,504.5 305,505.5 C305.33,506.5 305.67,507.77 306,509 C306.33,510.23 306.72,511.65 307,512.9 C307.28,514.15 307.47,515.27 307.7,516.5 C307.93,517.73 308.12,518.97 308.4,520.3 C308.68,521.63 309.07,523.15 309.4,524.5 C309.73,525.85 310.07,527.15 310.4,528.4 C310.73,529.65 311.07,530.93 311.4,532 C311.73,533.07 312.23,534.3 312.4,534.8 C312.57,535.3 312.4,534.97 312.4,535 L338.1,535" fill="none" stroke="#33429a" stroke-width="1.3" stroke-linejoin="round"/>
<path d="M281.5,555.5 C281.5,555.48 280.42,555.48 281.5,555.4 C282.58,555.32 285.77,555.23 288,555 C290.23,554.77 293.13,554.5 294.9,554 C296.67,553.5 297.37,552.68 298.6,552 C299.83,551.32 301.45,550.65 302.3,549.9 C303.15,549.15 303.25,548.4 303.7,547.5 C304.15,546.6 304.62,546.08 305,544.5 C305.38,542.92 305.67,540.23 306,538 C306.33,535.77 306.72,533.18 307,531.1 C307.28,529.02 307.47,527.3 307.7,525.5 C307.93,523.7 308.12,521.55 308.4,520.3 C308.68,519.05 309.07,518.67 309.4,518 C309.73,517.33 310.07,516.72 310.4,516.3 C310.73,515.88 311.07,515.68 311.4,515.5 C311.73,515.32 312.12,515.18 312.4,515.2 C312.68,515.22 312.87,515.42 313.1,515.6 C313.33,515.78 313.57,515.65 313.8,516.3 C314.03,516.95 314.28,518.27 314.5,519.5 C314.72,520.73 314.87,521.78 315.1,523.7 C315.33,525.62 315.63,528.43 315.9,531 C316.17,533.57 316.42,536.77 316.7,539.1 C316.98,541.43 317.3,543.2 317.6,545 C317.9,546.8 318.1,548.65 318.5,549.9 C318.9,551.15 319.45,551.78 320,552.5 C320.55,553.22 320.82,553.7 321.8,554.2 C322.78,554.7 325.22,555.28 325.9,555.5 Z" fill="#da7556" fill-opacity="0.9" stroke="none"/>
<path d="M271.2,555.5 L281.5,555.5 L281.5,555.5 C281.5,555.48 280.42,555.48 281.5,555.4 C282.58,555.32 285.77,555.23 288,555 C290.23,554.77 293.13,554.5 294.9,554 C296.67,553.5 297.37,552.68 298.6,552 C299.83,551.32 301.45,550.65 302.3,549.9 C303.15,549.15 303.25,548.4 303.7,547.5 C304.15,546.6 304.62,546.08 305,544.5 C305.38,542.92 305.67,540.23 306,538 C306.33,535.77 306.72,533.18 307,531.1 C307.28,529.02 307.47,527.3 307.7,525.5 C307.93,523.7 308.12,521.55 308.4,520.3 C308.68,519.05 309.07,518.67 309.4,518 C309.73,517.33 310.07,516.72 310.4,516.3 C310.73,515.88 311.07,515.68 311.4,515.5 C311.73,515.32 312.12,515.18 312.4,515.2 C312.68,515.22 312.87,515.42 313.1,515.6 C313.33,515.78 313.57,515.65 313.8,516.3 C314.03,516.95 314.28,518.27 314.5,519.5 C314.72,520.73 314.87,521.78 315.1,523.7 C315.33,525.62 315.63,528.43 315.9,531 C316.17,533.57 316.42,536.77 316.7,539.1 C316.98,541.43 317.3,543.2 317.6,545 C317.9,546.8 318.1,548.65 318.5,549.9 C318.9,551.15 319.45,551.78 320,552.5 C320.55,553.22 320.82,553.7 321.8,554.2 C322.78,554.7 325.22,555.28 325.9,555.5 L338.1,555.5" fill="none" stroke="#cf1f18" stroke-width="1.4" stroke-linejoin="round"/>
<rect x="271.2" y="490.1" width="66.9" height="66.2" fill="none" stroke="#000" stroke-width="1.3"/>
<path d="M272.5,556.9 v2.7 M276.5,556.9 v2.7 M279.5,556.9 v2.7 M281.5,556.9 v2.7 M283.5,556.9 v2.7 M288.5,556.9 v2.7 M291.5,556.9 v2.7 M293.5,556.9 v2.7 M298.5,556.9 v2.7 M300.5,556.9 v2.7 M302.5,556.9 v2.7 M305.5,556.9 v2.7 M307.5,556.9 v2.7 M309.5,556.9 v2.7 M314.5,556.9 v2.7 M316.5,556.9 v2.7 M319.5,556.9 v2.7 M321.5,556.9 v2.7 M323.5,556.9 v2.7 M326.5,556.9 v2.7 M330.5,556.9 v2.7 M333.5,556.9 v2.7 M335.5,556.9 v2.7 M275.5,556.9 v3.5 M285.5,556.9 v3.5 M296.5,556.9 v3.5 M312.5,556.9 v3.5 M329.5,556.9 v3.5 " stroke="#000" stroke-width="0.9" fill="none"/>
<text x="269.1" y="569.2" font-size="7.3" text-anchor="start" font-weight="normal" font-style="normal" fill="#231f20" textLength="9.2" lengthAdjust="spacingAndGlyphs" stroke="#231f20" stroke-width="0.25">-10</text>
<text x="278.7" y="565.4" font-size="4.4" text-anchor="start" font-weight="normal" font-style="normal" fill="#231f20" textLength="2.4" lengthAdjust="spacingAndGlyphs" stroke="#231f20" stroke-width="0.3">3</text>
<text x="283.8" y="569.2" font-size="7.3" text-anchor="start" font-weight="normal" font-style="normal" fill="#231f20" textLength="3.9" lengthAdjust="spacingAndGlyphs" stroke="#231f20" stroke-width="0.25">0</text>
<text x="292.5" y="569.2" font-size="7.3" text-anchor="start" font-weight="normal" font-style="normal" fill="#231f20" textLength="7.1" lengthAdjust="spacingAndGlyphs" stroke="#231f20" stroke-width="0.25">10</text>
<text x="300" y="565.4" font-size="4.4" text-anchor="start" font-weight="normal" font-style="normal" fill="#231f20" textLength="2.4" lengthAdjust="spacingAndGlyphs" stroke="#231f20" stroke-width="0.3">3</text>
<text x="310.6" y="569.2" font-size="7.3" text-anchor="start" font-weight="normal" font-style="normal" fill="#231f20" textLength="7.1" lengthAdjust="spacingAndGlyphs" stroke="#231f20" stroke-width="0.25">10</text>
<text x="318.1" y="565.4" font-size="4.4" text-anchor="start" font-weight="normal" font-style="normal" fill="#231f20" textLength="2.4" lengthAdjust="spacingAndGlyphs" stroke="#231f20" stroke-width="0.3">4</text>
<text x="326.8" y="569.2" font-size="7.3" text-anchor="start" font-weight="normal" font-style="normal" fill="#231f20" textLength="7.1" lengthAdjust="spacingAndGlyphs" stroke="#231f20" stroke-width="0.25">10</text>
<text x="334.3" y="565.4" font-size="4.4" text-anchor="start" font-weight="normal" font-style="normal" fill="#231f20" textLength="2.4" lengthAdjust="spacingAndGlyphs" stroke="#231f20" stroke-width="0.3">5</text>
<path d="M360.5,535 C360.5,534.97 360.17,535.05 360.5,534.8 C360.83,534.55 361.83,534.12 362.5,533.5 C363.17,532.88 364,531.93 364.5,531.1 C365,530.27 365.17,529.4 365.5,528.5 C365.83,527.6 366.22,526.87 366.5,525.7 C366.78,524.53 366.97,522.85 367.2,521.5 C367.43,520.15 367.62,518.93 367.9,517.6 C368.18,516.27 368.57,514.85 368.9,513.5 C369.23,512.15 369.52,510.67 369.9,509.5 C370.28,508.33 370.75,507.38 371.2,506.5 C371.65,505.62 372.2,504.32 372.6,504.2 C373,504.08 373.27,505.13 373.6,505.8 C373.93,506.47 374.27,507.08 374.6,508.2 C374.93,509.32 375.27,510.93 375.6,512.5 C375.93,514.07 376.27,516.1 376.6,517.6 C376.93,519.1 377.27,520.15 377.6,521.5 C377.93,522.85 378.27,524.62 378.6,525.7 C378.93,526.78 379.25,527.33 379.6,528 C379.95,528.67 380.23,529.03 380.7,529.7 C381.17,530.37 381.85,531.32 382.4,532 C382.95,532.68 382.73,533.4 384,533.8 C385.27,534.2 388,534.35 390,534.4 C392,534.45 393.85,534.03 396,534.1 C398.15,534.17 401.75,534.65 402.9,534.8 C404.05,534.95 402.9,534.97 402.9,535 Z" fill="#6a64ab" fill-opacity="0.9" stroke="none"/>
<path d="M349,535 L360.5,535 L360.5,535 C360.5,534.97 360.17,535.05 360.5,534.8 C360.83,534.55 361.83,534.12 362.5,533.5 C363.17,532.88 364,531.93 364.5,531.1 C365,530.27 365.17,529.4 365.5,528.5 C365.83,527.6 366.22,526.87 366.5,525.7 C366.78,524.53 366.97,522.85 367.2,521.5 C367.43,520.15 367.62,518.93 367.9,517.6 C368.18,516.27 368.57,514.85 368.9,513.5 C369.23,512.15 369.52,510.67 369.9,509.5 C370.28,508.33 370.75,507.38 371.2,506.5 C371.65,505.62 372.2,504.32 372.6,504.2 C373,504.08 373.27,505.13 373.6,505.8 C373.93,506.47 374.27,507.08 374.6,508.2 C374.93,509.32 375.27,510.93 375.6,512.5 C375.93,514.07 376.27,516.1 376.6,517.6 C376.93,519.1 377.27,520.15 377.6,521.5 C377.93,522.85 378.27,524.62 378.6,525.7 C378.93,526.78 379.25,527.33 379.6,528 C379.95,528.67 380.23,529.03 380.7,529.7 C381.17,530.37 381.85,531.32 382.4,532 C382.95,532.68 382.73,533.4 384,533.8 C385.27,534.2 388,534.35 390,534.4 C392,534.45 393.85,534.03 396,534.1 C398.15,534.17 401.75,534.65 402.9,534.8 C404.05,534.95 402.9,534.97 402.9,535 L415.8,535" fill="none" stroke="#33429a" stroke-width="1.3" stroke-linejoin="round"/>
<path d="M362.5,555.5 C362.5,555.48 362.08,555.73 362.5,555.4 C362.92,555.07 364.22,554.18 365,553.5 C365.78,552.82 366.45,551.73 367.2,551.3 C367.95,550.87 368.72,551.02 369.5,550.9 C370.28,550.78 370.9,550.75 371.9,550.6 C372.9,550.45 374.27,550.23 375.5,550 C376.73,549.77 378.38,549.62 379.3,549.2 C380.22,548.78 380.43,548.05 381,547.5 C381.57,546.95 382.2,546.48 382.7,545.9 C383.2,545.32 383.55,544.68 384,544 C384.45,543.32 384.93,542.97 385.4,541.8 C385.87,540.63 386.35,538.57 386.8,537 C387.25,535.43 387.72,533.98 388.1,532.4 C388.48,530.82 388.77,529.07 389.1,527.5 C389.43,525.93 389.77,524.17 390.1,523 C390.43,521.83 390.78,521.25 391.1,520.5 C391.42,519.75 391.65,519.03 392,518.5 C392.35,517.97 392.87,517.17 393.2,517.3 C393.53,517.43 393.73,518.58 394,519.3 C394.27,520.02 394.5,520.48 394.8,521.6 C395.1,522.72 395.47,524.42 395.8,526 C396.13,527.58 396.47,529.35 396.8,531.1 C397.13,532.85 397.47,534.72 397.8,536.5 C398.13,538.28 398.42,540.22 398.8,541.8 C399.18,543.38 399.65,544.65 400.1,546 C400.55,547.35 400.98,548.87 401.5,549.9 C402.02,550.93 402.63,551.52 403.2,552.2 C403.77,552.88 404.05,553.45 404.9,554 C405.75,554.55 407.73,555.25 408.3,555.5 Z" fill="#da7556" fill-opacity="0.9" stroke="none"/>
<path d="M349,555.5 L362.5,555.5 L362.5,555.5 C362.5,555.48 362.08,555.73 362.5,555.4 C362.92,555.07 364.22,554.18 365,553.5 C365.78,552.82 366.45,551.73 367.2,551.3 C367.95,550.87 368.72,551.02 369.5,550.9 C370.28,550.78 370.9,550.75 371.9,550.6 C372.9,550.45 374.27,550.23 375.5,550 C376.73,549.77 378.38,549.62 379.3,549.2 C380.22,548.78 380.43,548.05 381,547.5 C381.57,546.95 382.2,546.48 382.7,545.9 C383.2,545.32 383.55,544.68 384,544 C384.45,543.32 384.93,542.97 385.4,541.8 C385.87,540.63 386.35,538.57 386.8,537 C387.25,535.43 387.72,533.98 388.1,532.4 C388.48,530.82 388.77,529.07 389.1,527.5 C389.43,525.93 389.77,524.17 390.1,523 C390.43,521.83 390.78,521.25 391.1,520.5 C391.42,519.75 391.65,519.03 392,518.5 C392.35,517.97 392.87,517.17 393.2,517.3 C393.53,517.43 393.73,518.58 394,519.3 C394.27,520.02 394.5,520.48 394.8,521.6 C395.1,522.72 395.47,524.42 395.8,526 C396.13,527.58 396.47,529.35 396.8,531.1 C397.13,532.85 397.47,534.72 397.8,536.5 C398.13,538.28 398.42,540.22 398.8,541.8 C399.18,543.38 399.65,544.65 400.1,546 C400.55,547.35 400.98,548.87 401.5,549.9 C402.02,550.93 402.63,551.52 403.2,552.2 C403.77,552.88 404.05,553.45 404.9,554 C405.75,554.55 407.73,555.25 408.3,555.5 L415.8,555.5" fill="none" stroke="#cf1f18" stroke-width="1.4" stroke-linejoin="round"/>
<rect x="349" y="490.1" width="66.8" height="66.2" fill="none" stroke="#000" stroke-width="1.3"/>
<path d="M350.5,556.9 v2.7 M354.5,556.9 v2.7 M357.5,556.9 v2.7 M359.5,556.9 v2.7 M361.5,556.9 v2.7 M366.5,556.9 v2.7 M368.5,556.9 v2.7 M371.5,556.9 v2.7 M375.5,556.9 v2.7 M378.5,556.9 v2.7 M380.5,556.9 v2.7 M382.5,556.9 v2.7 M385.5,556.9 v2.7 M387.5,556.9 v2.7 M392.5,556.9 v2.7 M394.5,556.9 v2.7 M397.5,556.9 v2.7 M399.5,556.9 v2.7 M401.5,556.9 v2.7 M404.5,556.9 v2.7 M408.5,556.9 v2.7 M411.5,556.9 v2.7 M413.5,556.9 v2.7 M352.5,556.9 v3.5 M363.5,556.9 v3.5 M374.5,556.9 v3.5 M390.5,556.9 v3.5 M406.5,556.9 v3.5 " stroke="#000" stroke-width="0.9" fill="none"/>
<text x="346.9" y="569.2" font-size="7.3" text-anchor="start" font-weight="normal" font-style="normal" fill="#231f20" textLength="9.2" lengthAdjust="spacingAndGlyphs" stroke="#231f20" stroke-width="0.25">-10</text>
<text x="356.5" y="565.4" font-size="4.4" text-anchor="start" font-weight="normal" font-style="normal" fill="#231f20" textLength="2.4" lengthAdjust="spacingAndGlyphs" stroke="#231f20" stroke-width="0.3">3</text>
<text x="361.6" y="569.2" font-size="7.3" text-anchor="start" font-weight="normal" font-style="normal" fill="#231f20" textLength="3.9" lengthAdjust="spacingAndGlyphs" stroke="#231f20" stroke-width="0.25">0</text>
<text x="370.3" y="569.2" font-size="7.3" text-anchor="start" font-weight="normal" font-style="normal" fill="#231f20" textLength="7.1" lengthAdjust="spacingAndGlyphs" stroke="#231f20" stroke-width="0.25">10</text>
<text x="377.8" y="565.4" font-size="4.4" text-anchor="start" font-weight="normal" font-style="normal" fill="#231f20" textLength="2.4" lengthAdjust="spacingAndGlyphs" stroke="#231f20" stroke-width="0.3">3</text>
<text x="388.4" y="569.2" font-size="7.3" text-anchor="start" font-weight="normal" font-style="normal" fill="#231f20" textLength="7.1" lengthAdjust="spacingAndGlyphs" stroke="#231f20" stroke-width="0.25">10</text>
<text x="395.9" y="565.4" font-size="4.4" text-anchor="start" font-weight="normal" font-style="normal" fill="#231f20" textLength="2.4" lengthAdjust="spacingAndGlyphs" stroke="#231f20" stroke-width="0.3">4</text>
<text x="404.6" y="569.2" font-size="7.3" text-anchor="start" font-weight="normal" font-style="normal" fill="#231f20" textLength="7.1" lengthAdjust="spacingAndGlyphs" stroke="#231f20" stroke-width="0.25">10</text>
<text x="412.1" y="565.4" font-size="4.4" text-anchor="start" font-weight="normal" font-style="normal" fill="#231f20" textLength="2.4" lengthAdjust="spacingAndGlyphs" stroke="#231f20" stroke-width="0.3">5</text>
<path d="M440.5,535 C440.5,534.97 440,535 440.5,534.8 C441,534.6 442.48,534.42 443.5,533.8 C444.52,533.18 445.85,531.9 446.6,531.1 C447.35,530.3 447.57,529.68 448,529 C448.43,528.32 448.82,527.87 449.2,527 C449.58,526.13 449.95,524.92 450.3,523.8 C450.65,522.68 450.97,521.77 451.3,520.3 C451.63,518.83 451.97,516.8 452.3,515 C452.63,513.2 453.02,510.83 453.3,509.5 C453.58,508.17 453.78,507.67 454,507 C454.22,506.33 454.38,505.83 454.6,505.5 C454.82,505.17 455.07,505.12 455.3,505 C455.53,504.88 455.77,505.3 456,504.8 C456.23,504.3 456.48,502.9 456.7,502 C456.92,501.1 457.1,500.03 457.3,499.4 C457.5,498.77 457.72,498.48 457.9,498.2 C458.08,497.92 458.22,497.48 458.4,497.7 C458.58,497.92 458.8,498.65 459,499.5 C459.2,500.35 459.4,501.3 459.6,502.8 C459.8,504.3 460.02,506.48 460.2,508.5 C460.38,510.52 460.52,512.9 460.7,514.9 C460.88,516.9 461.08,518.7 461.3,520.5 C461.52,522.3 461.77,524.2 462,525.7 C462.23,527.2 462.47,528.38 462.7,529.5 C462.93,530.62 462.95,531.52 463.4,532.4 C463.85,533.28 465.07,534.37 465.4,534.8 C465.73,535.23 465.4,534.97 465.4,535 Z" fill="#6a64ab" fill-opacity="0.9" stroke="none"/>
<path d="M427.5,535 L440.5,535 L440.5,535 C440.5,534.97 440,535 440.5,534.8 C441,534.6 442.48,534.42 443.5,533.8 C444.52,533.18 445.85,531.9 446.6,531.1 C447.35,530.3 447.57,529.68 448,529 C448.43,528.32 448.82,527.87 449.2,527 C449.58,526.13 449.95,524.92 450.3,523.8 C450.65,522.68 450.97,521.77 451.3,520.3 C451.63,518.83 451.97,516.8 452.3,515 C452.63,513.2 453.02,510.83 453.3,509.5 C453.58,508.17 453.78,507.67 454,507 C454.22,506.33 454.38,505.83 454.6,505.5 C454.82,505.17 455.07,505.12 455.3,505 C455.53,504.88 455.77,505.3 456,504.8 C456.23,504.3 456.48,502.9 456.7,502 C456.92,501.1 457.1,500.03 457.3,499.4 C457.5,498.77 457.72,498.48 457.9,498.2 C458.08,497.92 458.22,497.48 458.4,497.7 C458.58,497.92 458.8,498.65 459,499.5 C459.2,500.35 459.4,501.3 459.6,502.8 C459.8,504.3 460.02,506.48 460.2,508.5 C460.38,510.52 460.52,512.9 460.7,514.9 C460.88,516.9 461.08,518.7 461.3,520.5 C461.52,522.3 461.77,524.2 462,525.7 C462.23,527.2 462.47,528.38 462.7,529.5 C462.93,530.62 462.95,531.52 463.4,532.4 C463.85,533.28 465.07,534.37 465.4,534.8 C465.73,535.23 465.4,534.97 465.4,535 L494.2,535" fill="none" stroke="#33429a" stroke-width="1.3" stroke-linejoin="round"/>
<path d="M441.8,555.5 C441.8,555.48 441.1,555.57 441.8,555.4 C442.5,555.23 444.65,554.85 446,554.5 C447.35,554.15 448.73,553.55 449.9,553.3 C451.07,553.05 451.88,553.12 453,553 C454.12,552.88 455.72,552.85 456.6,552.6 C457.48,552.35 457.73,551.95 458.3,551.5 C458.87,551.05 459.43,550.57 460,549.9 C460.57,549.23 461.13,548.4 461.7,547.5 C462.27,546.6 462.88,545.62 463.4,544.5 C463.92,543.38 464.35,542.13 464.8,540.8 C465.25,539.47 465.72,538.22 466.1,536.5 C466.48,534.78 466.77,532.53 467.1,530.5 C467.43,528.47 467.77,526.22 468.1,524.3 C468.43,522.38 468.77,520.45 469.1,519 C469.43,517.55 469.82,515.97 470.1,515.6 C470.38,515.23 470.57,516.23 470.8,516.8 C471.03,517.37 471.22,517.88 471.5,519 C471.78,520.12 472.17,521.93 472.5,523.5 C472.83,525.07 473.17,526.68 473.5,528.4 C473.83,530.12 474.17,532.02 474.5,533.8 C474.83,535.58 475.12,537.48 475.5,539.1 C475.88,540.72 476.35,542.15 476.8,543.5 C477.25,544.85 477.63,546.03 478.2,547.2 C478.77,548.37 479.53,549.6 480.2,550.5 C480.87,551.4 481.57,552.02 482.2,552.6 C482.83,553.18 483.32,553.52 484,554 C484.68,554.48 485.92,555.25 486.3,555.5 Z" fill="#da7556" fill-opacity="0.9" stroke="none"/>
<path d="M427.5,555.5 L441.8,555.5 L441.8,555.5 C441.8,555.48 441.1,555.57 441.8,555.4 C442.5,555.23 444.65,554.85 446,554.5 C447.35,554.15 448.73,553.55 449.9,553.3 C451.07,553.05 451.88,553.12 453,553 C454.12,552.88 455.72,552.85 456.6,552.6 C457.48,552.35 457.73,551.95 458.3,551.5 C458.87,551.05 459.43,550.57 460,549.9 C460.57,549.23 461.13,548.4 461.7,547.5 C462.27,546.6 462.88,545.62 463.4,544.5 C463.92,543.38 464.35,542.13 464.8,540.8 C465.25,539.47 465.72,538.22 466.1,536.5 C466.48,534.78 466.77,532.53 467.1,530.5 C467.43,528.47 467.77,526.22 468.1,524.3 C468.43,522.38 468.77,520.45 469.1,519 C469.43,517.55 469.82,515.97 470.1,515.6 C470.38,515.23 470.57,516.23 470.8,516.8 C471.03,517.37 471.22,517.88 471.5,519 C471.78,520.12 472.17,521.93 472.5,523.5 C472.83,525.07 473.17,526.68 473.5,528.4 C473.83,530.12 474.17,532.02 474.5,533.8 C474.83,535.58 475.12,537.48 475.5,539.1 C475.88,540.72 476.35,542.15 476.8,543.5 C477.25,544.85 477.63,546.03 478.2,547.2 C478.77,548.37 479.53,549.6 480.2,550.5 C480.87,551.4 481.57,552.02 482.2,552.6 C482.83,553.18 483.32,553.52 484,554 C484.68,554.48 485.92,555.25 486.3,555.5 L494.2,555.5" fill="none" stroke="#cf1f18" stroke-width="1.4" stroke-linejoin="round"/>
<rect x="427.5" y="490.1" width="66.7" height="66.2" fill="none" stroke="#000" stroke-width="1.3"/>
<path d="M428.5,556.9 v2.7 M433.5,556.9 v2.7 M435.5,556.9 v2.7 M437.5,556.9 v2.7 M440.5,556.9 v2.7 M444.5,556.9 v2.7 M447.5,556.9 v2.7 M449.5,556.9 v2.7 M454.5,556.9 v2.7 M456.5,556.9 v2.7 M459.5,556.9 v2.7 M461.5,556.9 v2.7 M463.5,556.9 v2.7 M466.5,556.9 v2.7 M470.5,556.9 v2.7 M473.5,556.9 v2.7 M475.5,556.9 v2.7 M477.5,556.9 v2.7 M480.5,556.9 v2.7 M482.5,556.9 v2.7 M487.5,556.9 v2.7 M489.5,556.9 v2.7 M491.5,556.9 v2.7 M431.5,556.9 v3.5 M442.5,556.9 v3.5 M452.5,556.9 v3.5 M468.5,556.9 v3.5 M485.5,556.9 v3.5 " stroke="#000" stroke-width="0.9" fill="none"/>
<text x="425.4" y="569.2" font-size="7.3" text-anchor="start" font-weight="normal" font-style="normal" fill="#231f20" textLength="9.2" lengthAdjust="spacingAndGlyphs" stroke="#231f20" stroke-width="0.25">-10</text>
<text x="435" y="565.4" font-size="4.4" text-anchor="start" font-weight="normal" font-style="normal" fill="#231f20" textLength="2.4" lengthAdjust="spacingAndGlyphs" stroke="#231f20" stroke-width="0.3">3</text>
<text x="440.1" y="569.2" font-size="7.3" text-anchor="start" font-weight="normal" font-style="normal" fill="#231f20" textLength="3.9" lengthAdjust="spacingAndGlyphs" stroke="#231f20" stroke-width="0.25">0</text>
<text x="448.8" y="569.2" font-size="7.3" text-anchor="start" font-weight="normal" font-style="normal" fill="#231f20" textLength="7.1" lengthAdjust="spacingAndGlyphs" stroke="#231f20" stroke-width="0.25">10</text>
<text x="456.3" y="565.4" font-size="4.4" text-anchor="start" font-weight="normal" font-style="normal" fill="#231f20" textLength="2.4" lengthAdjust="spacingAndGlyphs" stroke="#231f20" stroke-width="0.3">3</text>
<text x="466.9" y="569.2" font-size="7.3" text-anchor="start" font-weight="normal" font-style="normal" fill="#231f20" textLength="7.1" lengthAdjust="spacingAndGlyphs" stroke="#231f20" stroke-width="0.25">10</text>
<text x="474.4" y="565.4" font-size="4.4" text-anchor="start" font-weight="normal" font-style="normal" fill="#231f20" textLength="2.4" lengthAdjust="spacingAndGlyphs" stroke="#231f20" stroke-width="0.3">4</text>
<text x="483.1" y="569.2" font-size="7.3" text-anchor="start" font-weight="normal" font-style="normal" fill="#231f20" textLength="7.1" lengthAdjust="spacingAndGlyphs" stroke="#231f20" stroke-width="0.25">10</text>
<text x="490.6" y="565.4" font-size="4.4" text-anchor="start" font-weight="normal" font-style="normal" fill="#231f20" textLength="2.4" lengthAdjust="spacingAndGlyphs" stroke="#231f20" stroke-width="0.3">5</text>
<text x="33.8" y="534.5" font-size="7.7" text-anchor="end" font-weight="normal" font-style="normal" fill="#231f20" textLength="12.8" lengthAdjust="spacingAndGlyphs" stroke="#231f20" stroke-width="0.18">PBS</text>
<text x="33.8" y="555.7" font-size="7.7" text-anchor="end" font-weight="normal" font-style="normal" fill="#231f20" textLength="8.2" lengthAdjust="spacingAndGlyphs" stroke="#231f20" stroke-width="0.18">SE</text>
<line x1="38.2" y1="574.5" x2="491.7" y2="574.5" stroke="#505050" stroke-width="1.4"/>
<path d="M495.7,574.5 L489.7,572.2 L489.7,576.8 Z" fill="#000"/>
<text x="233.4" y="585.7" font-size="8.5" text-anchor="start" font-weight="normal" font-style="normal" fill="#231f20" textLength="50.8" lengthAdjust="spacingAndGlyphs" stroke="#231f20" stroke-width="0.18">CD132 (IL2R-&#947;)</text>
<text x="285.7" y="585.7" font-size="8.5" text-anchor="start" font-weight="bold" font-style="italic" fill="#231f20" textLength="14.6" lengthAdjust="spacingAndGlyphs">APC</text>
<rect x="0.5" y="0.5" width="519" height="596" fill="none" stroke="#000" stroke-width="1.2"/>
</svg>
</body></html>
